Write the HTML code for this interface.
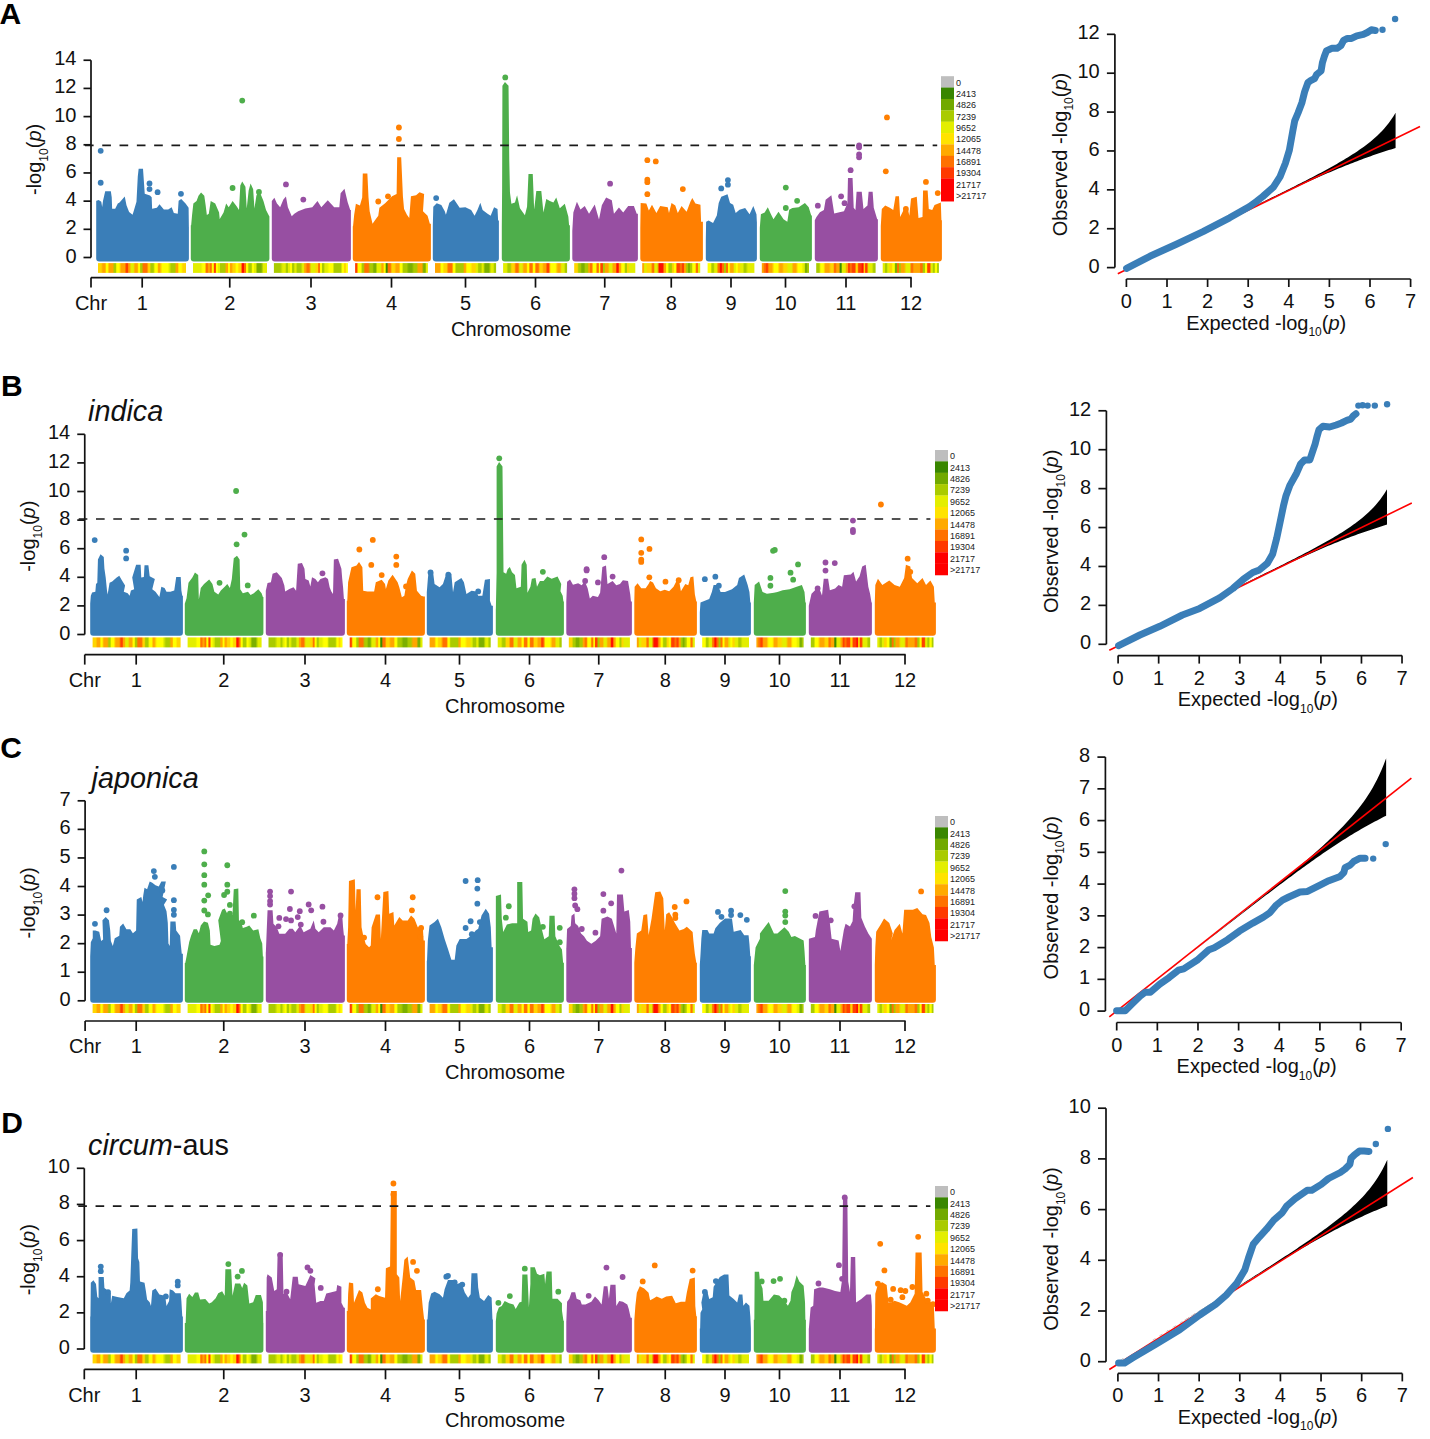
<!DOCTYPE html><html><head><meta charset="utf-8"><style>html,body{margin:0;padding:0;background:#fff;overflow:hidden}svg{display:block}</style></head><body>
<svg width="1430" height="1439" viewBox="0 0 1430 1439">
<rect width="1430" height="1439" fill="#fff"/>
<text x="-0.5" y="24.3" font-size="30" font-weight="bold" font-family="'Liberation Sans', sans-serif" fill="#000">A</text>
<text x="1.0" y="396.2" font-size="30" font-weight="bold" font-family="'Liberation Sans', sans-serif" fill="#000">B</text>
<text x="0.3" y="757.5" font-size="30" font-weight="bold" font-family="'Liberation Sans', sans-serif" fill="#000">C</text>
<text x="1.3" y="1133" font-size="30" font-weight="bold" font-family="'Liberation Sans', sans-serif" fill="#000">D</text>
<text x="88" y="420.8" font-size="28.8" font-style="italic" font-family="'Liberation Sans', sans-serif" fill="#111">indica</text>
<text x="91.5" y="788.3" font-size="28.8" font-style="italic" font-family="'Liberation Sans', sans-serif" fill="#111">japonica</text>
<text x="88" y="1155.4" font-size="28.8" font-family="'Liberation Sans', sans-serif" fill="#111"><tspan font-style="italic">circum</tspan>-aus</text>
<path d="M91,257.5 V60.24" stroke="#111" stroke-width="1.7" fill="none"/>
<path d="M83.5,257.5 H91" stroke="#111" stroke-width="1.7"/>
<text x="76.5" y="262.5" text-anchor="end" font-size="20" font-family="'Liberation Sans', sans-serif" fill="#111">0</text>
<path d="M83.5,229.32 H91" stroke="#111" stroke-width="1.7"/>
<text x="76.5" y="234.32" text-anchor="end" font-size="20" font-family="'Liberation Sans', sans-serif" fill="#111">2</text>
<path d="M83.5,201.14 H91" stroke="#111" stroke-width="1.7"/>
<text x="76.5" y="206.14" text-anchor="end" font-size="20" font-family="'Liberation Sans', sans-serif" fill="#111">4</text>
<path d="M83.5,172.96 H91" stroke="#111" stroke-width="1.7"/>
<text x="76.5" y="177.96" text-anchor="end" font-size="20" font-family="'Liberation Sans', sans-serif" fill="#111">6</text>
<path d="M83.5,144.78 H91" stroke="#111" stroke-width="1.7"/>
<text x="76.5" y="149.78" text-anchor="end" font-size="20" font-family="'Liberation Sans', sans-serif" fill="#111">8</text>
<path d="M83.5,116.6 H91" stroke="#111" stroke-width="1.7"/>
<text x="76.5" y="121.6" text-anchor="end" font-size="20" font-family="'Liberation Sans', sans-serif" fill="#111">10</text>
<path d="M83.5,88.42 H91" stroke="#111" stroke-width="1.7"/>
<text x="76.5" y="93.42" text-anchor="end" font-size="20" font-family="'Liberation Sans', sans-serif" fill="#111">12</text>
<path d="M83.5,60.24 H91" stroke="#111" stroke-width="1.7"/>
<text x="76.5" y="65.24" text-anchor="end" font-size="20" font-family="'Liberation Sans', sans-serif" fill="#111">14</text>
<text transform="translate(41.3,159.4) rotate(-90)" text-anchor="middle" font-size="20" font-family="'Liberation Sans', sans-serif" fill="#111">-log<tspan font-size="12" dy="6.5">10</tspan><tspan dy="-6.5">(</tspan><tspan font-style="italic">p</tspan>)</text>
<path d="M96.2,258.6 L96.2,200.82 L96.52,200.82 L98.69,199.95 L101.29,201.69 L102.16,206.9 L103.03,200.82 L105.2,191.26 L110.85,191.26 L111.72,197.34 L112.15,208.64 L115.2,208.64 L117.8,203.42 L119.54,202.55 L124.75,196.47 L126.49,205.16 L129.1,212.11 L132.57,214.72 L133.44,212.11 L136.48,201.69 L137.78,176.49 L138.65,168.67 L143,168.67 L144.74,193.87 L149.95,195.6 L151.69,197.34 L152.12,208.64 L156.9,207.77 L159.5,204.29 L163.85,209.5 L168.19,209.5 L171.67,207.33 L173.84,212.98 L177.75,213.85 L178.62,200.82 L181.23,199.08 L185.57,203.42 L188.61,207.77 L188.87,226.88 L188.9,226.88 L188.9,258.6 Q188.9,261.6 185.9,261.6 L99.2,261.6 Q96.2,261.6 96.2,258.6 Z" fill="#3A7EB8"/>
<circle cx="100.69" cy="150.86" r="2.9" fill="#3A7EB8"/>
<circle cx="100.69" cy="182.75" r="2.9" fill="#3A7EB8"/>
<circle cx="149.51" cy="183.44" r="2.9" fill="#3A7EB8"/>
<circle cx="149.51" cy="189.09" r="2.9" fill="#3A7EB8"/>
<circle cx="157.59" cy="192.13" r="2.9" fill="#3A7EB8"/>
<circle cx="180.96" cy="193.87" r="2.9" fill="#3A7EB8"/>
<linearGradient id="g0_0" x1="0" x2="1" y1="0" y2="0"><stop offset="0.0100" stop-color="#ffd500"/><stop offset="0.0353" stop-color="#ffd500"/><stop offset="0.0552" stop-color="#ffa500"/><stop offset="0.0806" stop-color="#ffa500"/><stop offset="0.0955" stop-color="#ffff00"/><stop offset="0.1082" stop-color="#ffff00"/><stop offset="0.1282" stop-color="#ffa500"/><stop offset="0.1662" stop-color="#ffa500"/><stop offset="0.1861" stop-color="#aacb00"/><stop offset="0.1988" stop-color="#aacb00"/><stop offset="0.2137" stop-color="#ffff00"/><stop offset="0.2391" stop-color="#ffff00"/><stop offset="0.2640" stop-color="#ffa500"/><stop offset="0.3020" stop-color="#ffa500"/><stop offset="0.3228" stop-color="#ff4000"/><stop offset="0.3376" stop-color="#ff4000"/><stop offset="0.3484" stop-color="#ffa500"/><stop offset="0.3611" stop-color="#ffa500"/><stop offset="0.3760" stop-color="#e3ee00"/><stop offset="0.4014" stop-color="#e3ee00"/><stop offset="0.4213" stop-color="#ffa500"/><stop offset="0.4466" stop-color="#ffa500"/><stop offset="0.4616" stop-color="#ffff00"/><stop offset="0.4743" stop-color="#ffff00"/><stop offset="0.4842" stop-color="#aacb00"/><stop offset="0.4969" stop-color="#aacb00"/><stop offset="0.5168" stop-color="#ff7100"/><stop offset="0.5549" stop-color="#ff7100"/><stop offset="0.5748" stop-color="#ffd500"/><stop offset="0.5875" stop-color="#ffd500"/><stop offset="0.6024" stop-color="#aacb00"/><stop offset="0.6278" stop-color="#aacb00"/><stop offset="0.6477" stop-color="#ffff00"/><stop offset="0.6731" stop-color="#ffff00"/><stop offset="0.6880" stop-color="#ffa500"/><stop offset="0.7007" stop-color="#ffa500"/><stop offset="0.7306" stop-color="#ffff00"/><stop offset="0.7940" stop-color="#ffff00"/><stop offset="0.8338" stop-color="#aacb00"/><stop offset="0.8718" stop-color="#aacb00"/><stop offset="0.8918" stop-color="#ffa500"/><stop offset="0.9045" stop-color="#ffa500"/><stop offset="0.9194" stop-color="#ffff00"/><stop offset="0.9448" stop-color="#ffff00"/><stop offset="0.9647" stop-color="#ffd500"/><stop offset="0.9900" stop-color="#ffd500"/></linearGradient>
<rect x="98" y="263.1" width="88" height="9.8" fill="url(#g0_0)"/>
<path d="M190.8,258.6 L190.8,225.32 L191.17,225.32 L192.07,215.03 L193.36,203.46 L196.57,200.88 L198.5,195.74 L201.08,192.53 L204.29,195.74 L205.58,204.74 L206.86,215.03 L208.79,213.74 L210.72,200.88 L215.22,203.46 L219.08,212.46 L219.72,218.89 L223.58,212.46 L226.15,203.46 L228.72,207.31 L232.58,200.88 L236.44,206.03 L239.01,209.89 L240.3,185.45 L242.23,181.59 L245.44,186.74 L246.73,208.6 L248.66,190.6 L250.59,183.52 L253.16,189.31 L254.44,208.6 L256.37,195.74 L258.95,189.95 L263.45,200.88 L266.02,209.89 L269.23,216.32 L269.4,216.32 L269.4,258.6 Q269.4,261.6 266.4,261.6 L193.8,261.6 Q190.8,261.6 190.8,258.6 Z" fill="#4EAE4B"/>
<circle cx="242.23" cy="100.58" r="2.9" fill="#4EAE4B"/>
<circle cx="232.58" cy="188.02" r="2.9" fill="#4EAE4B"/>
<circle cx="258.95" cy="191.88" r="2.9" fill="#4EAE4B"/>
<linearGradient id="g0_1" x1="0" x2="1" y1="0" y2="0"><stop offset="0.0106" stop-color="#e3ee00"/><stop offset="0.0376" stop-color="#e3ee00"/><stop offset="0.0641" stop-color="#e3ee00"/><stop offset="0.1046" stop-color="#e3ee00"/><stop offset="0.1320" stop-color="#ffff00"/><stop offset="0.1612" stop-color="#ffff00"/><stop offset="0.1789" stop-color="#ff7100"/><stop offset="0.1946" stop-color="#ff7100"/><stop offset="0.2070" stop-color="#ffa500"/><stop offset="0.2227" stop-color="#ffa500"/><stop offset="0.2342" stop-color="#ff7100"/><stop offset="0.2477" stop-color="#ff7100"/><stop offset="0.2592" stop-color="#ffff00"/><stop offset="0.2749" stop-color="#ffff00"/><stop offset="0.2873" stop-color="#ff4000"/><stop offset="0.3031" stop-color="#ff4000"/><stop offset="0.3154" stop-color="#ffff00"/><stop offset="0.3312" stop-color="#ffff00"/><stop offset="0.3435" stop-color="#e3ee00"/><stop offset="0.3593" stop-color="#e3ee00"/><stop offset="0.3716" stop-color="#aacb00"/><stop offset="0.3874" stop-color="#aacb00"/><stop offset="0.4042" stop-color="#aacb00"/><stop offset="0.4312" stop-color="#aacb00"/><stop offset="0.4488" stop-color="#ffa500"/><stop offset="0.4668" stop-color="#ffa500"/><stop offset="0.4792" stop-color="#ffff00"/><stop offset="0.4927" stop-color="#ffff00"/><stop offset="0.5051" stop-color="#ffa500"/><stop offset="0.5231" stop-color="#ffa500"/><stop offset="0.5407" stop-color="#ffd500"/><stop offset="0.5677" stop-color="#ffd500"/><stop offset="0.5854" stop-color="#ffff00"/><stop offset="0.6034" stop-color="#ffff00"/><stop offset="0.6210" stop-color="#ffd500"/><stop offset="0.6480" stop-color="#ffd500"/><stop offset="0.6657" stop-color="#ff1000"/><stop offset="0.6837" stop-color="#ff1000"/><stop offset="0.6961" stop-color="#ff7100"/><stop offset="0.7096" stop-color="#ff7100"/><stop offset="0.7210" stop-color="#ffff00"/><stop offset="0.7368" stop-color="#ffff00"/><stop offset="0.7553" stop-color="#aacb00"/><stop offset="0.7868" stop-color="#aacb00"/><stop offset="0.8045" stop-color="#ffff00"/><stop offset="0.8180" stop-color="#ffff00"/><stop offset="0.8295" stop-color="#e3ee00"/><stop offset="0.8452" stop-color="#e3ee00"/><stop offset="0.8708" stop-color="#7cb000"/><stop offset="0.9203" stop-color="#7cb000"/><stop offset="0.9530" stop-color="#e3ee00"/><stop offset="0.9867" stop-color="#e3ee00"/></linearGradient>
<rect x="193" y="263.1" width="74" height="9.8" fill="url(#g0_1)"/>
<path d="M271.8,258.6 L271.8,215.03 L271.8,215.03 L271.81,200.88 L274.38,197.67 L276.95,203.46 L280.16,207.31 L283.38,199.6 L285.95,196.38 L287.88,207.31 L291.74,216.32 L294.31,213.74 L298.17,211.17 L305.24,208.6 L312.31,207.31 L317.46,200.88 L321.32,207.31 L327.75,200.24 L334.18,207.31 L339.32,207.31 L340.61,193.17 L344.47,188.67 L347.68,202.17 L350.25,209.89 L350.9,209.89 L350.9,258.6 Q350.9,261.6 347.9,261.6 L274.8,261.6 Q271.8,261.6 271.8,258.6 Z" fill="#974FA2"/>
<circle cx="285.95" cy="184.42" r="2.9" fill="#974FA2"/>
<circle cx="303.31" cy="199.6" r="2.9" fill="#974FA2"/>
<linearGradient id="g0_2" x1="0" x2="1" y1="0" y2="0"><stop offset="0.0239" stop-color="#aacb00"/><stop offset="0.0846" stop-color="#aacb00"/><stop offset="0.1208" stop-color="#e3ee00"/><stop offset="0.1523" stop-color="#e3ee00"/><stop offset="0.1700" stop-color="#aacb00"/><stop offset="0.1835" stop-color="#aacb00"/><stop offset="0.1949" stop-color="#e3ee00"/><stop offset="0.2107" stop-color="#e3ee00"/><stop offset="0.2231" stop-color="#ffff00"/><stop offset="0.2388" stop-color="#ffff00"/><stop offset="0.2520" stop-color="#aacb00"/><stop offset="0.2700" stop-color="#aacb00"/><stop offset="0.2824" stop-color="#e3ee00"/><stop offset="0.2959" stop-color="#e3ee00"/><stop offset="0.3189" stop-color="#aacb00"/><stop offset="0.3639" stop-color="#aacb00"/><stop offset="0.3877" stop-color="#e3ee00"/><stop offset="0.4035" stop-color="#e3ee00"/><stop offset="0.4158" stop-color="#ffa500"/><stop offset="0.4316" stop-color="#ffa500"/><stop offset="0.4484" stop-color="#ff7100"/><stop offset="0.4753" stop-color="#ff7100"/><stop offset="0.5036" stop-color="#e3ee00"/><stop offset="0.5486" stop-color="#e3ee00"/><stop offset="0.5733" stop-color="#ffd500"/><stop offset="0.5913" stop-color="#ffd500"/><stop offset="0.6037" stop-color="#ff7100"/><stop offset="0.6172" stop-color="#ff7100"/><stop offset="0.6287" stop-color="#ffff00"/><stop offset="0.6444" stop-color="#ffff00"/><stop offset="0.6568" stop-color="#aacb00"/><stop offset="0.6725" stop-color="#aacb00"/><stop offset="0.6902" stop-color="#e3ee00"/><stop offset="0.7194" stop-color="#e3ee00"/><stop offset="0.7486" stop-color="#ffff00"/><stop offset="0.7936" stop-color="#ffff00"/><stop offset="0.8174" stop-color="#aacb00"/><stop offset="0.8332" stop-color="#aacb00"/><stop offset="0.8570" stop-color="#aacb00"/><stop offset="0.9020" stop-color="#aacb00"/><stop offset="0.9259" stop-color="#ffff00"/><stop offset="0.9416" stop-color="#ffff00"/><stop offset="0.9531" stop-color="#ffd500"/><stop offset="0.9666" stop-color="#ffd500"/><stop offset="0.9781" stop-color="#ffff00"/><stop offset="0.9938" stop-color="#ffff00"/></linearGradient>
<rect x="273.9" y="263.1" width="74" height="9.8" fill="url(#g0_2)"/>
<path d="M352.8,258.6 L352.8,226.15 L353.03,226.15 L354.17,214.68 L355.89,203.78 L359.91,205.5 L362.2,197.48 L362.78,173.39 L367.36,173.39 L368.51,197.48 L369.66,211.24 L372.52,223.85 L374.82,220.41 L378.26,215.83 L379.4,207.8 L385.14,203.21 L392.02,196.33 L396.61,194.04 L397.18,157.34 L401.19,157.34 L402.91,196.33 L404.06,208.94 L406.93,214.68 L409.22,218.12 L410.94,196.33 L416.1,195.18 L419.54,192.32 L424.13,194.04 L422.98,211.24 L427.57,215.83 L429.86,223.85 L430.9,223.85 L430.9,258.6 Q430.9,261.6 427.9,261.6 L355.8,261.6 Q352.8,261.6 352.8,258.6 Z" fill="#FF7F01"/>
<circle cx="398.9" cy="127.52" r="2.9" fill="#FF7F01"/>
<circle cx="398.9" cy="138.99" r="2.9" fill="#FF7F01"/>
<circle cx="378.26" cy="201.49" r="2.9" fill="#FF7F01"/>
<circle cx="388" cy="196.33" r="2.9" fill="#FF7F01"/>
<linearGradient id="g0_3" x1="0" x2="1" y1="0" y2="0"><stop offset="0.0063" stop-color="#ff4000"/><stop offset="0.0223" stop-color="#ff4000"/><stop offset="0.0429" stop-color="#ffff00"/><stop offset="0.0795" stop-color="#ffff00"/><stop offset="0.0993" stop-color="#aacb00"/><stop offset="0.1130" stop-color="#aacb00"/><stop offset="0.1354" stop-color="#ff7100"/><stop offset="0.1789" stop-color="#ff7100"/><stop offset="0.2076" stop-color="#aacb00"/><stop offset="0.2373" stop-color="#aacb00"/><stop offset="0.2580" stop-color="#7cb000"/><stop offset="0.2808" stop-color="#7cb000"/><stop offset="0.3060" stop-color="#e3ee00"/><stop offset="0.3471" stop-color="#e3ee00"/><stop offset="0.3696" stop-color="#ffa500"/><stop offset="0.3856" stop-color="#ffa500"/><stop offset="0.3981" stop-color="#ffff00"/><stop offset="0.4141" stop-color="#ffff00"/><stop offset="0.4258" stop-color="#3a8a00"/><stop offset="0.4395" stop-color="#3a8a00"/><stop offset="0.4557" stop-color="#ff7100"/><stop offset="0.4831" stop-color="#ff7100"/><stop offset="0.5064" stop-color="#ffd500"/><stop offset="0.5384" stop-color="#ffd500"/><stop offset="0.5654" stop-color="#ffa500"/><stop offset="0.6020" stop-color="#ffa500"/><stop offset="0.6235" stop-color="#ffff00"/><stop offset="0.6418" stop-color="#ffff00"/><stop offset="0.6651" stop-color="#aacb00"/><stop offset="0.7063" stop-color="#aacb00"/><stop offset="0.7386" stop-color="#7cb000"/><stop offset="0.7798" stop-color="#7cb000"/><stop offset="0.8085" stop-color="#aacb00"/><stop offset="0.8405" stop-color="#aacb00"/><stop offset="0.8710" stop-color="#ffa500"/><stop offset="0.9167" stop-color="#ffa500"/><stop offset="0.9428" stop-color="#7cb000"/><stop offset="0.9633" stop-color="#7cb000"/><stop offset="0.9777" stop-color="#e3ee00"/><stop offset="0.9937" stop-color="#e3ee00"/></linearGradient>
<rect x="355.1" y="263.1" width="72.8" height="9.8" fill="url(#g0_3)"/>
<path d="M432.8,258.6 L432.8,226.15 L432.8,226.15 L433.3,206.65 L436.74,203.21 L441.33,204.93 L444.77,211.24 L445.92,214.68 L449.36,202.64 L453.94,199.2 L459.68,207.8 L465.41,207.22 L471.15,210.09 L474.59,215.83 L477.45,210.09 L480.32,202.64 L482.61,210.09 L487.2,213.53 L490.64,215.83 L494.08,207.22 L497.52,208.94 L498.1,220.41 L498.9,220.41 L498.9,258.6 Q498.9,261.6 495.9,261.6 L435.8,261.6 Q432.8,261.6 432.8,258.6 Z" fill="#3A7EB8"/>
<circle cx="436.17" cy="198.05" r="2.9" fill="#3A7EB8"/>
<linearGradient id="g0_4" x1="0" x2="1" y1="0" y2="0"><stop offset="0.0217" stop-color="#ffa500"/><stop offset="0.0770" stop-color="#ffa500"/><stop offset="0.1063" stop-color="#ffff00"/><stop offset="0.1255" stop-color="#ffff00"/><stop offset="0.1482" stop-color="#ffd500"/><stop offset="0.1866" stop-color="#ffd500"/><stop offset="0.2225" stop-color="#ff7100"/><stop offset="0.2754" stop-color="#ff7100"/><stop offset="0.3037" stop-color="#ffff00"/><stop offset="0.3229" stop-color="#ffff00"/><stop offset="0.3456" stop-color="#aacb00"/><stop offset="0.3840" stop-color="#aacb00"/><stop offset="0.4161" stop-color="#aacb00"/><stop offset="0.4594" stop-color="#aacb00"/><stop offset="0.4821" stop-color="#ffa500"/><stop offset="0.4965" stop-color="#ffa500"/><stop offset="0.5229" stop-color="#ffff00"/><stop offset="0.5758" stop-color="#ffff00"/><stop offset="0.6136" stop-color="#ffd500"/><stop offset="0.6568" stop-color="#ffd500"/><stop offset="0.6795" stop-color="#e3ee00"/><stop offset="0.6939" stop-color="#e3ee00"/><stop offset="0.7147" stop-color="#aacb00"/><stop offset="0.7531" stop-color="#aacb00"/><stop offset="0.7739" stop-color="#e3ee00"/><stop offset="0.7883" stop-color="#e3ee00"/><stop offset="0.8185" stop-color="#7cb000"/><stop offset="0.8810" stop-color="#7cb000"/><stop offset="0.9188" stop-color="#e3ee00"/><stop offset="0.9524" stop-color="#e3ee00"/><stop offset="0.9732" stop-color="#aacb00"/><stop offset="0.9924" stop-color="#aacb00"/></linearGradient>
<rect x="435" y="263.1" width="61.1" height="9.8" fill="url(#g0_4)"/>
<path d="M501.8,258.6 L501.8,228.09 L501.8,228.09 L502.12,188.21 L502.41,85.64 L504.97,82.08 L508.53,85.64 L509.25,159.72 L509.96,192.48 L511.38,203.87 L514.94,202.45 L517.08,195.33 L519.93,208.15 L524.91,215.27 L527.05,206.72 L528.48,173.96 L532.75,173.96 L534.17,209.57 L536.31,191.05 L541.3,191.05 L543.43,212.42 L546.28,198.89 L549.84,201.03 L553.4,202.45 L556.25,197.46 L559.81,208.15 L564.8,203.87 L568.36,216.7 L569.07,225.24 L569.9,225.24 L569.9,258.6 Q569.9,261.6 566.9,261.6 L504.8,261.6 Q501.8,261.6 501.8,258.6 Z" fill="#4EAE4B"/>
<circle cx="505.26" cy="77.38" r="2.9" fill="#4EAE4B"/>
<linearGradient id="g0_5" x1="0" x2="1" y1="0" y2="0"><stop offset="0.0144" stop-color="#e3ee00"/><stop offset="0.0511" stop-color="#e3ee00"/><stop offset="0.0782" stop-color="#aacb00"/><stop offset="0.1103" stop-color="#aacb00"/><stop offset="0.1374" stop-color="#ffd500"/><stop offset="0.1741" stop-color="#ffd500"/><stop offset="0.2011" stop-color="#ff7100"/><stop offset="0.2333" stop-color="#ff7100"/><stop offset="0.2603" stop-color="#e3ee00"/><stop offset="0.2970" stop-color="#e3ee00"/><stop offset="0.3259" stop-color="#ffa500"/><stop offset="0.3626" stop-color="#ffa500"/><stop offset="0.3834" stop-color="#ffff00"/><stop offset="0.3994" stop-color="#ffff00"/><stop offset="0.4193" stop-color="#ff7100"/><stop offset="0.4537" stop-color="#ff7100"/><stop offset="0.4744" stop-color="#ffff00"/><stop offset="0.4928" stop-color="#ffff00"/><stop offset="0.5135" stop-color="#ff7100"/><stop offset="0.5480" stop-color="#ff7100"/><stop offset="0.5750" stop-color="#ffd500"/><stop offset="0.6094" stop-color="#ffd500"/><stop offset="0.6356" stop-color="#ffa500"/><stop offset="0.6677" stop-color="#ffa500"/><stop offset="0.6884" stop-color="#ff4000"/><stop offset="0.7091" stop-color="#ff4000"/><stop offset="0.7452" stop-color="#ffff00"/><stop offset="0.8163" stop-color="#ffff00"/><stop offset="0.8569" stop-color="#ffa500"/><stop offset="0.8890" stop-color="#ffa500"/><stop offset="0.9161" stop-color="#e3ee00"/><stop offset="0.9528" stop-color="#e3ee00"/><stop offset="0.9744" stop-color="#aacb00"/><stop offset="0.9928" stop-color="#aacb00"/></linearGradient>
<rect x="503.1" y="263.1" width="64" height="9.8" fill="url(#g0_5)"/>
<path d="M572.3,258.6 L572.3,230.94 L572.3,230.94 L573.35,212.42 L576.91,201.74 L580.47,209.57 L584.74,206.01 L589.02,213.85 L594.72,204.59 L598.99,219.54 L601.84,205.3 L606.11,197.46 L611.81,200.31 L613.95,213.85 L618.93,207.44 L623.21,212.42 L628.19,206.01 L633.89,206.01 L636.74,213.85 L637.9,213.85 L637.9,258.6 Q637.9,261.6 634.9,261.6 L575.3,261.6 Q572.3,261.6 572.3,258.6 Z" fill="#974FA2"/>
<circle cx="610.1" cy="183.65" r="2.9" fill="#974FA2"/>
<linearGradient id="g0_6" x1="0" x2="1" y1="0" y2="0"><stop offset="0.0142" stop-color="#ffd500"/><stop offset="0.0502" stop-color="#ffd500"/><stop offset="0.0748" stop-color="#aacb00"/><stop offset="0.1012" stop-color="#aacb00"/><stop offset="0.1248" stop-color="#7cb000"/><stop offset="0.1585" stop-color="#7cb000"/><stop offset="0.1849" stop-color="#aacb00"/><stop offset="0.2185" stop-color="#aacb00"/><stop offset="0.2374" stop-color="#ffa500"/><stop offset="0.2518" stop-color="#ffa500"/><stop offset="0.2660" stop-color="#ff7100"/><stop offset="0.2876" stop-color="#ff7100"/><stop offset="0.3122" stop-color="#ffff00"/><stop offset="0.3530" stop-color="#ffff00"/><stop offset="0.3767" stop-color="#ff7100"/><stop offset="0.3959" stop-color="#ff7100"/><stop offset="0.4082" stop-color="#ffff00"/><stop offset="0.4202" stop-color="#ffff00"/><stop offset="0.4353" stop-color="#ff4000"/><stop offset="0.4617" stop-color="#ff4000"/><stop offset="0.4778" stop-color="#aacb00"/><stop offset="0.4922" stop-color="#aacb00"/><stop offset="0.5130" stop-color="#ffa500"/><stop offset="0.5514" stop-color="#ffa500"/><stop offset="0.5797" stop-color="#e3ee00"/><stop offset="0.6134" stop-color="#e3ee00"/><stop offset="0.6408" stop-color="#ffa500"/><stop offset="0.6768" stop-color="#ffa500"/><stop offset="0.6995" stop-color="#ff1000"/><stop offset="0.7211" stop-color="#ff1000"/><stop offset="0.7372" stop-color="#ffa500"/><stop offset="0.7564" stop-color="#ffa500"/><stop offset="0.7791" stop-color="#ffff00"/><stop offset="0.8175" stop-color="#ffff00"/><stop offset="0.8392" stop-color="#aacb00"/><stop offset="0.8561" stop-color="#aacb00"/><stop offset="0.8674" stop-color="#ffd500"/><stop offset="0.8794" stop-color="#ffd500"/><stop offset="0.9096" stop-color="#e3ee00"/><stop offset="0.9745" stop-color="#e3ee00"/></linearGradient>
<rect x="574.2" y="263.1" width="61.1" height="9.8" fill="url(#g0_6)"/>
<path d="M640.3,258.6 L640.3,228.12 L640.3,228.12 L640.66,202.94 L646.33,203.57 L648.85,210.49 L651.99,204.83 L656.4,213.01 L660.18,206.09 L667.73,207.35 L668.99,213.01 L671.51,202.94 L675.28,205.46 L677.8,213.01 L681.58,206.09 L686.61,211.75 L690.39,201.68 L692.28,197.91 L695.42,203.57 L700.46,204.83 L701.09,221.82 L702.9,221.82 L702.9,258.6 Q702.9,261.6 699.9,261.6 L643.3,261.6 Q640.3,261.6 640.3,258.6 Z" fill="#FF7F01"/>
<circle cx="647.34" cy="160.14" r="2.9" fill="#FF7F01"/>
<circle cx="655.77" cy="161.4" r="2.9" fill="#FF7F01"/>
<circle cx="647.34" cy="179.65" r="2.9" fill="#FF7F01"/>
<circle cx="647.34" cy="182.17" r="2.9" fill="#FF7F01"/>
<circle cx="647.34" cy="194.13" r="2.9" fill="#FF7F01"/>
<circle cx="682.83" cy="189.09" r="2.9" fill="#FF7F01"/>
<linearGradient id="g0_7" x1="0" x2="1" y1="0" y2="0"><stop offset="0.0074" stop-color="#ffa500"/><stop offset="0.0263" stop-color="#ffa500"/><stop offset="0.0412" stop-color="#e3ee00"/><stop offset="0.0601" stop-color="#e3ee00"/><stop offset="0.0907" stop-color="#ffd500"/><stop offset="0.1498" stop-color="#ffd500"/><stop offset="0.1795" stop-color="#ff7100"/><stop offset="0.1960" stop-color="#ff7100"/><stop offset="0.2183" stop-color="#e3ee00"/><stop offset="0.2585" stop-color="#e3ee00"/><stop offset="0.2965" stop-color="#ff1000"/><stop offset="0.3532" stop-color="#ff1000"/><stop offset="0.3830" stop-color="#ffa500"/><stop offset="0.4019" stop-color="#ffa500"/><stop offset="0.4176" stop-color="#ffff00"/><stop offset="0.4389" stop-color="#ffff00"/><stop offset="0.4630" stop-color="#aacb00"/><stop offset="0.5032" stop-color="#aacb00"/><stop offset="0.5255" stop-color="#ffd500"/><stop offset="0.5420" stop-color="#ffd500"/><stop offset="0.5569" stop-color="#ffff00"/><stop offset="0.5781" stop-color="#ffff00"/><stop offset="0.6014" stop-color="#ff4000"/><stop offset="0.6392" stop-color="#ff4000"/><stop offset="0.6605" stop-color="#ff7100"/><stop offset="0.6770" stop-color="#ff7100"/><stop offset="0.6919" stop-color="#ff4000"/><stop offset="0.7132" stop-color="#ff4000"/><stop offset="0.7299" stop-color="#ffa500"/><stop offset="0.7511" stop-color="#ffa500"/><stop offset="0.7660" stop-color="#aacb00"/><stop offset="0.7825" stop-color="#aacb00"/><stop offset="0.7965" stop-color="#7cb000"/><stop offset="0.8154" stop-color="#7cb000"/><stop offset="0.8302" stop-color="#aacb00"/><stop offset="0.8491" stop-color="#aacb00"/><stop offset="0.8723" stop-color="#ffff00"/><stop offset="0.9125" stop-color="#ffff00"/><stop offset="0.9357" stop-color="#ff7100"/><stop offset="0.9546" stop-color="#ff7100"/><stop offset="0.9704" stop-color="#e3ee00"/><stop offset="0.9916" stop-color="#e3ee00"/></linearGradient>
<rect x="642.2" y="263.1" width="58" height="9.8" fill="url(#g0_7)"/>
<path d="M705.8,258.6 L705.8,240.7 L705.8,240.7 L706.12,221.82 L708.64,220.56 L713.05,223.08 L716.82,215.53 L718.71,202.94 L721.23,196.65 L727.52,194.13 L730.04,202.94 L733.19,204.83 L735.7,213.01 L739.48,209.86 L745.15,207.98 L749.55,214.27 L753.33,206.09 L756.48,214.27 L756.85,221.82 L756.9,221.82 L756.9,258.6 Q756.9,261.6 753.9,261.6 L708.8,261.6 Q705.8,261.6 705.8,258.6 Z" fill="#3A7EB8"/>
<circle cx="727.9" cy="180.03" r="2.9" fill="#3A7EB8"/>
<circle cx="727.9" cy="184.69" r="2.9" fill="#3A7EB8"/>
<circle cx="721.23" cy="188.46" r="2.9" fill="#3A7EB8"/>
<linearGradient id="g0_8" x1="0" x2="1" y1="0" y2="0"><stop offset="0.0178" stop-color="#ffff00"/><stop offset="0.0630" stop-color="#ffff00"/><stop offset="0.0926" stop-color="#aacb00"/><stop offset="0.1227" stop-color="#aacb00"/><stop offset="0.1523" stop-color="#e3ee00"/><stop offset="0.1975" stop-color="#e3ee00"/><stop offset="0.2251" stop-color="#ff7100"/><stop offset="0.2502" stop-color="#ff7100"/><stop offset="0.2700" stop-color="#ff1000"/><stop offset="0.2951" stop-color="#ff1000"/><stop offset="0.3148" stop-color="#ff7100"/><stop offset="0.3399" stop-color="#ff7100"/><stop offset="0.3587" stop-color="#aacb00"/><stop offset="0.3813" stop-color="#aacb00"/><stop offset="0.4000" stop-color="#ff7100"/><stop offset="0.4251" stop-color="#ff7100"/><stop offset="0.4429" stop-color="#ffff00"/><stop offset="0.4630" stop-color="#ffff00"/><stop offset="0.4916" stop-color="#ffa500"/><stop offset="0.5443" stop-color="#ffa500"/><stop offset="0.5729" stop-color="#e3ee00"/><stop offset="0.5930" stop-color="#e3ee00"/><stop offset="0.6108" stop-color="#ffff00"/><stop offset="0.6359" stop-color="#ffff00"/><stop offset="0.6556" stop-color="#ffd500"/><stop offset="0.6807" stop-color="#ffd500"/><stop offset="0.7083" stop-color="#e3ee00"/><stop offset="0.7535" stop-color="#e3ee00"/><stop offset="0.7831" stop-color="#aacb00"/><stop offset="0.8133" stop-color="#aacb00"/><stop offset="0.8636" stop-color="#e3ee00"/><stop offset="0.9615" stop-color="#e3ee00"/></linearGradient>
<rect x="707.6" y="263.1" width="46.8" height="9.8" fill="url(#g0_8)"/>
<path d="M759.8,258.6 L759.8,228.12 L759.8,228.12 L760.88,214.27 L764.66,212.38 L767.8,207.35 L770.95,214.27 L773.47,219.31 L778.5,211.75 L783.54,219.31 L787.32,221.82 L789.2,209.86 L792.35,207.98 L798.65,207.35 L804.94,202.94 L808.72,207.35 L811.23,215.53 L811.9,215.53 L811.9,258.6 Q811.9,261.6 808.9,261.6 L762.8,261.6 Q759.8,261.6 759.8,258.6 Z" fill="#4EAE4B"/>
<circle cx="785.81" cy="187.58" r="2.9" fill="#4EAE4B"/>
<circle cx="797.13" cy="200.8" r="2.9" fill="#4EAE4B"/>
<circle cx="785.81" cy="207.98" r="2.9" fill="#4EAE4B"/>
<linearGradient id="g0_9" x1="0" x2="1" y1="0" y2="0"><stop offset="0.0088" stop-color="#ffa500"/><stop offset="0.0312" stop-color="#ffa500"/><stop offset="0.0498" stop-color="#ff7100"/><stop offset="0.0747" stop-color="#ff7100"/><stop offset="0.0942" stop-color="#ff4000"/><stop offset="0.1191" stop-color="#ff4000"/><stop offset="0.1524" stop-color="#ffa500"/><stop offset="0.2121" stop-color="#ffa500"/><stop offset="0.2639" stop-color="#ffff00"/><stop offset="0.3361" stop-color="#ffff00"/><stop offset="0.3830" stop-color="#ffa500"/><stop offset="0.4303" stop-color="#ffa500"/><stop offset="0.4684" stop-color="#ffd500"/><stop offset="0.5182" stop-color="#ffd500"/><stop offset="0.5632" stop-color="#e3ee00"/><stop offset="0.6279" stop-color="#e3ee00"/><stop offset="0.6729" stop-color="#ffa500"/><stop offset="0.7227" stop-color="#ffa500"/><stop offset="0.7696" stop-color="#ffff00"/><stop offset="0.8393" stop-color="#ffff00"/><stop offset="0.8764" stop-color="#e3ee00"/><stop offset="0.9013" stop-color="#e3ee00"/><stop offset="0.9228" stop-color="#7cb000"/><stop offset="0.9527" stop-color="#7cb000"/><stop offset="0.9723" stop-color="#aacb00"/><stop offset="0.9922" stop-color="#aacb00"/></linearGradient>
<rect x="761.8" y="263.1" width="47.2" height="9.8" fill="url(#g0_9)"/>
<path d="M814.8,258.6 L814.8,237.55 L814.8,237.55 L814.8,220.36 L816.46,216.92 L819.9,212.33 L823.91,210.04 L825.63,199.72 L831.36,195.14 L834.23,213.48 L839.39,212.33 L843.97,211.19 L847.41,203.16 L847.98,177.95 L852.57,177.95 L853.72,207.75 L855.44,210.04 L856.58,191.7 L861.74,191.7 L863.46,208.9 L867.47,205.46 L868.62,191.7 L872.63,191.7 L873.78,207.75 L877.21,219.21 L877.9,219.21 L877.9,258.6 Q877.9,261.6 874.9,261.6 L817.8,261.6 Q814.8,261.6 814.8,258.6 Z" fill="#974FA2"/>
<circle cx="817.84" cy="205.69" r="2.9" fill="#974FA2"/>
<circle cx="841.11" cy="196.29" r="2.9" fill="#974FA2"/>
<circle cx="844.55" cy="203.16" r="2.9" fill="#974FA2"/>
<circle cx="850.62" cy="170.15" r="2.9" fill="#974FA2"/>
<circle cx="859.1" cy="145.28" r="2.9" fill="#974FA2"/>
<circle cx="859.1" cy="147.23" r="2.9" fill="#974FA2"/>
<circle cx="859.1" cy="154.45" r="2.9" fill="#974FA2"/>
<circle cx="859.1" cy="157.31" r="2.9" fill="#974FA2"/>
<linearGradient id="g0_10" x1="0" x2="1" y1="0" y2="0"><stop offset="0.0136" stop-color="#aacb00"/><stop offset="0.0481" stop-color="#aacb00"/><stop offset="0.0780" stop-color="#ffff00"/><stop offset="0.1195" stop-color="#ffff00"/><stop offset="0.1575" stop-color="#ffa500"/><stop offset="0.2128" stop-color="#ffa500"/><stop offset="0.2491" stop-color="#ffd500"/><stop offset="0.2859" stop-color="#ffd500"/><stop offset="0.3077" stop-color="#ff7100"/><stop offset="0.3261" stop-color="#ff7100"/><stop offset="0.3478" stop-color="#ffa500"/><stop offset="0.3847" stop-color="#ffa500"/><stop offset="0.4046" stop-color="#3a8a00"/><stop offset="0.4184" stop-color="#3a8a00"/><stop offset="0.4420" stop-color="#e3ee00"/><stop offset="0.4881" stop-color="#e3ee00"/><stop offset="0.5125" stop-color="#ffa500"/><stop offset="0.5286" stop-color="#ffa500"/><stop offset="0.5422" stop-color="#ff4000"/><stop offset="0.5607" stop-color="#ff4000"/><stop offset="0.5742" stop-color="#ff7100"/><stop offset="0.5904" stop-color="#ff7100"/><stop offset="0.6121" stop-color="#ff4000"/><stop offset="0.6513" stop-color="#ff4000"/><stop offset="0.6739" stop-color="#ffd500"/><stop offset="0.6923" stop-color="#ffd500"/><stop offset="0.7150" stop-color="#ff4000"/><stop offset="0.7542" stop-color="#ff4000"/><stop offset="0.7759" stop-color="#ff1000"/><stop offset="0.7920" stop-color="#ff1000"/><stop offset="0.8038" stop-color="#ffd500"/><stop offset="0.8176" stop-color="#ffd500"/><stop offset="0.8312" stop-color="#ff4000"/><stop offset="0.8519" stop-color="#ff4000"/><stop offset="0.8818" stop-color="#e3ee00"/><stop offset="0.9371" stop-color="#e3ee00"/><stop offset="0.9679" stop-color="#aacb00"/><stop offset="0.9909" stop-color="#aacb00"/></linearGradient>
<rect x="816.2" y="263.1" width="59.4" height="9.8" fill="url(#g0_10)"/>
<path d="M880.8,258.6 L880.8,226.09 L880.8,226.09 L881.8,208.9 L885.24,205.46 L889.82,207.75 L893.26,210.04 L895.55,196.29 L898.99,196.29 L900.14,216.92 L903.58,210.04 L907.59,207.18 L909.31,215.77 L911.03,198.58 L916.76,196.86 L918.48,218.07 L922.49,216.92 L923.07,190.55 L927.65,190.55 L928.8,208.9 L932.24,210.04 L934.53,204.88 L940.83,202.59 L941.41,220.36 L941.9,220.36 L941.9,258.6 Q941.9,261.6 938.9,261.6 L883.8,261.6 Q880.8,261.6 880.8,258.6 Z" fill="#FF7F01"/>
<circle cx="886.96" cy="117.42" r="2.9" fill="#FF7F01"/>
<circle cx="885.81" cy="171.3" r="2.9" fill="#FF7F01"/>
<circle cx="925.93" cy="181.96" r="2.9" fill="#FF7F01"/>
<circle cx="937.74" cy="193.08" r="2.9" fill="#FF7F01"/>
<circle cx="905.87" cy="208.9" r="2.9" fill="#FF7F01"/>
<linearGradient id="g0_11" x1="0" x2="1" y1="0" y2="0"><stop offset="0.0086" stop-color="#e3ee00"/><stop offset="0.0305" stop-color="#e3ee00"/><stop offset="0.0487" stop-color="#aacb00"/><stop offset="0.0730" stop-color="#aacb00"/><stop offset="0.0903" stop-color="#e3ee00"/><stop offset="0.1097" stop-color="#e3ee00"/><stop offset="0.1289" stop-color="#ffd500"/><stop offset="0.1581" stop-color="#ffd500"/><stop offset="0.1801" stop-color="#ffff00"/><stop offset="0.2069" stop-color="#ffff00"/><stop offset="0.2260" stop-color="#7cb000"/><stop offset="0.2479" stop-color="#7cb000"/><stop offset="0.2642" stop-color="#ff7100"/><stop offset="0.2837" stop-color="#ff7100"/><stop offset="0.2970" stop-color="#aacb00"/><stop offset="0.3117" stop-color="#aacb00"/><stop offset="0.3346" stop-color="#ffa500"/><stop offset="0.3784" stop-color="#ffa500"/><stop offset="0.4196" stop-color="#e3ee00"/><stop offset="0.4804" stop-color="#e3ee00"/><stop offset="0.5120" stop-color="#ff7100"/><stop offset="0.5315" stop-color="#ff7100"/><stop offset="0.5554" stop-color="#ffa500"/><stop offset="0.5968" stop-color="#ffa500"/><stop offset="0.6245" stop-color="#ffa500"/><stop offset="0.6537" stop-color="#ffa500"/><stop offset="0.6757" stop-color="#ff7100"/><stop offset="0.7025" stop-color="#ff7100"/><stop offset="0.7217" stop-color="#aacb00"/><stop offset="0.7436" stop-color="#aacb00"/><stop offset="0.7598" stop-color="#ffff00"/><stop offset="0.7793" stop-color="#ffff00"/><stop offset="0.8013" stop-color="#ff4000"/><stop offset="0.8378" stop-color="#ff4000"/><stop offset="0.8608" stop-color="#e3ee00"/><stop offset="0.8827" stop-color="#e3ee00"/><stop offset="0.8990" stop-color="#aacb00"/><stop offset="0.9184" stop-color="#aacb00"/><stop offset="0.9357" stop-color="#ffff00"/><stop offset="0.9600" stop-color="#ffff00"/><stop offset="0.9763" stop-color="#aacb00"/><stop offset="0.9933" stop-color="#aacb00"/></linearGradient>
<rect x="882.7" y="263.1" width="56.2" height="9.8" fill="url(#g0_11)"/>
<path d="M91,277.6 H911.6" stroke="#111" stroke-width="1.7" fill="none"/>
<path d="M91,277.6 V287.6" stroke="#111" stroke-width="1.7"/>
<text x="91" y="310" text-anchor="middle" font-size="20" font-family="'Liberation Sans', sans-serif" fill="#111">Chr</text>
<path d="M142.2,277.6 V287.6" stroke="#111" stroke-width="1.7"/>
<text x="142.2" y="310" text-anchor="middle" font-size="20" font-family="'Liberation Sans', sans-serif" fill="#111">1</text>
<path d="M229.75,277.6 V287.6" stroke="#111" stroke-width="1.7"/>
<text x="229.75" y="310" text-anchor="middle" font-size="20" font-family="'Liberation Sans', sans-serif" fill="#111">2</text>
<path d="M311,277.6 V287.6" stroke="#111" stroke-width="1.7"/>
<text x="311" y="310" text-anchor="middle" font-size="20" font-family="'Liberation Sans', sans-serif" fill="#111">3</text>
<path d="M391.5,277.6 V287.6" stroke="#111" stroke-width="1.7"/>
<text x="391.5" y="310" text-anchor="middle" font-size="20" font-family="'Liberation Sans', sans-serif" fill="#111">4</text>
<path d="M465.5,277.6 V287.6" stroke="#111" stroke-width="1.7"/>
<text x="465.5" y="310" text-anchor="middle" font-size="20" font-family="'Liberation Sans', sans-serif" fill="#111">5</text>
<path d="M535.5,277.6 V287.6" stroke="#111" stroke-width="1.7"/>
<text x="535.5" y="310" text-anchor="middle" font-size="20" font-family="'Liberation Sans', sans-serif" fill="#111">6</text>
<path d="M604.75,277.6 V287.6" stroke="#111" stroke-width="1.7"/>
<text x="604.75" y="310" text-anchor="middle" font-size="20" font-family="'Liberation Sans', sans-serif" fill="#111">7</text>
<path d="M671.25,277.6 V287.6" stroke="#111" stroke-width="1.7"/>
<text x="671.25" y="310" text-anchor="middle" font-size="20" font-family="'Liberation Sans', sans-serif" fill="#111">8</text>
<path d="M731,277.6 V287.6" stroke="#111" stroke-width="1.7"/>
<text x="731" y="310" text-anchor="middle" font-size="20" font-family="'Liberation Sans', sans-serif" fill="#111">9</text>
<path d="M785.5,277.6 V287.6" stroke="#111" stroke-width="1.7"/>
<text x="785.5" y="310" text-anchor="middle" font-size="20" font-family="'Liberation Sans', sans-serif" fill="#111">10</text>
<path d="M846,277.6 V287.6" stroke="#111" stroke-width="1.7"/>
<text x="846" y="310" text-anchor="middle" font-size="20" font-family="'Liberation Sans', sans-serif" fill="#111">11</text>
<path d="M911,277.6 V287.6" stroke="#111" stroke-width="1.7"/>
<text x="911" y="310" text-anchor="middle" font-size="20" font-family="'Liberation Sans', sans-serif" fill="#111">12</text>
<text x="511" y="336" text-anchor="middle" font-size="20" font-family="'Liberation Sans', sans-serif" fill="#111">Chromosome</text>
<path d="M84.95,145.3 H937.2" stroke="#1a1a1a" stroke-width="1.7" stroke-dasharray="8.65,8.65" fill="none"/>
<rect x="941" y="76.2" width="13" height="11.57" fill="#bebebe"/>
<text x="956" y="85.5" font-size="9" font-family="'Liberation Sans', sans-serif" fill="#222">0</text>
<rect x="941" y="87.57" width="13" height="11.57" fill="#398600"/>
<text x="956" y="96.87" font-size="9" font-family="'Liberation Sans', sans-serif" fill="#222">2413</text>
<rect x="941" y="98.94" width="13" height="11.57" fill="#71a900"/>
<text x="956" y="108.24" font-size="9" font-family="'Liberation Sans', sans-serif" fill="#222">4826</text>
<rect x="941" y="110.31" width="13" height="11.57" fill="#aacb00"/>
<text x="956" y="119.61" font-size="9" font-family="'Liberation Sans', sans-serif" fill="#222">7239</text>
<rect x="941" y="121.68" width="13" height="11.57" fill="#e3ee00"/>
<text x="956" y="130.98" font-size="9" font-family="'Liberation Sans', sans-serif" fill="#222">9652</text>
<rect x="941" y="133.05" width="13" height="11.57" fill="#ffe300"/>
<text x="956" y="142.35" font-size="9" font-family="'Liberation Sans', sans-serif" fill="#222">12065</text>
<rect x="941" y="144.42" width="13" height="11.57" fill="#ffaa00"/>
<text x="956" y="153.72" font-size="9" font-family="'Liberation Sans', sans-serif" fill="#222">14478</text>
<rect x="941" y="155.79" width="13" height="11.57" fill="#ff7100"/>
<text x="956" y="165.09" font-size="9" font-family="'Liberation Sans', sans-serif" fill="#222">16891</text>
<rect x="941" y="167.16" width="13" height="11.57" fill="#ff3900"/>
<text x="956" y="176.46" font-size="9" font-family="'Liberation Sans', sans-serif" fill="#222">19304</text>
<rect x="941" y="178.53" width="13" height="11.57" fill="#ff0000"/>
<text x="956" y="187.83" font-size="9" font-family="'Liberation Sans', sans-serif" fill="#222">21717</text>
<rect x="941" y="189.9" width="13" height="11.57" fill="#ff0000"/>
<text x="956" y="199.2" font-size="9" font-family="'Liberation Sans', sans-serif" fill="#222">&gt;21717</text>
<path d="M84.75,634.5 V434.3" stroke="#111" stroke-width="1.7" fill="none"/>
<path d="M77.25,634.5 H84.75" stroke="#111" stroke-width="1.7"/>
<text x="70.25" y="639.5" text-anchor="end" font-size="20" font-family="'Liberation Sans', sans-serif" fill="#111">0</text>
<path d="M77.25,605.9 H84.75" stroke="#111" stroke-width="1.7"/>
<text x="70.25" y="610.9" text-anchor="end" font-size="20" font-family="'Liberation Sans', sans-serif" fill="#111">2</text>
<path d="M77.25,577.3 H84.75" stroke="#111" stroke-width="1.7"/>
<text x="70.25" y="582.3" text-anchor="end" font-size="20" font-family="'Liberation Sans', sans-serif" fill="#111">4</text>
<path d="M77.25,548.7 H84.75" stroke="#111" stroke-width="1.7"/>
<text x="70.25" y="553.7" text-anchor="end" font-size="20" font-family="'Liberation Sans', sans-serif" fill="#111">6</text>
<path d="M77.25,520.1 H84.75" stroke="#111" stroke-width="1.7"/>
<text x="70.25" y="525.1" text-anchor="end" font-size="20" font-family="'Liberation Sans', sans-serif" fill="#111">8</text>
<path d="M77.25,491.5 H84.75" stroke="#111" stroke-width="1.7"/>
<text x="70.25" y="496.5" text-anchor="end" font-size="20" font-family="'Liberation Sans', sans-serif" fill="#111">10</text>
<path d="M77.25,462.9 H84.75" stroke="#111" stroke-width="1.7"/>
<text x="70.25" y="467.9" text-anchor="end" font-size="20" font-family="'Liberation Sans', sans-serif" fill="#111">12</text>
<path d="M77.25,434.3 H84.75" stroke="#111" stroke-width="1.7"/>
<text x="70.25" y="439.3" text-anchor="end" font-size="20" font-family="'Liberation Sans', sans-serif" fill="#111">14</text>
<text transform="translate(35,536.2) rotate(-90)" text-anchor="middle" font-size="20" font-family="'Liberation Sans', sans-serif" fill="#111">-log<tspan font-size="12" dy="6.5">10</tspan><tspan dy="-6.5">(</tspan><tspan font-style="italic">p</tspan>)</text>
<path d="M90.2,632.7 L90.2,603.49 L90.2,603.49 L90.82,595.73 L92.12,592.5 L95.35,591.85 L96,584.09 L97.29,582.79 L97.94,559.51 L100.52,554.33 L103.76,556.92 L104.4,568.56 L105.7,577.62 L106.99,590.56 L107.64,594.44 L109.58,582.79 L112.17,581.5 L116.69,577.62 L119.28,575.68 L121.87,580.21 L125.1,585.38 L123.81,591.85 L127.69,593.14 L129.63,595.73 L130.92,590.56 L134.16,589.26 L132.22,577.62 L136.1,564.68 L140.63,564.68 L141.27,577.62 L143.86,576.97 L144.51,565.33 L148.39,565.33 L149.68,576.33 L154.86,578.91 L153.56,584.09 L152.27,589.26 L155.5,591.85 L159.39,597.02 L161.33,586.68 L164.56,587.97 L166.5,591.85 L170.38,591.85 L174.26,590.56 L176.2,576.97 L180.73,576.97 L181.38,590.56 L182.28,595.73 L182.9,595.73 L182.9,632.7 Q182.9,635.7 179.9,635.7 L93.2,635.7 Q90.2,635.7 90.2,632.7 Z" fill="#3A7EB8"/>
<circle cx="94.7" cy="540.1" r="2.9" fill="#3A7EB8"/>
<circle cx="126.14" cy="550.71" r="2.9" fill="#3A7EB8"/>
<circle cx="126.14" cy="558.47" r="2.9" fill="#3A7EB8"/>
<linearGradient id="g1_0" x1="0" x2="1" y1="0" y2="0"><stop offset="0.0100" stop-color="#ffd500"/><stop offset="0.0353" stop-color="#ffd500"/><stop offset="0.0552" stop-color="#ffa500"/><stop offset="0.0806" stop-color="#ffa500"/><stop offset="0.0955" stop-color="#ffff00"/><stop offset="0.1082" stop-color="#ffff00"/><stop offset="0.1282" stop-color="#ffa500"/><stop offset="0.1662" stop-color="#ffa500"/><stop offset="0.1861" stop-color="#aacb00"/><stop offset="0.1988" stop-color="#aacb00"/><stop offset="0.2137" stop-color="#ffff00"/><stop offset="0.2391" stop-color="#ffff00"/><stop offset="0.2640" stop-color="#ffa500"/><stop offset="0.3020" stop-color="#ffa500"/><stop offset="0.3228" stop-color="#ff4000"/><stop offset="0.3376" stop-color="#ff4000"/><stop offset="0.3484" stop-color="#ffa500"/><stop offset="0.3611" stop-color="#ffa500"/><stop offset="0.3760" stop-color="#e3ee00"/><stop offset="0.4014" stop-color="#e3ee00"/><stop offset="0.4213" stop-color="#ffa500"/><stop offset="0.4466" stop-color="#ffa500"/><stop offset="0.4616" stop-color="#ffff00"/><stop offset="0.4743" stop-color="#ffff00"/><stop offset="0.4842" stop-color="#aacb00"/><stop offset="0.4969" stop-color="#aacb00"/><stop offset="0.5168" stop-color="#ff7100"/><stop offset="0.5549" stop-color="#ff7100"/><stop offset="0.5748" stop-color="#ffd500"/><stop offset="0.5875" stop-color="#ffd500"/><stop offset="0.6024" stop-color="#aacb00"/><stop offset="0.6278" stop-color="#aacb00"/><stop offset="0.6477" stop-color="#ffff00"/><stop offset="0.6731" stop-color="#ffff00"/><stop offset="0.6880" stop-color="#ffa500"/><stop offset="0.7007" stop-color="#ffa500"/><stop offset="0.7306" stop-color="#ffff00"/><stop offset="0.7940" stop-color="#ffff00"/><stop offset="0.8338" stop-color="#aacb00"/><stop offset="0.8718" stop-color="#aacb00"/><stop offset="0.8918" stop-color="#ffa500"/><stop offset="0.9045" stop-color="#ffa500"/><stop offset="0.9194" stop-color="#ffff00"/><stop offset="0.9448" stop-color="#ffff00"/><stop offset="0.9647" stop-color="#ffd500"/><stop offset="0.9900" stop-color="#ffd500"/></linearGradient>
<rect x="92.6" y="637.4" width="88" height="10" fill="url(#g1_0)"/>
<path d="M184.8,632.7 L184.8,603.49 L184.87,603.49 L186.55,598.32 L188.49,582.79 L192.37,577.62 L194.96,572.45 L198.2,575.03 L198.84,599.61 L200.78,587.97 L204.02,584.09 L209.19,579.56 L212.43,584.09 L214.37,591.85 L218.25,594.44 L220.83,590.56 L224.72,586.68 L227.3,584.09 L229.89,587.97 L231.83,578.91 L233.77,558.21 L237.01,555.63 L239.59,559.51 L240.24,589.26 L242.83,593.14 L248,591.85 L250.59,595.08 L253.82,593.14 L258.35,589.26 L261.58,593.14 L262.88,597.02 L263.4,597.02 L263.4,632.7 Q263.4,635.7 260.4,635.7 L187.8,635.7 Q184.8,635.7 184.8,632.7 Z" fill="#4EAE4B"/>
<circle cx="236.1" cy="491" r="2.9" fill="#4EAE4B"/>
<circle cx="244.51" cy="534.54" r="2.9" fill="#4EAE4B"/>
<circle cx="236.62" cy="544.37" r="2.9" fill="#4EAE4B"/>
<circle cx="219.54" cy="582.79" r="2.9" fill="#4EAE4B"/>
<circle cx="247.74" cy="585.38" r="2.9" fill="#4EAE4B"/>
<linearGradient id="g1_1" x1="0" x2="1" y1="0" y2="0"><stop offset="0.0106" stop-color="#e3ee00"/><stop offset="0.0376" stop-color="#e3ee00"/><stop offset="0.0641" stop-color="#e3ee00"/><stop offset="0.1046" stop-color="#e3ee00"/><stop offset="0.1320" stop-color="#ffff00"/><stop offset="0.1612" stop-color="#ffff00"/><stop offset="0.1789" stop-color="#ff7100"/><stop offset="0.1946" stop-color="#ff7100"/><stop offset="0.2070" stop-color="#ffa500"/><stop offset="0.2227" stop-color="#ffa500"/><stop offset="0.2342" stop-color="#ff7100"/><stop offset="0.2477" stop-color="#ff7100"/><stop offset="0.2592" stop-color="#ffff00"/><stop offset="0.2749" stop-color="#ffff00"/><stop offset="0.2873" stop-color="#ff4000"/><stop offset="0.3031" stop-color="#ff4000"/><stop offset="0.3154" stop-color="#ffff00"/><stop offset="0.3312" stop-color="#ffff00"/><stop offset="0.3435" stop-color="#e3ee00"/><stop offset="0.3593" stop-color="#e3ee00"/><stop offset="0.3716" stop-color="#aacb00"/><stop offset="0.3874" stop-color="#aacb00"/><stop offset="0.4042" stop-color="#aacb00"/><stop offset="0.4312" stop-color="#aacb00"/><stop offset="0.4488" stop-color="#ffa500"/><stop offset="0.4668" stop-color="#ffa500"/><stop offset="0.4792" stop-color="#ffff00"/><stop offset="0.4927" stop-color="#ffff00"/><stop offset="0.5051" stop-color="#ffa500"/><stop offset="0.5231" stop-color="#ffa500"/><stop offset="0.5407" stop-color="#ffd500"/><stop offset="0.5677" stop-color="#ffd500"/><stop offset="0.5854" stop-color="#ffff00"/><stop offset="0.6034" stop-color="#ffff00"/><stop offset="0.6210" stop-color="#ffd500"/><stop offset="0.6480" stop-color="#ffd500"/><stop offset="0.6657" stop-color="#ff1000"/><stop offset="0.6837" stop-color="#ff1000"/><stop offset="0.6961" stop-color="#ff7100"/><stop offset="0.7096" stop-color="#ff7100"/><stop offset="0.7210" stop-color="#ffff00"/><stop offset="0.7368" stop-color="#ffff00"/><stop offset="0.7553" stop-color="#aacb00"/><stop offset="0.7868" stop-color="#aacb00"/><stop offset="0.8045" stop-color="#ffff00"/><stop offset="0.8180" stop-color="#ffff00"/><stop offset="0.8295" stop-color="#e3ee00"/><stop offset="0.8452" stop-color="#e3ee00"/><stop offset="0.8708" stop-color="#7cb000"/><stop offset="0.9203" stop-color="#7cb000"/><stop offset="0.9530" stop-color="#e3ee00"/><stop offset="0.9867" stop-color="#e3ee00"/></linearGradient>
<rect x="187.6" y="637.4" width="74" height="10" fill="url(#g1_1)"/>
<path d="M265.8,632.7 L265.8,590.63 L265.8,590.63 L267.55,583.08 L270.91,582.24 L272.59,573.85 L276.78,572.17 L281.82,578.05 L284.34,585.6 L285.18,591.47 L289.37,588.96 L293.57,587.28 L296.09,590.63 L297.76,563.78 L301.96,562.94 L304.48,568.82 L305.32,578.89 L308.67,580.56 L310.35,586.44 L312.03,577.21 L315.39,578.89 L317.91,582.24 L320.42,578.89 L325.46,577.21 L327.98,578.89 L329.65,587.28 L331.33,591.47 L333.01,593.99 L333.85,559.58 L338.05,558.74 L341.4,568.82 L342.24,578.89 L343.08,587.28 L343.92,599.03 L344.9,599.03 L344.9,632.7 Q344.9,635.7 341.9,635.7 L268.8,635.7 Q265.8,635.7 265.8,632.7 Z" fill="#974FA2"/>
<circle cx="322.44" cy="573.35" r="2.9" fill="#974FA2"/>
<linearGradient id="g1_2" x1="0" x2="1" y1="0" y2="0"><stop offset="0.0239" stop-color="#aacb00"/><stop offset="0.0846" stop-color="#aacb00"/><stop offset="0.1208" stop-color="#e3ee00"/><stop offset="0.1523" stop-color="#e3ee00"/><stop offset="0.1700" stop-color="#aacb00"/><stop offset="0.1835" stop-color="#aacb00"/><stop offset="0.1949" stop-color="#e3ee00"/><stop offset="0.2107" stop-color="#e3ee00"/><stop offset="0.2231" stop-color="#ffff00"/><stop offset="0.2388" stop-color="#ffff00"/><stop offset="0.2520" stop-color="#aacb00"/><stop offset="0.2700" stop-color="#aacb00"/><stop offset="0.2824" stop-color="#e3ee00"/><stop offset="0.2959" stop-color="#e3ee00"/><stop offset="0.3189" stop-color="#aacb00"/><stop offset="0.3639" stop-color="#aacb00"/><stop offset="0.3877" stop-color="#e3ee00"/><stop offset="0.4035" stop-color="#e3ee00"/><stop offset="0.4158" stop-color="#ffa500"/><stop offset="0.4316" stop-color="#ffa500"/><stop offset="0.4484" stop-color="#ff7100"/><stop offset="0.4753" stop-color="#ff7100"/><stop offset="0.5036" stop-color="#e3ee00"/><stop offset="0.5486" stop-color="#e3ee00"/><stop offset="0.5733" stop-color="#ffd500"/><stop offset="0.5913" stop-color="#ffd500"/><stop offset="0.6037" stop-color="#ff7100"/><stop offset="0.6172" stop-color="#ff7100"/><stop offset="0.6287" stop-color="#ffff00"/><stop offset="0.6444" stop-color="#ffff00"/><stop offset="0.6568" stop-color="#aacb00"/><stop offset="0.6725" stop-color="#aacb00"/><stop offset="0.6902" stop-color="#e3ee00"/><stop offset="0.7194" stop-color="#e3ee00"/><stop offset="0.7486" stop-color="#ffff00"/><stop offset="0.7936" stop-color="#ffff00"/><stop offset="0.8174" stop-color="#aacb00"/><stop offset="0.8332" stop-color="#aacb00"/><stop offset="0.8570" stop-color="#aacb00"/><stop offset="0.9020" stop-color="#aacb00"/><stop offset="0.9259" stop-color="#ffff00"/><stop offset="0.9416" stop-color="#ffff00"/><stop offset="0.9531" stop-color="#ffd500"/><stop offset="0.9666" stop-color="#ffd500"/><stop offset="0.9781" stop-color="#ffff00"/><stop offset="0.9938" stop-color="#ffff00"/></linearGradient>
<rect x="268.5" y="637.4" width="74" height="10" fill="url(#g1_2)"/>
<path d="M346.8,632.7 L346.8,600.7 L347.28,600.7 L348.12,582.24 L351.47,567.14 L356.51,565.46 L359.03,562.1 L362.38,567.14 L363.22,590.63 L367.42,591.47 L374.13,591.47 L375.81,582.24 L381.69,579.72 L385.04,583.92 L385.88,588.96 L388.4,580.56 L392.59,574.69 L397.63,582.24 L399.31,587.28 L401.83,597.35 L404.34,595.67 L406.02,585.6 L407.7,578.89 L411.9,570.49 L415.25,573.85 L416.93,590.63 L421.13,595.67 L423.65,596.51 L424.9,596.51 L424.9,632.7 Q424.9,635.7 421.9,635.7 L349.8,635.7 Q346.8,635.7 346.8,632.7 Z" fill="#FF7F01"/>
<circle cx="372.79" cy="539.95" r="2.9" fill="#FF7F01"/>
<circle cx="359.36" cy="549.51" r="2.9" fill="#FF7F01"/>
<circle cx="396.29" cy="556.56" r="2.9" fill="#FF7F01"/>
<circle cx="396.29" cy="564.95" r="2.9" fill="#FF7F01"/>
<circle cx="371.28" cy="564.95" r="2.9" fill="#FF7F01"/>
<circle cx="381.69" cy="575.03" r="2.9" fill="#FF7F01"/>
<circle cx="406.02" cy="586.44" r="2.9" fill="#FF7F01"/>
<linearGradient id="g1_3" x1="0" x2="1" y1="0" y2="0"><stop offset="0.0063" stop-color="#ff4000"/><stop offset="0.0223" stop-color="#ff4000"/><stop offset="0.0429" stop-color="#ffff00"/><stop offset="0.0795" stop-color="#ffff00"/><stop offset="0.0993" stop-color="#aacb00"/><stop offset="0.1130" stop-color="#aacb00"/><stop offset="0.1354" stop-color="#ff7100"/><stop offset="0.1789" stop-color="#ff7100"/><stop offset="0.2076" stop-color="#aacb00"/><stop offset="0.2373" stop-color="#aacb00"/><stop offset="0.2580" stop-color="#7cb000"/><stop offset="0.2808" stop-color="#7cb000"/><stop offset="0.3060" stop-color="#e3ee00"/><stop offset="0.3471" stop-color="#e3ee00"/><stop offset="0.3696" stop-color="#ffa500"/><stop offset="0.3856" stop-color="#ffa500"/><stop offset="0.3981" stop-color="#ffff00"/><stop offset="0.4141" stop-color="#ffff00"/><stop offset="0.4258" stop-color="#3a8a00"/><stop offset="0.4395" stop-color="#3a8a00"/><stop offset="0.4557" stop-color="#ff7100"/><stop offset="0.4831" stop-color="#ff7100"/><stop offset="0.5064" stop-color="#ffd500"/><stop offset="0.5384" stop-color="#ffd500"/><stop offset="0.5654" stop-color="#ffa500"/><stop offset="0.6020" stop-color="#ffa500"/><stop offset="0.6235" stop-color="#ffff00"/><stop offset="0.6418" stop-color="#ffff00"/><stop offset="0.6651" stop-color="#aacb00"/><stop offset="0.7063" stop-color="#aacb00"/><stop offset="0.7386" stop-color="#7cb000"/><stop offset="0.7798" stop-color="#7cb000"/><stop offset="0.8085" stop-color="#aacb00"/><stop offset="0.8405" stop-color="#aacb00"/><stop offset="0.8710" stop-color="#ffa500"/><stop offset="0.9167" stop-color="#ffa500"/><stop offset="0.9428" stop-color="#7cb000"/><stop offset="0.9633" stop-color="#7cb000"/><stop offset="0.9777" stop-color="#e3ee00"/><stop offset="0.9937" stop-color="#e3ee00"/></linearGradient>
<rect x="349.7" y="637.4" width="72.8" height="10" fill="url(#g1_3)"/>
<path d="M426.8,632.7 L426.8,592.31 L426.8,592.31 L427.84,578.89 L428.68,570.49 L432.88,570.49 L434.56,583.92 L439.59,587.28 L442.95,583.92 L446.3,573.85 L451.34,573.85 L453.02,592.31 L454.7,582.24 L461.41,578.05 L463.93,582.24 L466.45,593.99 L471.48,590.63 L476.52,591.47 L478.19,595.67 L482.39,595.67 L484.91,579.72 L489.94,578.89 L489.94,600.7 L491.62,605.74 L492.9,605.74 L492.9,632.7 Q492.9,635.7 489.9,635.7 L429.8,635.7 Q426.8,635.7 426.8,632.7 Z" fill="#3A7EB8"/>
<circle cx="430.53" cy="572.51" r="2.9" fill="#3A7EB8"/>
<circle cx="448.32" cy="574.69" r="2.9" fill="#3A7EB8"/>
<circle cx="478.19" cy="591.47" r="2.9" fill="#3A7EB8"/>
<linearGradient id="g1_4" x1="0" x2="1" y1="0" y2="0"><stop offset="0.0217" stop-color="#ffa500"/><stop offset="0.0770" stop-color="#ffa500"/><stop offset="0.1063" stop-color="#ffff00"/><stop offset="0.1255" stop-color="#ffff00"/><stop offset="0.1482" stop-color="#ffd500"/><stop offset="0.1866" stop-color="#ffd500"/><stop offset="0.2225" stop-color="#ff7100"/><stop offset="0.2754" stop-color="#ff7100"/><stop offset="0.3037" stop-color="#ffff00"/><stop offset="0.3229" stop-color="#ffff00"/><stop offset="0.3456" stop-color="#aacb00"/><stop offset="0.3840" stop-color="#aacb00"/><stop offset="0.4161" stop-color="#aacb00"/><stop offset="0.4594" stop-color="#aacb00"/><stop offset="0.4821" stop-color="#ffa500"/><stop offset="0.4965" stop-color="#ffa500"/><stop offset="0.5229" stop-color="#ffff00"/><stop offset="0.5758" stop-color="#ffff00"/><stop offset="0.6136" stop-color="#ffd500"/><stop offset="0.6568" stop-color="#ffd500"/><stop offset="0.6795" stop-color="#e3ee00"/><stop offset="0.6939" stop-color="#e3ee00"/><stop offset="0.7147" stop-color="#aacb00"/><stop offset="0.7531" stop-color="#aacb00"/><stop offset="0.7739" stop-color="#e3ee00"/><stop offset="0.7883" stop-color="#e3ee00"/><stop offset="0.8185" stop-color="#7cb000"/><stop offset="0.8810" stop-color="#7cb000"/><stop offset="0.9188" stop-color="#e3ee00"/><stop offset="0.9524" stop-color="#e3ee00"/><stop offset="0.9732" stop-color="#aacb00"/><stop offset="0.9924" stop-color="#aacb00"/></linearGradient>
<rect x="429.6" y="637.4" width="61.1" height="10" fill="url(#g1_4)"/>
<path d="M495.8,632.7 L495.8,608.87 L495.87,608.87 L496.61,572.16 L496.61,466.43 L499.1,462.03 L502.48,466.43 L503.22,542.79 L503.51,572.16 L506.15,573.63 L507.62,569.22 L509.82,567.02 L512.03,572.16 L514.96,575.1 L516.43,588.31 L520.84,586.84 L521.57,564.82 L524.51,559.68 L526.71,564.82 L527.44,592.72 L530.38,586.84 L531.85,578.77 L535.52,578.03 L536.99,586.84 L539.93,580.97 L543.6,580.97 L547.27,576.56 L551.67,578.77 L557.55,576.56 L561.22,583.91 L560.48,591.25 L562.69,595.65 L563.42,601.53 L563.9,601.53 L563.9,632.7 Q563.9,635.7 560.9,635.7 L498.8,635.7 Q495.8,635.7 495.8,632.7 Z" fill="#4EAE4B"/>
<circle cx="499.25" cy="458.36" r="2.9" fill="#4EAE4B"/>
<circle cx="542.86" cy="571.86" r="2.9" fill="#4EAE4B"/>
<linearGradient id="g1_5" x1="0" x2="1" y1="0" y2="0"><stop offset="0.0144" stop-color="#e3ee00"/><stop offset="0.0511" stop-color="#e3ee00"/><stop offset="0.0782" stop-color="#aacb00"/><stop offset="0.1103" stop-color="#aacb00"/><stop offset="0.1374" stop-color="#ffd500"/><stop offset="0.1741" stop-color="#ffd500"/><stop offset="0.2011" stop-color="#ff7100"/><stop offset="0.2333" stop-color="#ff7100"/><stop offset="0.2603" stop-color="#e3ee00"/><stop offset="0.2970" stop-color="#e3ee00"/><stop offset="0.3259" stop-color="#ffa500"/><stop offset="0.3626" stop-color="#ffa500"/><stop offset="0.3834" stop-color="#ffff00"/><stop offset="0.3994" stop-color="#ffff00"/><stop offset="0.4193" stop-color="#ff7100"/><stop offset="0.4537" stop-color="#ff7100"/><stop offset="0.4744" stop-color="#ffff00"/><stop offset="0.4928" stop-color="#ffff00"/><stop offset="0.5135" stop-color="#ff7100"/><stop offset="0.5480" stop-color="#ff7100"/><stop offset="0.5750" stop-color="#ffd500"/><stop offset="0.6094" stop-color="#ffd500"/><stop offset="0.6356" stop-color="#ffa500"/><stop offset="0.6677" stop-color="#ffa500"/><stop offset="0.6884" stop-color="#ff4000"/><stop offset="0.7091" stop-color="#ff4000"/><stop offset="0.7452" stop-color="#ffff00"/><stop offset="0.8163" stop-color="#ffff00"/><stop offset="0.8569" stop-color="#ffa500"/><stop offset="0.8890" stop-color="#ffa500"/><stop offset="0.9161" stop-color="#e3ee00"/><stop offset="0.9528" stop-color="#e3ee00"/><stop offset="0.9744" stop-color="#aacb00"/><stop offset="0.9928" stop-color="#aacb00"/></linearGradient>
<rect x="497.7" y="637.4" width="64" height="10" fill="url(#g1_5)"/>
<path d="M566.3,632.7 L566.3,601.53 L566.3,601.53 L567.09,581.7 L570.03,579.5 L572.97,584.64 L578.11,583.17 L581.78,585.37 L584.71,580.97 L587.65,588.31 L589.85,598.59 L592.79,595.65 L597.93,597.12 L600.13,592.72 L602.33,567.02 L606.01,565.55 L607.47,583.91 L612.61,580.97 L616.28,585.37 L619.96,583.91 L622.89,580.23 L628.03,580.97 L630.23,594.19 L630.97,601.53 L631.9,601.53 L631.9,632.7 Q631.9,635.7 628.9,635.7 L569.3,635.7 Q566.3,635.7 566.3,632.7 Z" fill="#974FA2"/>
<circle cx="604.24" cy="557.18" r="2.9" fill="#974FA2"/>
<circle cx="586.62" cy="569.22" r="2.9" fill="#974FA2"/>
<circle cx="586.62" cy="570.4" r="2.9" fill="#974FA2"/>
<circle cx="585.15" cy="580.97" r="2.9" fill="#974FA2"/>
<circle cx="597.93" cy="582.44" r="2.9" fill="#974FA2"/>
<circle cx="612.61" cy="576.56" r="2.9" fill="#974FA2"/>
<linearGradient id="g1_6" x1="0" x2="1" y1="0" y2="0"><stop offset="0.0142" stop-color="#ffd500"/><stop offset="0.0502" stop-color="#ffd500"/><stop offset="0.0748" stop-color="#aacb00"/><stop offset="0.1012" stop-color="#aacb00"/><stop offset="0.1248" stop-color="#7cb000"/><stop offset="0.1585" stop-color="#7cb000"/><stop offset="0.1849" stop-color="#aacb00"/><stop offset="0.2185" stop-color="#aacb00"/><stop offset="0.2374" stop-color="#ffa500"/><stop offset="0.2518" stop-color="#ffa500"/><stop offset="0.2660" stop-color="#ff7100"/><stop offset="0.2876" stop-color="#ff7100"/><stop offset="0.3122" stop-color="#ffff00"/><stop offset="0.3530" stop-color="#ffff00"/><stop offset="0.3767" stop-color="#ff7100"/><stop offset="0.3959" stop-color="#ff7100"/><stop offset="0.4082" stop-color="#ffff00"/><stop offset="0.4202" stop-color="#ffff00"/><stop offset="0.4353" stop-color="#ff4000"/><stop offset="0.4617" stop-color="#ff4000"/><stop offset="0.4778" stop-color="#aacb00"/><stop offset="0.4922" stop-color="#aacb00"/><stop offset="0.5130" stop-color="#ffa500"/><stop offset="0.5514" stop-color="#ffa500"/><stop offset="0.5797" stop-color="#e3ee00"/><stop offset="0.6134" stop-color="#e3ee00"/><stop offset="0.6408" stop-color="#ffa500"/><stop offset="0.6768" stop-color="#ffa500"/><stop offset="0.6995" stop-color="#ff1000"/><stop offset="0.7211" stop-color="#ff1000"/><stop offset="0.7372" stop-color="#ffa500"/><stop offset="0.7564" stop-color="#ffa500"/><stop offset="0.7791" stop-color="#ffff00"/><stop offset="0.8175" stop-color="#ffff00"/><stop offset="0.8392" stop-color="#aacb00"/><stop offset="0.8561" stop-color="#aacb00"/><stop offset="0.8674" stop-color="#ffd500"/><stop offset="0.8794" stop-color="#ffd500"/><stop offset="0.9096" stop-color="#e3ee00"/><stop offset="0.9745" stop-color="#e3ee00"/></linearGradient>
<rect x="568.8" y="637.4" width="61.1" height="10" fill="url(#g1_6)"/>
<path d="M634.3,632.7 L634.3,601.53 L634.3,601.53 L634.64,586.84 L637.58,583.17 L641.25,588.31 L645.65,588.31 L648.59,583.91 L650.06,580.97 L653,582.44 L655.93,588.31 L660.34,591.25 L664.74,589.78 L669.15,591.25 L673.55,586.84 L676.49,580.97 L679.43,582.44 L680.9,591.25 L685.3,583.91 L688.24,585.37 L690.44,577.3 L693.38,576.56 L694.85,594.19 L696.31,601.53 L696.9,601.53 L696.9,632.7 Q696.9,635.7 693.9,635.7 L637.3,635.7 Q634.3,635.7 634.3,632.7 Z" fill="#FF7F01"/>
<circle cx="641.25" cy="539.41" r="2.9" fill="#FF7F01"/>
<circle cx="649.47" cy="548.96" r="2.9" fill="#FF7F01"/>
<circle cx="641.25" cy="552.78" r="2.9" fill="#FF7F01"/>
<circle cx="641.25" cy="559.68" r="2.9" fill="#FF7F01"/>
<circle cx="641.25" cy="561.88" r="2.9" fill="#FF7F01"/>
<circle cx="649.32" cy="577.3" r="2.9" fill="#FF7F01"/>
<circle cx="665.48" cy="581.7" r="2.9" fill="#FF7F01"/>
<circle cx="678.69" cy="580.23" r="2.9" fill="#FF7F01"/>
<linearGradient id="g1_7" x1="0" x2="1" y1="0" y2="0"><stop offset="0.0074" stop-color="#ffa500"/><stop offset="0.0263" stop-color="#ffa500"/><stop offset="0.0412" stop-color="#e3ee00"/><stop offset="0.0601" stop-color="#e3ee00"/><stop offset="0.0907" stop-color="#ffd500"/><stop offset="0.1498" stop-color="#ffd500"/><stop offset="0.1795" stop-color="#ff7100"/><stop offset="0.1960" stop-color="#ff7100"/><stop offset="0.2183" stop-color="#e3ee00"/><stop offset="0.2585" stop-color="#e3ee00"/><stop offset="0.2965" stop-color="#ff1000"/><stop offset="0.3532" stop-color="#ff1000"/><stop offset="0.3830" stop-color="#ffa500"/><stop offset="0.4019" stop-color="#ffa500"/><stop offset="0.4176" stop-color="#ffff00"/><stop offset="0.4389" stop-color="#ffff00"/><stop offset="0.4630" stop-color="#aacb00"/><stop offset="0.5032" stop-color="#aacb00"/><stop offset="0.5255" stop-color="#ffd500"/><stop offset="0.5420" stop-color="#ffd500"/><stop offset="0.5569" stop-color="#ffff00"/><stop offset="0.5781" stop-color="#ffff00"/><stop offset="0.6014" stop-color="#ff4000"/><stop offset="0.6392" stop-color="#ff4000"/><stop offset="0.6605" stop-color="#ff7100"/><stop offset="0.6770" stop-color="#ff7100"/><stop offset="0.6919" stop-color="#ff4000"/><stop offset="0.7132" stop-color="#ff4000"/><stop offset="0.7299" stop-color="#ffa500"/><stop offset="0.7511" stop-color="#ffa500"/><stop offset="0.7660" stop-color="#aacb00"/><stop offset="0.7825" stop-color="#aacb00"/><stop offset="0.7965" stop-color="#7cb000"/><stop offset="0.8154" stop-color="#7cb000"/><stop offset="0.8302" stop-color="#aacb00"/><stop offset="0.8491" stop-color="#aacb00"/><stop offset="0.8723" stop-color="#ffff00"/><stop offset="0.9125" stop-color="#ffff00"/><stop offset="0.9357" stop-color="#ff7100"/><stop offset="0.9546" stop-color="#ff7100"/><stop offset="0.9704" stop-color="#e3ee00"/><stop offset="0.9916" stop-color="#e3ee00"/></linearGradient>
<rect x="636.8" y="637.4" width="58" height="10" fill="url(#g1_7)"/>
<path d="M699.8,632.7 L699.8,612.87 L699.8,612.87 L700.49,602.38 L704.86,600.63 L709.23,598.88 L711.85,591.89 L713.6,584.9 L717.97,584.9 L720.59,591.89 L724.97,591.89 L731.96,589.27 L737.2,584.9 L738.95,577.9 L744.2,574.41 L747.69,584.9 L749.44,591.89 L750.31,602.38 L750.9,602.38 L750.9,632.7 Q750.9,635.7 747.9,635.7 L702.8,635.7 Q699.8,635.7 699.8,632.7 Z" fill="#3A7EB8"/>
<circle cx="704.86" cy="579.13" r="2.9" fill="#3A7EB8"/>
<circle cx="715.35" cy="576.68" r="2.9" fill="#3A7EB8"/>
<circle cx="718.85" cy="585.77" r="2.9" fill="#3A7EB8"/>
<linearGradient id="g1_8" x1="0" x2="1" y1="0" y2="0"><stop offset="0.0178" stop-color="#ffff00"/><stop offset="0.0630" stop-color="#ffff00"/><stop offset="0.0926" stop-color="#aacb00"/><stop offset="0.1227" stop-color="#aacb00"/><stop offset="0.1523" stop-color="#e3ee00"/><stop offset="0.1975" stop-color="#e3ee00"/><stop offset="0.2251" stop-color="#ff7100"/><stop offset="0.2502" stop-color="#ff7100"/><stop offset="0.2700" stop-color="#ff1000"/><stop offset="0.2951" stop-color="#ff1000"/><stop offset="0.3148" stop-color="#ff7100"/><stop offset="0.3399" stop-color="#ff7100"/><stop offset="0.3587" stop-color="#aacb00"/><stop offset="0.3813" stop-color="#aacb00"/><stop offset="0.4000" stop-color="#ff7100"/><stop offset="0.4251" stop-color="#ff7100"/><stop offset="0.4429" stop-color="#ffff00"/><stop offset="0.4630" stop-color="#ffff00"/><stop offset="0.4916" stop-color="#ffa500"/><stop offset="0.5443" stop-color="#ffa500"/><stop offset="0.5729" stop-color="#e3ee00"/><stop offset="0.5930" stop-color="#e3ee00"/><stop offset="0.6108" stop-color="#ffff00"/><stop offset="0.6359" stop-color="#ffff00"/><stop offset="0.6556" stop-color="#ffd500"/><stop offset="0.6807" stop-color="#ffd500"/><stop offset="0.7083" stop-color="#e3ee00"/><stop offset="0.7535" stop-color="#e3ee00"/><stop offset="0.7831" stop-color="#aacb00"/><stop offset="0.8133" stop-color="#aacb00"/><stop offset="0.8636" stop-color="#e3ee00"/><stop offset="0.9615" stop-color="#e3ee00"/></linearGradient>
<rect x="702.2" y="637.4" width="46.8" height="10" fill="url(#g1_8)"/>
<path d="M753.8,632.7 L753.8,602.38 L753.8,602.38 L754.69,584.9 L759.06,581.4 L762.55,591.89 L766.92,593.64 L773.92,592.76 L777.41,591.89 L782.66,590.14 L789.65,589.27 L796.64,586.64 L801.89,584.9 L804.51,591.89 L805.38,602.38 L805.9,602.38 L805.9,632.7 Q805.9,635.7 802.9,635.7 L756.8,635.7 Q753.8,635.7 753.8,632.7 Z" fill="#4EAE4B"/>
<circle cx="773.04" cy="550.8" r="2.9" fill="#4EAE4B"/>
<circle cx="774.79" cy="549.93" r="2.9" fill="#4EAE4B"/>
<circle cx="798.04" cy="564.44" r="2.9" fill="#4EAE4B"/>
<circle cx="790.52" cy="572.66" r="2.9" fill="#4EAE4B"/>
<circle cx="793.15" cy="579.65" r="2.9" fill="#4EAE4B"/>
<circle cx="770.42" cy="577.9" r="2.9" fill="#4EAE4B"/>
<circle cx="770.42" cy="585.77" r="2.9" fill="#4EAE4B"/>
<linearGradient id="g1_9" x1="0" x2="1" y1="0" y2="0"><stop offset="0.0088" stop-color="#ffa500"/><stop offset="0.0312" stop-color="#ffa500"/><stop offset="0.0498" stop-color="#ff7100"/><stop offset="0.0747" stop-color="#ff7100"/><stop offset="0.0942" stop-color="#ff4000"/><stop offset="0.1191" stop-color="#ff4000"/><stop offset="0.1524" stop-color="#ffa500"/><stop offset="0.2121" stop-color="#ffa500"/><stop offset="0.2639" stop-color="#ffff00"/><stop offset="0.3361" stop-color="#ffff00"/><stop offset="0.3830" stop-color="#ffa500"/><stop offset="0.4303" stop-color="#ffa500"/><stop offset="0.4684" stop-color="#ffd500"/><stop offset="0.5182" stop-color="#ffd500"/><stop offset="0.5632" stop-color="#e3ee00"/><stop offset="0.6279" stop-color="#e3ee00"/><stop offset="0.6729" stop-color="#ffa500"/><stop offset="0.7227" stop-color="#ffa500"/><stop offset="0.7696" stop-color="#ffff00"/><stop offset="0.8393" stop-color="#ffff00"/><stop offset="0.8764" stop-color="#e3ee00"/><stop offset="0.9013" stop-color="#e3ee00"/><stop offset="0.9228" stop-color="#7cb000"/><stop offset="0.9527" stop-color="#7cb000"/><stop offset="0.9723" stop-color="#aacb00"/><stop offset="0.9922" stop-color="#aacb00"/></linearGradient>
<rect x="756.4" y="637.4" width="47.2" height="10" fill="url(#g1_9)"/>
<path d="M808.8,632.7 L808.8,605.87 L808.8,605.87 L811.5,593.64 L815,590.14 L819.37,588.39 L821.99,595.38 L823.74,578.78 L828.11,578.78 L829.86,590.14 L835.1,588.39 L838.6,584.9 L842.1,586.64 L843.85,575.28 L850.84,574.41 L853.46,571.78 L856.08,581.4 L859.58,576.15 L862.2,566.54 L865.7,564.79 L868.32,586.64 L870.07,593.64 L871.47,602.38 L871.9,602.38 L871.9,632.7 Q871.9,635.7 868.9,635.7 L811.8,635.7 Q808.8,635.7 808.8,632.7 Z" fill="#974FA2"/>
<circle cx="852.94" cy="520.56" r="2.9" fill="#974FA2"/>
<circle cx="852.94" cy="529.83" r="2.9" fill="#974FA2"/>
<circle cx="852.94" cy="532.1" r="2.9" fill="#974FA2"/>
<circle cx="825.49" cy="562.52" r="2.9" fill="#974FA2"/>
<circle cx="834.76" cy="563.04" r="2.9" fill="#974FA2"/>
<circle cx="825.49" cy="570.56" r="2.9" fill="#974FA2"/>
<circle cx="817.62" cy="588.39" r="2.9" fill="#974FA2"/>
<linearGradient id="g1_10" x1="0" x2="1" y1="0" y2="0"><stop offset="0.0136" stop-color="#aacb00"/><stop offset="0.0481" stop-color="#aacb00"/><stop offset="0.0780" stop-color="#ffff00"/><stop offset="0.1195" stop-color="#ffff00"/><stop offset="0.1575" stop-color="#ffa500"/><stop offset="0.2128" stop-color="#ffa500"/><stop offset="0.2491" stop-color="#ffd500"/><stop offset="0.2859" stop-color="#ffd500"/><stop offset="0.3077" stop-color="#ff7100"/><stop offset="0.3261" stop-color="#ff7100"/><stop offset="0.3478" stop-color="#ffa500"/><stop offset="0.3847" stop-color="#ffa500"/><stop offset="0.4046" stop-color="#3a8a00"/><stop offset="0.4184" stop-color="#3a8a00"/><stop offset="0.4420" stop-color="#e3ee00"/><stop offset="0.4881" stop-color="#e3ee00"/><stop offset="0.5125" stop-color="#ffa500"/><stop offset="0.5286" stop-color="#ffa500"/><stop offset="0.5422" stop-color="#ff4000"/><stop offset="0.5607" stop-color="#ff4000"/><stop offset="0.5742" stop-color="#ff7100"/><stop offset="0.5904" stop-color="#ff7100"/><stop offset="0.6121" stop-color="#ff4000"/><stop offset="0.6513" stop-color="#ff4000"/><stop offset="0.6739" stop-color="#ffd500"/><stop offset="0.6923" stop-color="#ffd500"/><stop offset="0.7150" stop-color="#ff4000"/><stop offset="0.7542" stop-color="#ff4000"/><stop offset="0.7759" stop-color="#ff1000"/><stop offset="0.7920" stop-color="#ff1000"/><stop offset="0.8038" stop-color="#ffd500"/><stop offset="0.8176" stop-color="#ffd500"/><stop offset="0.8312" stop-color="#ff4000"/><stop offset="0.8519" stop-color="#ff4000"/><stop offset="0.8818" stop-color="#e3ee00"/><stop offset="0.9371" stop-color="#e3ee00"/><stop offset="0.9679" stop-color="#aacb00"/><stop offset="0.9909" stop-color="#aacb00"/></linearGradient>
<rect x="810.8" y="637.4" width="59.4" height="10" fill="url(#g1_10)"/>
<path d="M874.8,632.7 L874.8,602.38 L874.8,602.38 L875.31,584.9 L877.94,578.78 L882.31,584.9 L889.3,580.52 L894.55,584.9 L899.79,586.64 L904.16,577.9 L905.91,564.79 L910.28,566.54 L912.03,577.9 L917.27,583.15 L922.52,577.9 L926.01,584.9 L930.38,580.52 L933.88,586.64 L934.76,602.38 L935.9,602.38 L935.9,632.7 Q935.9,635.7 932.9,635.7 L877.8,635.7 Q874.8,635.7 874.8,632.7 Z" fill="#FF7F01"/>
<circle cx="880.91" cy="504.48" r="2.9" fill="#FF7F01"/>
<circle cx="907.66" cy="558.67" r="2.9" fill="#FF7F01"/>
<circle cx="910.28" cy="571.78" r="2.9" fill="#FF7F01"/>
<linearGradient id="g1_11" x1="0" x2="1" y1="0" y2="0"><stop offset="0.0086" stop-color="#e3ee00"/><stop offset="0.0305" stop-color="#e3ee00"/><stop offset="0.0487" stop-color="#aacb00"/><stop offset="0.0730" stop-color="#aacb00"/><stop offset="0.0903" stop-color="#e3ee00"/><stop offset="0.1097" stop-color="#e3ee00"/><stop offset="0.1289" stop-color="#ffd500"/><stop offset="0.1581" stop-color="#ffd500"/><stop offset="0.1801" stop-color="#ffff00"/><stop offset="0.2069" stop-color="#ffff00"/><stop offset="0.2260" stop-color="#7cb000"/><stop offset="0.2479" stop-color="#7cb000"/><stop offset="0.2642" stop-color="#ff7100"/><stop offset="0.2837" stop-color="#ff7100"/><stop offset="0.2970" stop-color="#aacb00"/><stop offset="0.3117" stop-color="#aacb00"/><stop offset="0.3346" stop-color="#ffa500"/><stop offset="0.3784" stop-color="#ffa500"/><stop offset="0.4196" stop-color="#e3ee00"/><stop offset="0.4804" stop-color="#e3ee00"/><stop offset="0.5120" stop-color="#ff7100"/><stop offset="0.5315" stop-color="#ff7100"/><stop offset="0.5554" stop-color="#ffa500"/><stop offset="0.5968" stop-color="#ffa500"/><stop offset="0.6245" stop-color="#ffa500"/><stop offset="0.6537" stop-color="#ffa500"/><stop offset="0.6757" stop-color="#ff7100"/><stop offset="0.7025" stop-color="#ff7100"/><stop offset="0.7217" stop-color="#aacb00"/><stop offset="0.7436" stop-color="#aacb00"/><stop offset="0.7598" stop-color="#ffff00"/><stop offset="0.7793" stop-color="#ffff00"/><stop offset="0.8013" stop-color="#ff4000"/><stop offset="0.8378" stop-color="#ff4000"/><stop offset="0.8608" stop-color="#e3ee00"/><stop offset="0.8827" stop-color="#e3ee00"/><stop offset="0.8990" stop-color="#aacb00"/><stop offset="0.9184" stop-color="#aacb00"/><stop offset="0.9357" stop-color="#ffff00"/><stop offset="0.9600" stop-color="#ffff00"/><stop offset="0.9763" stop-color="#aacb00"/><stop offset="0.9933" stop-color="#aacb00"/></linearGradient>
<rect x="877.3" y="637.4" width="56.2" height="10" fill="url(#g1_11)"/>
<path d="M84.75,654.6 H905.6" stroke="#111" stroke-width="1.7" fill="none"/>
<path d="M84.75,654.6 V664.6" stroke="#111" stroke-width="1.7"/>
<text x="84.75" y="686.5" text-anchor="middle" font-size="20" font-family="'Liberation Sans', sans-serif" fill="#111">Chr</text>
<path d="M136.2,654.6 V664.6" stroke="#111" stroke-width="1.7"/>
<text x="136.2" y="686.5" text-anchor="middle" font-size="20" font-family="'Liberation Sans', sans-serif" fill="#111">1</text>
<path d="M223.75,654.6 V664.6" stroke="#111" stroke-width="1.7"/>
<text x="223.75" y="686.5" text-anchor="middle" font-size="20" font-family="'Liberation Sans', sans-serif" fill="#111">2</text>
<path d="M305,654.6 V664.6" stroke="#111" stroke-width="1.7"/>
<text x="305" y="686.5" text-anchor="middle" font-size="20" font-family="'Liberation Sans', sans-serif" fill="#111">3</text>
<path d="M385.5,654.6 V664.6" stroke="#111" stroke-width="1.7"/>
<text x="385.5" y="686.5" text-anchor="middle" font-size="20" font-family="'Liberation Sans', sans-serif" fill="#111">4</text>
<path d="M459.5,654.6 V664.6" stroke="#111" stroke-width="1.7"/>
<text x="459.5" y="686.5" text-anchor="middle" font-size="20" font-family="'Liberation Sans', sans-serif" fill="#111">5</text>
<path d="M529.5,654.6 V664.6" stroke="#111" stroke-width="1.7"/>
<text x="529.5" y="686.5" text-anchor="middle" font-size="20" font-family="'Liberation Sans', sans-serif" fill="#111">6</text>
<path d="M598.75,654.6 V664.6" stroke="#111" stroke-width="1.7"/>
<text x="598.75" y="686.5" text-anchor="middle" font-size="20" font-family="'Liberation Sans', sans-serif" fill="#111">7</text>
<path d="M665.25,654.6 V664.6" stroke="#111" stroke-width="1.7"/>
<text x="665.25" y="686.5" text-anchor="middle" font-size="20" font-family="'Liberation Sans', sans-serif" fill="#111">8</text>
<path d="M725,654.6 V664.6" stroke="#111" stroke-width="1.7"/>
<text x="725" y="686.5" text-anchor="middle" font-size="20" font-family="'Liberation Sans', sans-serif" fill="#111">9</text>
<path d="M779.5,654.6 V664.6" stroke="#111" stroke-width="1.7"/>
<text x="779.5" y="686.5" text-anchor="middle" font-size="20" font-family="'Liberation Sans', sans-serif" fill="#111">10</text>
<path d="M840,654.6 V664.6" stroke="#111" stroke-width="1.7"/>
<text x="840" y="686.5" text-anchor="middle" font-size="20" font-family="'Liberation Sans', sans-serif" fill="#111">11</text>
<path d="M905,654.6 V664.6" stroke="#111" stroke-width="1.7"/>
<text x="905" y="686.5" text-anchor="middle" font-size="20" font-family="'Liberation Sans', sans-serif" fill="#111">12</text>
<text x="505" y="712.5" text-anchor="middle" font-size="20" font-family="'Liberation Sans', sans-serif" fill="#111">Chromosome</text>
<path d="M78.7,519 H930.4" stroke="#1a1a1a" stroke-width="1.7" stroke-dasharray="8.65,8.65" fill="none"/>
<rect x="935" y="450" width="13" height="11.57" fill="#bebebe"/>
<text x="950" y="459.3" font-size="9" font-family="'Liberation Sans', sans-serif" fill="#222">0</text>
<rect x="935" y="461.37" width="13" height="11.57" fill="#398600"/>
<text x="950" y="470.67" font-size="9" font-family="'Liberation Sans', sans-serif" fill="#222">2413</text>
<rect x="935" y="472.74" width="13" height="11.57" fill="#71a900"/>
<text x="950" y="482.04" font-size="9" font-family="'Liberation Sans', sans-serif" fill="#222">4826</text>
<rect x="935" y="484.11" width="13" height="11.57" fill="#aacb00"/>
<text x="950" y="493.41" font-size="9" font-family="'Liberation Sans', sans-serif" fill="#222">7239</text>
<rect x="935" y="495.48" width="13" height="11.57" fill="#e3ee00"/>
<text x="950" y="504.78" font-size="9" font-family="'Liberation Sans', sans-serif" fill="#222">9652</text>
<rect x="935" y="506.85" width="13" height="11.57" fill="#ffe300"/>
<text x="950" y="516.15" font-size="9" font-family="'Liberation Sans', sans-serif" fill="#222">12065</text>
<rect x="935" y="518.22" width="13" height="11.57" fill="#ffaa00"/>
<text x="950" y="527.52" font-size="9" font-family="'Liberation Sans', sans-serif" fill="#222">14478</text>
<rect x="935" y="529.59" width="13" height="11.57" fill="#ff7100"/>
<text x="950" y="538.89" font-size="9" font-family="'Liberation Sans', sans-serif" fill="#222">16891</text>
<rect x="935" y="540.96" width="13" height="11.57" fill="#ff3900"/>
<text x="950" y="550.26" font-size="9" font-family="'Liberation Sans', sans-serif" fill="#222">19304</text>
<rect x="935" y="552.33" width="13" height="11.57" fill="#ff0000"/>
<text x="950" y="561.63" font-size="9" font-family="'Liberation Sans', sans-serif" fill="#222">21717</text>
<rect x="935" y="563.7" width="13" height="11.57" fill="#ff0000"/>
<text x="950" y="573" font-size="9" font-family="'Liberation Sans', sans-serif" fill="#222">&gt;21717</text>
<path d="M85.1,1000.8 V800.81" stroke="#111" stroke-width="1.7" fill="none"/>
<path d="M77.6,1000.8 H85.1" stroke="#111" stroke-width="1.7"/>
<text x="70.6" y="1005.8" text-anchor="end" font-size="20" font-family="'Liberation Sans', sans-serif" fill="#111">0</text>
<path d="M77.6,972.23 H85.1" stroke="#111" stroke-width="1.7"/>
<text x="70.6" y="977.23" text-anchor="end" font-size="20" font-family="'Liberation Sans', sans-serif" fill="#111">1</text>
<path d="M77.6,943.66 H85.1" stroke="#111" stroke-width="1.7"/>
<text x="70.6" y="948.66" text-anchor="end" font-size="20" font-family="'Liberation Sans', sans-serif" fill="#111">2</text>
<path d="M77.6,915.09 H85.1" stroke="#111" stroke-width="1.7"/>
<text x="70.6" y="920.09" text-anchor="end" font-size="20" font-family="'Liberation Sans', sans-serif" fill="#111">3</text>
<path d="M77.6,886.52 H85.1" stroke="#111" stroke-width="1.7"/>
<text x="70.6" y="891.52" text-anchor="end" font-size="20" font-family="'Liberation Sans', sans-serif" fill="#111">4</text>
<path d="M77.6,857.95 H85.1" stroke="#111" stroke-width="1.7"/>
<text x="70.6" y="862.95" text-anchor="end" font-size="20" font-family="'Liberation Sans', sans-serif" fill="#111">5</text>
<path d="M77.6,829.38 H85.1" stroke="#111" stroke-width="1.7"/>
<text x="70.6" y="834.38" text-anchor="end" font-size="20" font-family="'Liberation Sans', sans-serif" fill="#111">6</text>
<path d="M77.6,800.81 H85.1" stroke="#111" stroke-width="1.7"/>
<text x="70.6" y="805.81" text-anchor="end" font-size="20" font-family="'Liberation Sans', sans-serif" fill="#111">7</text>
<text transform="translate(35,902.9) rotate(-90)" text-anchor="middle" font-size="20" font-family="'Liberation Sans', sans-serif" fill="#111">-log<tspan font-size="12" dy="6.5">10</tspan><tspan dy="-6.5">(</tspan><tspan font-style="italic">p</tspan>)</text>
<path d="M90.2,999.7 L90.2,956.43 L90.2,956.43 L90.82,942.2 L92.76,938.32 L92.76,930.56 L95.35,930.56 L99.23,931.85 L101.17,940.91 L103.11,939.61 L102.46,920.21 L105.7,916.97 L108.93,920.21 L110.23,930.56 L110.87,940.91 L112.81,946.08 L114.75,938.32 L119.28,935.73 L119.93,926.68 L123.16,923.44 L126.4,929.26 L130.28,929.26 L132.87,933.14 L136.1,930.56 L136.75,899.51 L141.27,896.92 L142.57,902.1 L143.21,895.63 L144.51,887.87 L147.1,889.16 L149.68,881.4 L152.27,882.69 L155.5,885.28 L158.74,886.57 L161.33,881.4 L165.85,881.4 L162.62,896.92 L167.15,899.51 L163.91,904.68 L166.5,911.15 L167.79,922.79 L168.44,943.49 L169.73,946.08 L170.38,921.5 L175.56,921.5 L176.2,930.56 L180.08,935.73 L180.73,943.49 L181.77,953.84 L182.9,953.84 L182.9,999.7 Q182.9,1002.7 179.9,1002.7 L93.2,1002.7 Q90.2,1002.7 90.2,999.7 Z" fill="#3A7EB8"/>
<circle cx="173.87" cy="866.91" r="2.9" fill="#3A7EB8"/>
<circle cx="153.82" cy="871.05" r="2.9" fill="#3A7EB8"/>
<circle cx="154.86" cy="876.87" r="2.9" fill="#3A7EB8"/>
<circle cx="162.36" cy="890.45" r="2.9" fill="#3A7EB8"/>
<circle cx="173.87" cy="900.16" r="2.9" fill="#3A7EB8"/>
<circle cx="173.87" cy="909.86" r="2.9" fill="#3A7EB8"/>
<circle cx="173.87" cy="914.77" r="2.9" fill="#3A7EB8"/>
<circle cx="106.6" cy="910.25" r="2.9" fill="#3A7EB8"/>
<circle cx="94.96" cy="923.83" r="2.9" fill="#3A7EB8"/>
<linearGradient id="g2_0" x1="0" x2="1" y1="0" y2="0"><stop offset="0.0100" stop-color="#ffd500"/><stop offset="0.0353" stop-color="#ffd500"/><stop offset="0.0552" stop-color="#ffa500"/><stop offset="0.0806" stop-color="#ffa500"/><stop offset="0.0955" stop-color="#ffff00"/><stop offset="0.1082" stop-color="#ffff00"/><stop offset="0.1282" stop-color="#ffa500"/><stop offset="0.1662" stop-color="#ffa500"/><stop offset="0.1861" stop-color="#aacb00"/><stop offset="0.1988" stop-color="#aacb00"/><stop offset="0.2137" stop-color="#ffff00"/><stop offset="0.2391" stop-color="#ffff00"/><stop offset="0.2640" stop-color="#ffa500"/><stop offset="0.3020" stop-color="#ffa500"/><stop offset="0.3228" stop-color="#ff4000"/><stop offset="0.3376" stop-color="#ff4000"/><stop offset="0.3484" stop-color="#ffa500"/><stop offset="0.3611" stop-color="#ffa500"/><stop offset="0.3760" stop-color="#e3ee00"/><stop offset="0.4014" stop-color="#e3ee00"/><stop offset="0.4213" stop-color="#ffa500"/><stop offset="0.4466" stop-color="#ffa500"/><stop offset="0.4616" stop-color="#ffff00"/><stop offset="0.4743" stop-color="#ffff00"/><stop offset="0.4842" stop-color="#aacb00"/><stop offset="0.4969" stop-color="#aacb00"/><stop offset="0.5168" stop-color="#ff7100"/><stop offset="0.5549" stop-color="#ff7100"/><stop offset="0.5748" stop-color="#ffd500"/><stop offset="0.5875" stop-color="#ffd500"/><stop offset="0.6024" stop-color="#aacb00"/><stop offset="0.6278" stop-color="#aacb00"/><stop offset="0.6477" stop-color="#ffff00"/><stop offset="0.6731" stop-color="#ffff00"/><stop offset="0.6880" stop-color="#ffa500"/><stop offset="0.7007" stop-color="#ffa500"/><stop offset="0.7306" stop-color="#ffff00"/><stop offset="0.7940" stop-color="#ffff00"/><stop offset="0.8338" stop-color="#aacb00"/><stop offset="0.8718" stop-color="#aacb00"/><stop offset="0.8918" stop-color="#ffa500"/><stop offset="0.9045" stop-color="#ffa500"/><stop offset="0.9194" stop-color="#ffff00"/><stop offset="0.9448" stop-color="#ffff00"/><stop offset="0.9647" stop-color="#ffd500"/><stop offset="0.9900" stop-color="#ffd500"/></linearGradient>
<rect x="92.6" y="1004" width="88" height="9" fill="url(#g2_0)"/>
<path d="M184.8,999.7 L184.8,962.9 L185.26,962.9 L186.55,956.43 L189.14,942.2 L191.08,935.73 L193.67,929.26 L196.9,929.26 L198.84,933.14 L200.78,925.38 L204.02,921.5 L207.9,922.79 L209.84,930.56 L210.49,944.79 L214.37,946.08 L219.54,944.79 L220.83,940.91 L219.54,930.56 L218.25,920.21 L222.13,909.86 L224.72,908.56 L226.66,912.45 L228.6,915.03 L232.48,915.03 L233.77,889.16 L238.3,888.51 L238.95,920.21 L241.53,922.79 L242.83,927.97 L246.71,926.68 L249.29,925.38 L253.18,930.56 L258.35,929.26 L260.29,938.32 L262.23,943.49 L262.88,956.43 L263.4,956.43 L263.4,999.7 Q263.4,1002.7 260.4,1002.7 L187.8,1002.7 Q184.8,1002.7 184.8,999.7 Z" fill="#4EAE4B"/>
<circle cx="204.28" cy="851.38" r="2.9" fill="#4EAE4B"/>
<circle cx="204.28" cy="864.32" r="2.9" fill="#4EAE4B"/>
<circle cx="204.28" cy="875.19" r="2.9" fill="#4EAE4B"/>
<circle cx="204.28" cy="884.63" r="2.9" fill="#4EAE4B"/>
<circle cx="208.16" cy="895.37" r="2.9" fill="#4EAE4B"/>
<circle cx="204.28" cy="900.54" r="2.9" fill="#4EAE4B"/>
<circle cx="204.28" cy="910.5" r="2.9" fill="#4EAE4B"/>
<circle cx="207.9" cy="914.39" r="2.9" fill="#4EAE4B"/>
<circle cx="227.3" cy="865.23" r="2.9" fill="#4EAE4B"/>
<circle cx="227.3" cy="884.63" r="2.9" fill="#4EAE4B"/>
<circle cx="227.3" cy="891.75" r="2.9" fill="#4EAE4B"/>
<circle cx="224.07" cy="894.98" r="2.9" fill="#4EAE4B"/>
<circle cx="229.89" cy="904.94" r="2.9" fill="#4EAE4B"/>
<circle cx="229.89" cy="913.74" r="2.9" fill="#4EAE4B"/>
<circle cx="253.82" cy="915.68" r="2.9" fill="#4EAE4B"/>
<circle cx="242.18" cy="922.15" r="2.9" fill="#4EAE4B"/>
<linearGradient id="g2_1" x1="0" x2="1" y1="0" y2="0"><stop offset="0.0106" stop-color="#e3ee00"/><stop offset="0.0376" stop-color="#e3ee00"/><stop offset="0.0641" stop-color="#e3ee00"/><stop offset="0.1046" stop-color="#e3ee00"/><stop offset="0.1320" stop-color="#ffff00"/><stop offset="0.1612" stop-color="#ffff00"/><stop offset="0.1789" stop-color="#ff7100"/><stop offset="0.1946" stop-color="#ff7100"/><stop offset="0.2070" stop-color="#ffa500"/><stop offset="0.2227" stop-color="#ffa500"/><stop offset="0.2342" stop-color="#ff7100"/><stop offset="0.2477" stop-color="#ff7100"/><stop offset="0.2592" stop-color="#ffff00"/><stop offset="0.2749" stop-color="#ffff00"/><stop offset="0.2873" stop-color="#ff4000"/><stop offset="0.3031" stop-color="#ff4000"/><stop offset="0.3154" stop-color="#ffff00"/><stop offset="0.3312" stop-color="#ffff00"/><stop offset="0.3435" stop-color="#e3ee00"/><stop offset="0.3593" stop-color="#e3ee00"/><stop offset="0.3716" stop-color="#aacb00"/><stop offset="0.3874" stop-color="#aacb00"/><stop offset="0.4042" stop-color="#aacb00"/><stop offset="0.4312" stop-color="#aacb00"/><stop offset="0.4488" stop-color="#ffa500"/><stop offset="0.4668" stop-color="#ffa500"/><stop offset="0.4792" stop-color="#ffff00"/><stop offset="0.4927" stop-color="#ffff00"/><stop offset="0.5051" stop-color="#ffa500"/><stop offset="0.5231" stop-color="#ffa500"/><stop offset="0.5407" stop-color="#ffd500"/><stop offset="0.5677" stop-color="#ffd500"/><stop offset="0.5854" stop-color="#ffff00"/><stop offset="0.6034" stop-color="#ffff00"/><stop offset="0.6210" stop-color="#ffd500"/><stop offset="0.6480" stop-color="#ffd500"/><stop offset="0.6657" stop-color="#ff1000"/><stop offset="0.6837" stop-color="#ff1000"/><stop offset="0.6961" stop-color="#ff7100"/><stop offset="0.7096" stop-color="#ff7100"/><stop offset="0.7210" stop-color="#ffff00"/><stop offset="0.7368" stop-color="#ffff00"/><stop offset="0.7553" stop-color="#aacb00"/><stop offset="0.7868" stop-color="#aacb00"/><stop offset="0.8045" stop-color="#ffff00"/><stop offset="0.8180" stop-color="#ffff00"/><stop offset="0.8295" stop-color="#e3ee00"/><stop offset="0.8452" stop-color="#e3ee00"/><stop offset="0.8708" stop-color="#7cb000"/><stop offset="0.9203" stop-color="#7cb000"/><stop offset="0.9530" stop-color="#e3ee00"/><stop offset="0.9867" stop-color="#e3ee00"/></linearGradient>
<rect x="187.6" y="1004" width="74" height="9" fill="url(#g2_1)"/>
<path d="M265.8,999.7 L265.8,952.31 L265.87,952.31 L266.71,930.49 L267.55,910.35 L272.59,910.35 L273.43,923.78 L276.78,927.14 L279.3,933.85 L285.18,933.85 L289.37,928.82 L292.73,928.82 L295.25,932.17 L300.28,925.46 L303.64,932.17 L310.35,928.82 L313.71,920.42 L315.39,928.82 L318.74,932.17 L323.78,927.14 L330.49,927.14 L333.85,930.49 L337.21,923.78 L338.89,915.39 L342.24,915.39 L343.08,927.14 L343.92,935.53 L344.9,935.53 L344.9,999.7 Q344.9,1002.7 341.9,1002.7 L268.8,1002.7 Q265.8,1002.7 265.8,999.7 Z" fill="#974FA2"/>
<circle cx="270.07" cy="891.55" r="2.9" fill="#974FA2"/>
<circle cx="270.07" cy="896.09" r="2.9" fill="#974FA2"/>
<circle cx="270.07" cy="901.12" r="2.9" fill="#974FA2"/>
<circle cx="270.07" cy="904.48" r="2.9" fill="#974FA2"/>
<circle cx="291.05" cy="891.55" r="2.9" fill="#974FA2"/>
<circle cx="289.88" cy="909.01" r="2.9" fill="#974FA2"/>
<circle cx="308.67" cy="904.48" r="2.9" fill="#974FA2"/>
<circle cx="311.19" cy="910.35" r="2.9" fill="#974FA2"/>
<circle cx="322.44" cy="906.66" r="2.9" fill="#974FA2"/>
<circle cx="299.78" cy="911.19" r="2.9" fill="#974FA2"/>
<circle cx="297.76" cy="917.07" r="2.9" fill="#974FA2"/>
<circle cx="279.3" cy="917.91" r="2.9" fill="#974FA2"/>
<circle cx="286.02" cy="919.08" r="2.9" fill="#974FA2"/>
<circle cx="291.05" cy="920.42" r="2.9" fill="#974FA2"/>
<circle cx="278.46" cy="926.3" r="2.9" fill="#974FA2"/>
<circle cx="323.44" cy="921.77" r="2.9" fill="#974FA2"/>
<circle cx="300.79" cy="924.62" r="2.9" fill="#974FA2"/>
<circle cx="340.56" cy="915.39" r="2.9" fill="#974FA2"/>
<linearGradient id="g2_2" x1="0" x2="1" y1="0" y2="0"><stop offset="0.0239" stop-color="#aacb00"/><stop offset="0.0846" stop-color="#aacb00"/><stop offset="0.1208" stop-color="#e3ee00"/><stop offset="0.1523" stop-color="#e3ee00"/><stop offset="0.1700" stop-color="#aacb00"/><stop offset="0.1835" stop-color="#aacb00"/><stop offset="0.1949" stop-color="#e3ee00"/><stop offset="0.2107" stop-color="#e3ee00"/><stop offset="0.2231" stop-color="#ffff00"/><stop offset="0.2388" stop-color="#ffff00"/><stop offset="0.2520" stop-color="#aacb00"/><stop offset="0.2700" stop-color="#aacb00"/><stop offset="0.2824" stop-color="#e3ee00"/><stop offset="0.2959" stop-color="#e3ee00"/><stop offset="0.3189" stop-color="#aacb00"/><stop offset="0.3639" stop-color="#aacb00"/><stop offset="0.3877" stop-color="#e3ee00"/><stop offset="0.4035" stop-color="#e3ee00"/><stop offset="0.4158" stop-color="#ffa500"/><stop offset="0.4316" stop-color="#ffa500"/><stop offset="0.4484" stop-color="#ff7100"/><stop offset="0.4753" stop-color="#ff7100"/><stop offset="0.5036" stop-color="#e3ee00"/><stop offset="0.5486" stop-color="#e3ee00"/><stop offset="0.5733" stop-color="#ffd500"/><stop offset="0.5913" stop-color="#ffd500"/><stop offset="0.6037" stop-color="#ff7100"/><stop offset="0.6172" stop-color="#ff7100"/><stop offset="0.6287" stop-color="#ffff00"/><stop offset="0.6444" stop-color="#ffff00"/><stop offset="0.6568" stop-color="#aacb00"/><stop offset="0.6725" stop-color="#aacb00"/><stop offset="0.6902" stop-color="#e3ee00"/><stop offset="0.7194" stop-color="#e3ee00"/><stop offset="0.7486" stop-color="#ffff00"/><stop offset="0.7936" stop-color="#ffff00"/><stop offset="0.8174" stop-color="#aacb00"/><stop offset="0.8332" stop-color="#aacb00"/><stop offset="0.8570" stop-color="#aacb00"/><stop offset="0.9020" stop-color="#aacb00"/><stop offset="0.9259" stop-color="#ffff00"/><stop offset="0.9416" stop-color="#ffff00"/><stop offset="0.9531" stop-color="#ffd500"/><stop offset="0.9666" stop-color="#ffd500"/><stop offset="0.9781" stop-color="#ffff00"/><stop offset="0.9938" stop-color="#ffff00"/></linearGradient>
<rect x="268.5" y="1004" width="74" height="9" fill="url(#g2_2)"/>
<path d="M346.8,999.7 L346.8,943.92 L347.28,943.92 L348.12,927.14 L348.96,880.98 L354.83,879.3 L355.67,910.35 L356.51,889.37 L360.7,889.37 L361.54,927.14 L363.22,935.53 L365.74,943.92 L369.1,947.28 L370.78,945.6 L371.61,927.14 L375.81,914.55 L380.01,914.55 L380.85,938.89 L383.36,891.89 L388.4,891.05 L389.24,913.71 L393.43,912.03 L394.27,925.46 L399.31,917.07 L402.67,920.42 L407.7,920.42 L411.06,915.39 L414.41,918.74 L417.77,927.14 L422.81,927.14 L423.65,940.56 L424.9,940.56 L424.9,999.7 Q424.9,1002.7 421.9,1002.7 L349.8,1002.7 Q346.8,1002.7 346.8,999.7 Z" fill="#FF7F01"/>
<circle cx="377.49" cy="897.26" r="2.9" fill="#FF7F01"/>
<circle cx="412.74" cy="897.26" r="2.9" fill="#FF7F01"/>
<circle cx="411.9" cy="910.35" r="2.9" fill="#FF7F01"/>
<circle cx="421.13" cy="927.98" r="2.9" fill="#FF7F01"/>
<circle cx="420.29" cy="936.87" r="2.9" fill="#FF7F01"/>
<circle cx="364.06" cy="937.54" r="2.9" fill="#FF7F01"/>
<linearGradient id="g2_3" x1="0" x2="1" y1="0" y2="0"><stop offset="0.0063" stop-color="#ff4000"/><stop offset="0.0223" stop-color="#ff4000"/><stop offset="0.0429" stop-color="#ffff00"/><stop offset="0.0795" stop-color="#ffff00"/><stop offset="0.0993" stop-color="#aacb00"/><stop offset="0.1130" stop-color="#aacb00"/><stop offset="0.1354" stop-color="#ff7100"/><stop offset="0.1789" stop-color="#ff7100"/><stop offset="0.2076" stop-color="#aacb00"/><stop offset="0.2373" stop-color="#aacb00"/><stop offset="0.2580" stop-color="#7cb000"/><stop offset="0.2808" stop-color="#7cb000"/><stop offset="0.3060" stop-color="#e3ee00"/><stop offset="0.3471" stop-color="#e3ee00"/><stop offset="0.3696" stop-color="#ffa500"/><stop offset="0.3856" stop-color="#ffa500"/><stop offset="0.3981" stop-color="#ffff00"/><stop offset="0.4141" stop-color="#ffff00"/><stop offset="0.4258" stop-color="#3a8a00"/><stop offset="0.4395" stop-color="#3a8a00"/><stop offset="0.4557" stop-color="#ff7100"/><stop offset="0.4831" stop-color="#ff7100"/><stop offset="0.5064" stop-color="#ffd500"/><stop offset="0.5384" stop-color="#ffd500"/><stop offset="0.5654" stop-color="#ffa500"/><stop offset="0.6020" stop-color="#ffa500"/><stop offset="0.6235" stop-color="#ffff00"/><stop offset="0.6418" stop-color="#ffff00"/><stop offset="0.6651" stop-color="#aacb00"/><stop offset="0.7063" stop-color="#aacb00"/><stop offset="0.7386" stop-color="#7cb000"/><stop offset="0.7798" stop-color="#7cb000"/><stop offset="0.8085" stop-color="#aacb00"/><stop offset="0.8405" stop-color="#aacb00"/><stop offset="0.8710" stop-color="#ffa500"/><stop offset="0.9167" stop-color="#ffa500"/><stop offset="0.9428" stop-color="#7cb000"/><stop offset="0.9633" stop-color="#7cb000"/><stop offset="0.9777" stop-color="#e3ee00"/><stop offset="0.9937" stop-color="#e3ee00"/></linearGradient>
<rect x="349.7" y="1004" width="72.8" height="9" fill="url(#g2_3)"/>
<path d="M426.8,999.7 L426.8,960.7 L427,960.7 L427.84,940.56 L429.52,925.46 L434.56,922.1 L437.91,918.74 L441.27,927.14 L444.63,938.89 L447.98,948.96 L451.34,959.87 L454.7,959.87 L456.37,945.6 L459.73,938.89 L466.45,938.89 L471.48,935.53 L475.68,930.49 L478.19,928.82 L481.55,915.39 L485.75,908.67 L489.1,913.71 L490.78,927.14 L491.62,947.28 L492.9,947.28 L492.9,999.7 Q492.9,1002.7 489.9,1002.7 L429.8,1002.7 Q426.8,1002.7 426.8,999.7 Z" fill="#3A7EB8"/>
<circle cx="465.61" cy="880.98" r="2.9" fill="#3A7EB8"/>
<circle cx="477.69" cy="880.14" r="2.9" fill="#3A7EB8"/>
<circle cx="477.35" cy="888.53" r="2.9" fill="#3A7EB8"/>
<circle cx="477.35" cy="903.64" r="2.9" fill="#3A7EB8"/>
<circle cx="470.64" cy="921.26" r="2.9" fill="#3A7EB8"/>
<circle cx="479.87" cy="922.1" r="2.9" fill="#3A7EB8"/>
<circle cx="465.61" cy="927.98" r="2.9" fill="#3A7EB8"/>
<circle cx="471.82" cy="934.19" r="2.9" fill="#3A7EB8"/>
<linearGradient id="g2_4" x1="0" x2="1" y1="0" y2="0"><stop offset="0.0217" stop-color="#ffa500"/><stop offset="0.0770" stop-color="#ffa500"/><stop offset="0.1063" stop-color="#ffff00"/><stop offset="0.1255" stop-color="#ffff00"/><stop offset="0.1482" stop-color="#ffd500"/><stop offset="0.1866" stop-color="#ffd500"/><stop offset="0.2225" stop-color="#ff7100"/><stop offset="0.2754" stop-color="#ff7100"/><stop offset="0.3037" stop-color="#ffff00"/><stop offset="0.3229" stop-color="#ffff00"/><stop offset="0.3456" stop-color="#aacb00"/><stop offset="0.3840" stop-color="#aacb00"/><stop offset="0.4161" stop-color="#aacb00"/><stop offset="0.4594" stop-color="#aacb00"/><stop offset="0.4821" stop-color="#ffa500"/><stop offset="0.4965" stop-color="#ffa500"/><stop offset="0.5229" stop-color="#ffff00"/><stop offset="0.5758" stop-color="#ffff00"/><stop offset="0.6136" stop-color="#ffd500"/><stop offset="0.6568" stop-color="#ffd500"/><stop offset="0.6795" stop-color="#e3ee00"/><stop offset="0.6939" stop-color="#e3ee00"/><stop offset="0.7147" stop-color="#aacb00"/><stop offset="0.7531" stop-color="#aacb00"/><stop offset="0.7739" stop-color="#e3ee00"/><stop offset="0.7883" stop-color="#e3ee00"/><stop offset="0.8185" stop-color="#7cb000"/><stop offset="0.8810" stop-color="#7cb000"/><stop offset="0.9188" stop-color="#e3ee00"/><stop offset="0.9524" stop-color="#e3ee00"/><stop offset="0.9732" stop-color="#aacb00"/><stop offset="0.9924" stop-color="#aacb00"/></linearGradient>
<rect x="429.6" y="1004" width="61.1" height="9" fill="url(#g2_4)"/>
<path d="M495.8,999.7 L495.8,948.11 L495.8,948.11 L495.87,895.98 L501.01,894.51 L501.75,918.74 L503.22,931.95 L506.89,924.61 L512.03,923.14 L517.17,923.14 L517.17,882.03 L522.31,882.03 L523.04,918.74 L527.44,921.67 L528.18,931.95 L531.12,930.48 L532.58,918.74 L535.52,913.6 L539.19,917.27 L541.4,927.55 L544.33,939.3 L548.74,936.36 L549.47,915.8 L554.61,915.8 L555.35,936.36 L559.02,945.17 L561.95,949.57 L563.13,962.79 L563.9,962.79 L563.9,999.7 Q563.9,1002.7 560.9,1002.7 L498.8,1002.7 Q495.8,1002.7 495.8,999.7 Z" fill="#4EAE4B"/>
<circle cx="508.8" cy="906.26" r="2.9" fill="#4EAE4B"/>
<circle cx="505.86" cy="917.71" r="2.9" fill="#4EAE4B"/>
<circle cx="542.86" cy="926.81" r="2.9" fill="#4EAE4B"/>
<circle cx="559.75" cy="927.84" r="2.9" fill="#4EAE4B"/>
<circle cx="559.75" cy="942.23" r="2.9" fill="#4EAE4B"/>
<linearGradient id="g2_5" x1="0" x2="1" y1="0" y2="0"><stop offset="0.0144" stop-color="#e3ee00"/><stop offset="0.0511" stop-color="#e3ee00"/><stop offset="0.0782" stop-color="#aacb00"/><stop offset="0.1103" stop-color="#aacb00"/><stop offset="0.1374" stop-color="#ffd500"/><stop offset="0.1741" stop-color="#ffd500"/><stop offset="0.2011" stop-color="#ff7100"/><stop offset="0.2333" stop-color="#ff7100"/><stop offset="0.2603" stop-color="#e3ee00"/><stop offset="0.2970" stop-color="#e3ee00"/><stop offset="0.3259" stop-color="#ffa500"/><stop offset="0.3626" stop-color="#ffa500"/><stop offset="0.3834" stop-color="#ffff00"/><stop offset="0.3994" stop-color="#ffff00"/><stop offset="0.4193" stop-color="#ff7100"/><stop offset="0.4537" stop-color="#ff7100"/><stop offset="0.4744" stop-color="#ffff00"/><stop offset="0.4928" stop-color="#ffff00"/><stop offset="0.5135" stop-color="#ff7100"/><stop offset="0.5480" stop-color="#ff7100"/><stop offset="0.5750" stop-color="#ffd500"/><stop offset="0.6094" stop-color="#ffd500"/><stop offset="0.6356" stop-color="#ffa500"/><stop offset="0.6677" stop-color="#ffa500"/><stop offset="0.6884" stop-color="#ff4000"/><stop offset="0.7091" stop-color="#ff4000"/><stop offset="0.7452" stop-color="#ffff00"/><stop offset="0.8163" stop-color="#ffff00"/><stop offset="0.8569" stop-color="#ffa500"/><stop offset="0.8890" stop-color="#ffa500"/><stop offset="0.9161" stop-color="#e3ee00"/><stop offset="0.9528" stop-color="#e3ee00"/><stop offset="0.9744" stop-color="#aacb00"/><stop offset="0.9928" stop-color="#aacb00"/></linearGradient>
<rect x="497.7" y="1004" width="64" height="9" fill="url(#g2_5)"/>
<path d="M566.3,999.7 L566.3,948.11 L566.36,948.11 L567.09,929.02 L570.76,926.08 L571.5,915.8 L574.43,913.6 L575.17,923.14 L578.11,926.08 L581.04,933.42 L583.98,936.36 L586.92,940.76 L591.32,943.7 L595.73,940.76 L600.13,936.36 L601.6,918.74 L607.47,916.53 L611.88,918.74 L616.28,933.42 L617.02,894.51 L622.89,894.51 L624.36,911.4 L628.77,909.93 L630.23,921.67 L630.97,948.11 L631.9,948.11 L631.9,999.7 Q631.9,1002.7 628.9,1002.7 L569.3,1002.7 Q566.3,1002.7 566.3,999.7 Z" fill="#974FA2"/>
<circle cx="621.42" cy="870.57" r="2.9" fill="#974FA2"/>
<circle cx="574.43" cy="889.37" r="2.9" fill="#974FA2"/>
<circle cx="574.43" cy="893.77" r="2.9" fill="#974FA2"/>
<circle cx="574.43" cy="898.18" r="2.9" fill="#974FA2"/>
<circle cx="575.17" cy="905.52" r="2.9" fill="#974FA2"/>
<circle cx="577.37" cy="909.19" r="2.9" fill="#974FA2"/>
<circle cx="603.36" cy="894.07" r="2.9" fill="#974FA2"/>
<circle cx="611.15" cy="903.32" r="2.9" fill="#974FA2"/>
<circle cx="603.36" cy="910.66" r="2.9" fill="#974FA2"/>
<circle cx="595.43" cy="932.69" r="2.9" fill="#974FA2"/>
<circle cx="581.78" cy="929.02" r="2.9" fill="#974FA2"/>
<linearGradient id="g2_6" x1="0" x2="1" y1="0" y2="0"><stop offset="0.0142" stop-color="#ffd500"/><stop offset="0.0502" stop-color="#ffd500"/><stop offset="0.0748" stop-color="#aacb00"/><stop offset="0.1012" stop-color="#aacb00"/><stop offset="0.1248" stop-color="#7cb000"/><stop offset="0.1585" stop-color="#7cb000"/><stop offset="0.1849" stop-color="#aacb00"/><stop offset="0.2185" stop-color="#aacb00"/><stop offset="0.2374" stop-color="#ffa500"/><stop offset="0.2518" stop-color="#ffa500"/><stop offset="0.2660" stop-color="#ff7100"/><stop offset="0.2876" stop-color="#ff7100"/><stop offset="0.3122" stop-color="#ffff00"/><stop offset="0.3530" stop-color="#ffff00"/><stop offset="0.3767" stop-color="#ff7100"/><stop offset="0.3959" stop-color="#ff7100"/><stop offset="0.4082" stop-color="#ffff00"/><stop offset="0.4202" stop-color="#ffff00"/><stop offset="0.4353" stop-color="#ff4000"/><stop offset="0.4617" stop-color="#ff4000"/><stop offset="0.4778" stop-color="#aacb00"/><stop offset="0.4922" stop-color="#aacb00"/><stop offset="0.5130" stop-color="#ffa500"/><stop offset="0.5514" stop-color="#ffa500"/><stop offset="0.5797" stop-color="#e3ee00"/><stop offset="0.6134" stop-color="#e3ee00"/><stop offset="0.6408" stop-color="#ffa500"/><stop offset="0.6768" stop-color="#ffa500"/><stop offset="0.6995" stop-color="#ff1000"/><stop offset="0.7211" stop-color="#ff1000"/><stop offset="0.7372" stop-color="#ffa500"/><stop offset="0.7564" stop-color="#ffa500"/><stop offset="0.7791" stop-color="#ffff00"/><stop offset="0.8175" stop-color="#ffff00"/><stop offset="0.8392" stop-color="#aacb00"/><stop offset="0.8561" stop-color="#aacb00"/><stop offset="0.8674" stop-color="#ffd500"/><stop offset="0.8794" stop-color="#ffd500"/><stop offset="0.9096" stop-color="#e3ee00"/><stop offset="0.9745" stop-color="#e3ee00"/></linearGradient>
<rect x="568.8" y="1004" width="61.1" height="9" fill="url(#g2_6)"/>
<path d="M634.3,999.7 L634.3,962.79 L634.3,962.79 L635.37,948.11 L636.84,933.42 L641.25,930.48 L643.45,915.07 L647.12,914.33 L648.59,934.89 L651.53,918.74 L655.2,892.31 L660.34,891.57 L663.27,898.18 L664.74,930.48 L666.21,914.33 L669.15,912.13 L672.09,917.27 L675.02,923.14 L679.43,930.48 L683.83,929.02 L686.77,926.81 L692.64,931.95 L693.38,940.76 L694.85,953.98 L696.31,962.79 L696.9,962.79 L696.9,999.7 Q696.9,1002.7 693.9,1002.7 L637.3,1002.7 Q634.3,1002.7 634.3,999.7 Z" fill="#FF7F01"/>
<circle cx="686.48" cy="901.41" r="2.9" fill="#FF7F01"/>
<circle cx="674.73" cy="906.99" r="2.9" fill="#FF7F01"/>
<circle cx="675.32" cy="914.63" r="2.9" fill="#FF7F01"/>
<circle cx="675.32" cy="918" r="2.9" fill="#FF7F01"/>
<linearGradient id="g2_7" x1="0" x2="1" y1="0" y2="0"><stop offset="0.0074" stop-color="#ffa500"/><stop offset="0.0263" stop-color="#ffa500"/><stop offset="0.0412" stop-color="#e3ee00"/><stop offset="0.0601" stop-color="#e3ee00"/><stop offset="0.0907" stop-color="#ffd500"/><stop offset="0.1498" stop-color="#ffd500"/><stop offset="0.1795" stop-color="#ff7100"/><stop offset="0.1960" stop-color="#ff7100"/><stop offset="0.2183" stop-color="#e3ee00"/><stop offset="0.2585" stop-color="#e3ee00"/><stop offset="0.2965" stop-color="#ff1000"/><stop offset="0.3532" stop-color="#ff1000"/><stop offset="0.3830" stop-color="#ffa500"/><stop offset="0.4019" stop-color="#ffa500"/><stop offset="0.4176" stop-color="#ffff00"/><stop offset="0.4389" stop-color="#ffff00"/><stop offset="0.4630" stop-color="#aacb00"/><stop offset="0.5032" stop-color="#aacb00"/><stop offset="0.5255" stop-color="#ffd500"/><stop offset="0.5420" stop-color="#ffd500"/><stop offset="0.5569" stop-color="#ffff00"/><stop offset="0.5781" stop-color="#ffff00"/><stop offset="0.6014" stop-color="#ff4000"/><stop offset="0.6392" stop-color="#ff4000"/><stop offset="0.6605" stop-color="#ff7100"/><stop offset="0.6770" stop-color="#ff7100"/><stop offset="0.6919" stop-color="#ff4000"/><stop offset="0.7132" stop-color="#ff4000"/><stop offset="0.7299" stop-color="#ffa500"/><stop offset="0.7511" stop-color="#ffa500"/><stop offset="0.7660" stop-color="#aacb00"/><stop offset="0.7825" stop-color="#aacb00"/><stop offset="0.7965" stop-color="#7cb000"/><stop offset="0.8154" stop-color="#7cb000"/><stop offset="0.8302" stop-color="#aacb00"/><stop offset="0.8491" stop-color="#aacb00"/><stop offset="0.8723" stop-color="#ffff00"/><stop offset="0.9125" stop-color="#ffff00"/><stop offset="0.9357" stop-color="#ff7100"/><stop offset="0.9546" stop-color="#ff7100"/><stop offset="0.9704" stop-color="#e3ee00"/><stop offset="0.9916" stop-color="#e3ee00"/></linearGradient>
<rect x="636.8" y="1004" width="58" height="9" fill="url(#g2_7)"/>
<path d="M699.8,999.7 L699.8,964.9 L699.8,964.9 L700.49,954.41 L701.36,938.67 L702.24,929.93 L707.48,929.93 L709.23,933.43 L713.6,933.43 L715.35,928.18 L719.72,922.94 L724.97,918.57 L731.96,918.57 L733.71,931.68 L740.7,929.93 L744.2,935.17 L748.57,935.17 L749.44,943.92 L750.31,956.15 L750.9,956.15 L750.9,999.7 Q750.9,1002.7 747.9,1002.7 L702.8,1002.7 Q699.8,1002.7 699.8,999.7 Z" fill="#3A7EB8"/>
<circle cx="717.97" cy="911.92" r="2.9" fill="#3A7EB8"/>
<circle cx="731.08" cy="910.7" r="2.9" fill="#3A7EB8"/>
<circle cx="731.08" cy="915.07" r="2.9" fill="#3A7EB8"/>
<circle cx="740.35" cy="915.07" r="2.9" fill="#3A7EB8"/>
<circle cx="746.82" cy="919.79" r="2.9" fill="#3A7EB8"/>
<circle cx="721.47" cy="916.82" r="2.9" fill="#3A7EB8"/>
<linearGradient id="g2_8" x1="0" x2="1" y1="0" y2="0"><stop offset="0.0178" stop-color="#ffff00"/><stop offset="0.0630" stop-color="#ffff00"/><stop offset="0.0926" stop-color="#aacb00"/><stop offset="0.1227" stop-color="#aacb00"/><stop offset="0.1523" stop-color="#e3ee00"/><stop offset="0.1975" stop-color="#e3ee00"/><stop offset="0.2251" stop-color="#ff7100"/><stop offset="0.2502" stop-color="#ff7100"/><stop offset="0.2700" stop-color="#ff1000"/><stop offset="0.2951" stop-color="#ff1000"/><stop offset="0.3148" stop-color="#ff7100"/><stop offset="0.3399" stop-color="#ff7100"/><stop offset="0.3587" stop-color="#aacb00"/><stop offset="0.3813" stop-color="#aacb00"/><stop offset="0.4000" stop-color="#ff7100"/><stop offset="0.4251" stop-color="#ff7100"/><stop offset="0.4429" stop-color="#ffff00"/><stop offset="0.4630" stop-color="#ffff00"/><stop offset="0.4916" stop-color="#ffa500"/><stop offset="0.5443" stop-color="#ffa500"/><stop offset="0.5729" stop-color="#e3ee00"/><stop offset="0.5930" stop-color="#e3ee00"/><stop offset="0.6108" stop-color="#ffff00"/><stop offset="0.6359" stop-color="#ffff00"/><stop offset="0.6556" stop-color="#ffd500"/><stop offset="0.6807" stop-color="#ffd500"/><stop offset="0.7083" stop-color="#e3ee00"/><stop offset="0.7535" stop-color="#e3ee00"/><stop offset="0.7831" stop-color="#aacb00"/><stop offset="0.8133" stop-color="#aacb00"/><stop offset="0.8636" stop-color="#e3ee00"/><stop offset="0.9615" stop-color="#e3ee00"/></linearGradient>
<rect x="702.2" y="1004" width="46.8" height="9" fill="url(#g2_8)"/>
<path d="M753.8,999.7 L753.8,964.9 L753.81,964.9 L755.56,947.41 L759.93,938.67 L759.93,933.43 L765.17,926.43 L768.67,922.06 L773.92,933.43 L777.41,933.43 L784.41,927.31 L788.78,931.68 L791.4,936.92 L794.9,936.05 L800.14,938.67 L803.64,940.42 L804.51,950.91 L805.38,964.9 L805.9,964.9 L805.9,999.7 Q805.9,1002.7 802.9,1002.7 L756.8,1002.7 Q753.8,1002.7 753.8,999.7 Z" fill="#4EAE4B"/>
<circle cx="785.28" cy="891.12" r="2.9" fill="#4EAE4B"/>
<circle cx="785.28" cy="911.57" r="2.9" fill="#4EAE4B"/>
<circle cx="785.28" cy="915.59" r="2.9" fill="#4EAE4B"/>
<circle cx="785.28" cy="922.06" r="2.9" fill="#4EAE4B"/>
<linearGradient id="g2_9" x1="0" x2="1" y1="0" y2="0"><stop offset="0.0088" stop-color="#ffa500"/><stop offset="0.0312" stop-color="#ffa500"/><stop offset="0.0498" stop-color="#ff7100"/><stop offset="0.0747" stop-color="#ff7100"/><stop offset="0.0942" stop-color="#ff4000"/><stop offset="0.1191" stop-color="#ff4000"/><stop offset="0.1524" stop-color="#ffa500"/><stop offset="0.2121" stop-color="#ffa500"/><stop offset="0.2639" stop-color="#ffff00"/><stop offset="0.3361" stop-color="#ffff00"/><stop offset="0.3830" stop-color="#ffa500"/><stop offset="0.4303" stop-color="#ffa500"/><stop offset="0.4684" stop-color="#ffd500"/><stop offset="0.5182" stop-color="#ffd500"/><stop offset="0.5632" stop-color="#e3ee00"/><stop offset="0.6279" stop-color="#e3ee00"/><stop offset="0.6729" stop-color="#ffa500"/><stop offset="0.7227" stop-color="#ffa500"/><stop offset="0.7696" stop-color="#ffff00"/><stop offset="0.8393" stop-color="#ffff00"/><stop offset="0.8764" stop-color="#e3ee00"/><stop offset="0.9013" stop-color="#e3ee00"/><stop offset="0.9228" stop-color="#7cb000"/><stop offset="0.9527" stop-color="#7cb000"/><stop offset="0.9723" stop-color="#aacb00"/><stop offset="0.9922" stop-color="#aacb00"/></linearGradient>
<rect x="756.4" y="1004" width="47.2" height="9" fill="url(#g2_9)"/>
<path d="M808.8,999.7 L808.8,964.9 L808.8,964.9 L808.88,938.67 L815,936.92 L815.87,929.93 L819.37,911.57 L828.11,909.83 L829.86,922.94 L831.61,938.67 L838.6,940.42 L840.35,950.91 L843.85,929.93 L845.59,923.81 L849.97,926.43 L852.59,921.19 L853.46,907.2 L855.21,892.34 L860.45,892.34 L861.33,917.69 L864.83,926.43 L868.32,933.43 L871.82,938.67 L871.9,964.9 L871.9,964.9 L871.9,999.7 Q871.9,1002.7 868.9,1002.7 L811.8,1002.7 Q808.8,1002.7 808.8,999.7 Z" fill="#974FA2"/>
<circle cx="815.52" cy="915.94" r="2.9" fill="#974FA2"/>
<circle cx="830.73" cy="920.31" r="2.9" fill="#974FA2"/>
<circle cx="854.34" cy="906.33" r="2.9" fill="#974FA2"/>
<linearGradient id="g2_10" x1="0" x2="1" y1="0" y2="0"><stop offset="0.0136" stop-color="#aacb00"/><stop offset="0.0481" stop-color="#aacb00"/><stop offset="0.0780" stop-color="#ffff00"/><stop offset="0.1195" stop-color="#ffff00"/><stop offset="0.1575" stop-color="#ffa500"/><stop offset="0.2128" stop-color="#ffa500"/><stop offset="0.2491" stop-color="#ffd500"/><stop offset="0.2859" stop-color="#ffd500"/><stop offset="0.3077" stop-color="#ff7100"/><stop offset="0.3261" stop-color="#ff7100"/><stop offset="0.3478" stop-color="#ffa500"/><stop offset="0.3847" stop-color="#ffa500"/><stop offset="0.4046" stop-color="#3a8a00"/><stop offset="0.4184" stop-color="#3a8a00"/><stop offset="0.4420" stop-color="#e3ee00"/><stop offset="0.4881" stop-color="#e3ee00"/><stop offset="0.5125" stop-color="#ffa500"/><stop offset="0.5286" stop-color="#ffa500"/><stop offset="0.5422" stop-color="#ff4000"/><stop offset="0.5607" stop-color="#ff4000"/><stop offset="0.5742" stop-color="#ff7100"/><stop offset="0.5904" stop-color="#ff7100"/><stop offset="0.6121" stop-color="#ff4000"/><stop offset="0.6513" stop-color="#ff4000"/><stop offset="0.6739" stop-color="#ffd500"/><stop offset="0.6923" stop-color="#ffd500"/><stop offset="0.7150" stop-color="#ff4000"/><stop offset="0.7542" stop-color="#ff4000"/><stop offset="0.7759" stop-color="#ff1000"/><stop offset="0.7920" stop-color="#ff1000"/><stop offset="0.8038" stop-color="#ffd500"/><stop offset="0.8176" stop-color="#ffd500"/><stop offset="0.8312" stop-color="#ff4000"/><stop offset="0.8519" stop-color="#ff4000"/><stop offset="0.8818" stop-color="#e3ee00"/><stop offset="0.9371" stop-color="#e3ee00"/><stop offset="0.9679" stop-color="#aacb00"/><stop offset="0.9909" stop-color="#aacb00"/></linearGradient>
<rect x="810.8" y="1004" width="59.4" height="9" fill="url(#g2_10)"/>
<path d="M874.8,999.7 L874.8,964.9 L874.8,964.9 L875.31,947.41 L876.19,931.68 L880.56,924.69 L884.06,918.57 L889.3,922.94 L892.8,933.43 L891.05,940.42 L894.55,929.93 L899.79,923.81 L902.41,933.43 L904.16,909.83 L910.28,909.83 L912.9,909.83 L917.27,908.08 L922.52,914.2 L926.01,915.07 L929.51,922.94 L931.26,936.92 L933.88,947.41 L934.76,964.9 L935.9,964.9 L935.9,999.7 Q935.9,1002.7 932.9,1002.7 L877.8,1002.7 Q874.8,1002.7 874.8,999.7 Z" fill="#FF7F01"/>
<circle cx="921.12" cy="891.47" r="2.9" fill="#FF7F01"/>
<linearGradient id="g2_11" x1="0" x2="1" y1="0" y2="0"><stop offset="0.0086" stop-color="#e3ee00"/><stop offset="0.0305" stop-color="#e3ee00"/><stop offset="0.0487" stop-color="#aacb00"/><stop offset="0.0730" stop-color="#aacb00"/><stop offset="0.0903" stop-color="#e3ee00"/><stop offset="0.1097" stop-color="#e3ee00"/><stop offset="0.1289" stop-color="#ffd500"/><stop offset="0.1581" stop-color="#ffd500"/><stop offset="0.1801" stop-color="#ffff00"/><stop offset="0.2069" stop-color="#ffff00"/><stop offset="0.2260" stop-color="#7cb000"/><stop offset="0.2479" stop-color="#7cb000"/><stop offset="0.2642" stop-color="#ff7100"/><stop offset="0.2837" stop-color="#ff7100"/><stop offset="0.2970" stop-color="#aacb00"/><stop offset="0.3117" stop-color="#aacb00"/><stop offset="0.3346" stop-color="#ffa500"/><stop offset="0.3784" stop-color="#ffa500"/><stop offset="0.4196" stop-color="#e3ee00"/><stop offset="0.4804" stop-color="#e3ee00"/><stop offset="0.5120" stop-color="#ff7100"/><stop offset="0.5315" stop-color="#ff7100"/><stop offset="0.5554" stop-color="#ffa500"/><stop offset="0.5968" stop-color="#ffa500"/><stop offset="0.6245" stop-color="#ffa500"/><stop offset="0.6537" stop-color="#ffa500"/><stop offset="0.6757" stop-color="#ff7100"/><stop offset="0.7025" stop-color="#ff7100"/><stop offset="0.7217" stop-color="#aacb00"/><stop offset="0.7436" stop-color="#aacb00"/><stop offset="0.7598" stop-color="#ffff00"/><stop offset="0.7793" stop-color="#ffff00"/><stop offset="0.8013" stop-color="#ff4000"/><stop offset="0.8378" stop-color="#ff4000"/><stop offset="0.8608" stop-color="#e3ee00"/><stop offset="0.8827" stop-color="#e3ee00"/><stop offset="0.8990" stop-color="#aacb00"/><stop offset="0.9184" stop-color="#aacb00"/><stop offset="0.9357" stop-color="#ffff00"/><stop offset="0.9600" stop-color="#ffff00"/><stop offset="0.9763" stop-color="#aacb00"/><stop offset="0.9933" stop-color="#aacb00"/></linearGradient>
<rect x="877.3" y="1004" width="56.2" height="9" fill="url(#g2_11)"/>
<path d="M85.1,1021 H905.6" stroke="#111" stroke-width="1.7" fill="none"/>
<path d="M85.1,1021 V1031" stroke="#111" stroke-width="1.7"/>
<text x="85.1" y="1053" text-anchor="middle" font-size="20" font-family="'Liberation Sans', sans-serif" fill="#111">Chr</text>
<path d="M136.2,1021 V1031" stroke="#111" stroke-width="1.7"/>
<text x="136.2" y="1053" text-anchor="middle" font-size="20" font-family="'Liberation Sans', sans-serif" fill="#111">1</text>
<path d="M223.75,1021 V1031" stroke="#111" stroke-width="1.7"/>
<text x="223.75" y="1053" text-anchor="middle" font-size="20" font-family="'Liberation Sans', sans-serif" fill="#111">2</text>
<path d="M305,1021 V1031" stroke="#111" stroke-width="1.7"/>
<text x="305" y="1053" text-anchor="middle" font-size="20" font-family="'Liberation Sans', sans-serif" fill="#111">3</text>
<path d="M385.5,1021 V1031" stroke="#111" stroke-width="1.7"/>
<text x="385.5" y="1053" text-anchor="middle" font-size="20" font-family="'Liberation Sans', sans-serif" fill="#111">4</text>
<path d="M459.5,1021 V1031" stroke="#111" stroke-width="1.7"/>
<text x="459.5" y="1053" text-anchor="middle" font-size="20" font-family="'Liberation Sans', sans-serif" fill="#111">5</text>
<path d="M529.5,1021 V1031" stroke="#111" stroke-width="1.7"/>
<text x="529.5" y="1053" text-anchor="middle" font-size="20" font-family="'Liberation Sans', sans-serif" fill="#111">6</text>
<path d="M598.75,1021 V1031" stroke="#111" stroke-width="1.7"/>
<text x="598.75" y="1053" text-anchor="middle" font-size="20" font-family="'Liberation Sans', sans-serif" fill="#111">7</text>
<path d="M665.25,1021 V1031" stroke="#111" stroke-width="1.7"/>
<text x="665.25" y="1053" text-anchor="middle" font-size="20" font-family="'Liberation Sans', sans-serif" fill="#111">8</text>
<path d="M725,1021 V1031" stroke="#111" stroke-width="1.7"/>
<text x="725" y="1053" text-anchor="middle" font-size="20" font-family="'Liberation Sans', sans-serif" fill="#111">9</text>
<path d="M779.5,1021 V1031" stroke="#111" stroke-width="1.7"/>
<text x="779.5" y="1053" text-anchor="middle" font-size="20" font-family="'Liberation Sans', sans-serif" fill="#111">10</text>
<path d="M840,1021 V1031" stroke="#111" stroke-width="1.7"/>
<text x="840" y="1053" text-anchor="middle" font-size="20" font-family="'Liberation Sans', sans-serif" fill="#111">11</text>
<path d="M905,1021 V1031" stroke="#111" stroke-width="1.7"/>
<text x="905" y="1053" text-anchor="middle" font-size="20" font-family="'Liberation Sans', sans-serif" fill="#111">12</text>
<text x="505" y="1079" text-anchor="middle" font-size="20" font-family="'Liberation Sans', sans-serif" fill="#111">Chromosome</text>
<rect x="935" y="816" width="13" height="11.57" fill="#bebebe"/>
<text x="950" y="825.3" font-size="9" font-family="'Liberation Sans', sans-serif" fill="#222">0</text>
<rect x="935" y="827.37" width="13" height="11.57" fill="#398600"/>
<text x="950" y="836.67" font-size="9" font-family="'Liberation Sans', sans-serif" fill="#222">2413</text>
<rect x="935" y="838.74" width="13" height="11.57" fill="#71a900"/>
<text x="950" y="848.04" font-size="9" font-family="'Liberation Sans', sans-serif" fill="#222">4826</text>
<rect x="935" y="850.11" width="13" height="11.57" fill="#aacb00"/>
<text x="950" y="859.41" font-size="9" font-family="'Liberation Sans', sans-serif" fill="#222">7239</text>
<rect x="935" y="861.48" width="13" height="11.57" fill="#e3ee00"/>
<text x="950" y="870.78" font-size="9" font-family="'Liberation Sans', sans-serif" fill="#222">9652</text>
<rect x="935" y="872.85" width="13" height="11.57" fill="#ffe300"/>
<text x="950" y="882.15" font-size="9" font-family="'Liberation Sans', sans-serif" fill="#222">12065</text>
<rect x="935" y="884.22" width="13" height="11.57" fill="#ffaa00"/>
<text x="950" y="893.52" font-size="9" font-family="'Liberation Sans', sans-serif" fill="#222">14478</text>
<rect x="935" y="895.59" width="13" height="11.57" fill="#ff7100"/>
<text x="950" y="904.89" font-size="9" font-family="'Liberation Sans', sans-serif" fill="#222">16891</text>
<rect x="935" y="906.96" width="13" height="11.57" fill="#ff3900"/>
<text x="950" y="916.26" font-size="9" font-family="'Liberation Sans', sans-serif" fill="#222">19304</text>
<rect x="935" y="918.33" width="13" height="11.57" fill="#ff0000"/>
<text x="950" y="927.63" font-size="9" font-family="'Liberation Sans', sans-serif" fill="#222">21717</text>
<rect x="935" y="929.7" width="13" height="11.57" fill="#ff0000"/>
<text x="950" y="939" font-size="9" font-family="'Liberation Sans', sans-serif" fill="#222">&gt;21717</text>
<path d="M84.3,1349 V1168.3" stroke="#111" stroke-width="1.7" fill="none"/>
<path d="M76.8,1349 H84.3" stroke="#111" stroke-width="1.7"/>
<text x="69.8" y="1354" text-anchor="end" font-size="20" font-family="'Liberation Sans', sans-serif" fill="#111">0</text>
<path d="M76.8,1312.86 H84.3" stroke="#111" stroke-width="1.7"/>
<text x="69.8" y="1317.86" text-anchor="end" font-size="20" font-family="'Liberation Sans', sans-serif" fill="#111">2</text>
<path d="M76.8,1276.72 H84.3" stroke="#111" stroke-width="1.7"/>
<text x="69.8" y="1281.72" text-anchor="end" font-size="20" font-family="'Liberation Sans', sans-serif" fill="#111">4</text>
<path d="M76.8,1240.58 H84.3" stroke="#111" stroke-width="1.7"/>
<text x="69.8" y="1245.58" text-anchor="end" font-size="20" font-family="'Liberation Sans', sans-serif" fill="#111">6</text>
<path d="M76.8,1204.44 H84.3" stroke="#111" stroke-width="1.7"/>
<text x="69.8" y="1209.44" text-anchor="end" font-size="20" font-family="'Liberation Sans', sans-serif" fill="#111">8</text>
<path d="M76.8,1168.3 H84.3" stroke="#111" stroke-width="1.7"/>
<text x="69.8" y="1173.3" text-anchor="end" font-size="20" font-family="'Liberation Sans', sans-serif" fill="#111">10</text>
<text transform="translate(35,1259.7) rotate(-90)" text-anchor="middle" font-size="20" font-family="'Liberation Sans', sans-serif" fill="#111">-log<tspan font-size="12" dy="6.5">10</tspan><tspan dy="-6.5">(</tspan><tspan font-style="italic">p</tspan>)</text>
<path d="M90.2,1349.8 L90.2,1316.43 L90.43,1316.43 L90.82,1282.79 L93.41,1280.21 L96,1284.09 L97.29,1297.02 L98.58,1298.32 L98.58,1276.97 L103.76,1276.97 L104.4,1287.97 L107.64,1290.56 L110.87,1293.14 L110.87,1303.49 L112.17,1295.73 L117.34,1297.02 L123.81,1298.32 L126.4,1293.14 L129.63,1290.56 L130.28,1282.79 L132.22,1229.11 L137.39,1228.46 L138.04,1258.21 L139.33,1262.1 L139.98,1281.5 L144.51,1282.79 L145.8,1290.56 L147.1,1299.61 L149.68,1302.2 L150.98,1306.08 L152.27,1290.56 L155.5,1288.62 L159.39,1294.44 L165.21,1295.73 L166.5,1306.08 L169.09,1300.91 L169.73,1289.26 L172.97,1290.56 L175.56,1293.14 L180.73,1293.14 L181.38,1300.91 L182.28,1316.43 L182.9,1316.43 L182.9,1349.8 Q182.9,1352.8 179.9,1352.8 L93.2,1352.8 Q90.2,1352.8 90.2,1349.8 Z" fill="#3A7EB8"/>
<circle cx="100.78" cy="1266.62" r="2.9" fill="#3A7EB8"/>
<circle cx="100.78" cy="1271.15" r="2.9" fill="#3A7EB8"/>
<circle cx="108.03" cy="1292.11" r="2.9" fill="#3A7EB8"/>
<circle cx="177.76" cy="1281.76" r="2.9" fill="#3A7EB8"/>
<circle cx="177.76" cy="1285.38" r="2.9" fill="#3A7EB8"/>
<circle cx="165.85" cy="1296.38" r="2.9" fill="#3A7EB8"/>
<linearGradient id="g3_0" x1="0" x2="1" y1="0" y2="0"><stop offset="0.0100" stop-color="#ffd500"/><stop offset="0.0353" stop-color="#ffd500"/><stop offset="0.0552" stop-color="#ffa500"/><stop offset="0.0806" stop-color="#ffa500"/><stop offset="0.0955" stop-color="#ffff00"/><stop offset="0.1082" stop-color="#ffff00"/><stop offset="0.1282" stop-color="#ffa500"/><stop offset="0.1662" stop-color="#ffa500"/><stop offset="0.1861" stop-color="#aacb00"/><stop offset="0.1988" stop-color="#aacb00"/><stop offset="0.2137" stop-color="#ffff00"/><stop offset="0.2391" stop-color="#ffff00"/><stop offset="0.2640" stop-color="#ffa500"/><stop offset="0.3020" stop-color="#ffa500"/><stop offset="0.3228" stop-color="#ff4000"/><stop offset="0.3376" stop-color="#ff4000"/><stop offset="0.3484" stop-color="#ffa500"/><stop offset="0.3611" stop-color="#ffa500"/><stop offset="0.3760" stop-color="#e3ee00"/><stop offset="0.4014" stop-color="#e3ee00"/><stop offset="0.4213" stop-color="#ffa500"/><stop offset="0.4466" stop-color="#ffa500"/><stop offset="0.4616" stop-color="#ffff00"/><stop offset="0.4743" stop-color="#ffff00"/><stop offset="0.4842" stop-color="#aacb00"/><stop offset="0.4969" stop-color="#aacb00"/><stop offset="0.5168" stop-color="#ff7100"/><stop offset="0.5549" stop-color="#ff7100"/><stop offset="0.5748" stop-color="#ffd500"/><stop offset="0.5875" stop-color="#ffd500"/><stop offset="0.6024" stop-color="#aacb00"/><stop offset="0.6278" stop-color="#aacb00"/><stop offset="0.6477" stop-color="#ffff00"/><stop offset="0.6731" stop-color="#ffff00"/><stop offset="0.6880" stop-color="#ffa500"/><stop offset="0.7007" stop-color="#ffa500"/><stop offset="0.7306" stop-color="#ffff00"/><stop offset="0.7940" stop-color="#ffff00"/><stop offset="0.8338" stop-color="#aacb00"/><stop offset="0.8718" stop-color="#aacb00"/><stop offset="0.8918" stop-color="#ffa500"/><stop offset="0.9045" stop-color="#ffa500"/><stop offset="0.9194" stop-color="#ffff00"/><stop offset="0.9448" stop-color="#ffff00"/><stop offset="0.9647" stop-color="#ffd500"/><stop offset="0.9900" stop-color="#ffd500"/></linearGradient>
<rect x="92.6" y="1354.4" width="88" height="9" fill="url(#g3_0)"/>
<path d="M184.8,1349.8 L184.8,1322.9 L185.65,1322.9 L186.55,1298.32 L189.14,1293.79 L192.37,1297.02 L194.96,1292.5 L198.2,1292.5 L200.14,1299.61 L205.31,1298.97 L209.19,1303.49 L211.78,1302.2 L215.66,1298.32 L218.25,1293.14 L222.13,1291.2 L224.72,1295.73 L225.36,1269.21 L231.18,1269.21 L232.48,1295.73 L235.06,1283.44 L240.24,1283.44 L242.18,1287.97 L244.12,1282.79 L247.35,1285.38 L249.29,1303.49 L253.18,1302.2 L255.76,1295.08 L260.94,1295.08 L262.88,1302.2 L263.27,1322.9 L263.4,1322.9 L263.4,1349.8 Q263.4,1352.8 260.4,1352.8 L187.8,1352.8 Q184.8,1352.8 184.8,1349.8 Z" fill="#4EAE4B"/>
<circle cx="228.34" cy="1264.04" r="2.9" fill="#4EAE4B"/>
<circle cx="241.92" cy="1270.89" r="2.9" fill="#4EAE4B"/>
<circle cx="237.65" cy="1276.58" r="2.9" fill="#4EAE4B"/>
<linearGradient id="g3_1" x1="0" x2="1" y1="0" y2="0"><stop offset="0.0106" stop-color="#e3ee00"/><stop offset="0.0376" stop-color="#e3ee00"/><stop offset="0.0641" stop-color="#e3ee00"/><stop offset="0.1046" stop-color="#e3ee00"/><stop offset="0.1320" stop-color="#ffff00"/><stop offset="0.1612" stop-color="#ffff00"/><stop offset="0.1789" stop-color="#ff7100"/><stop offset="0.1946" stop-color="#ff7100"/><stop offset="0.2070" stop-color="#ffa500"/><stop offset="0.2227" stop-color="#ffa500"/><stop offset="0.2342" stop-color="#ff7100"/><stop offset="0.2477" stop-color="#ff7100"/><stop offset="0.2592" stop-color="#ffff00"/><stop offset="0.2749" stop-color="#ffff00"/><stop offset="0.2873" stop-color="#ff4000"/><stop offset="0.3031" stop-color="#ff4000"/><stop offset="0.3154" stop-color="#ffff00"/><stop offset="0.3312" stop-color="#ffff00"/><stop offset="0.3435" stop-color="#e3ee00"/><stop offset="0.3593" stop-color="#e3ee00"/><stop offset="0.3716" stop-color="#aacb00"/><stop offset="0.3874" stop-color="#aacb00"/><stop offset="0.4042" stop-color="#aacb00"/><stop offset="0.4312" stop-color="#aacb00"/><stop offset="0.4488" stop-color="#ffa500"/><stop offset="0.4668" stop-color="#ffa500"/><stop offset="0.4792" stop-color="#ffff00"/><stop offset="0.4927" stop-color="#ffff00"/><stop offset="0.5051" stop-color="#ffa500"/><stop offset="0.5231" stop-color="#ffa500"/><stop offset="0.5407" stop-color="#ffd500"/><stop offset="0.5677" stop-color="#ffd500"/><stop offset="0.5854" stop-color="#ffff00"/><stop offset="0.6034" stop-color="#ffff00"/><stop offset="0.6210" stop-color="#ffd500"/><stop offset="0.6480" stop-color="#ffd500"/><stop offset="0.6657" stop-color="#ff1000"/><stop offset="0.6837" stop-color="#ff1000"/><stop offset="0.6961" stop-color="#ff7100"/><stop offset="0.7096" stop-color="#ff7100"/><stop offset="0.7210" stop-color="#ffff00"/><stop offset="0.7368" stop-color="#ffff00"/><stop offset="0.7553" stop-color="#aacb00"/><stop offset="0.7868" stop-color="#aacb00"/><stop offset="0.8045" stop-color="#ffff00"/><stop offset="0.8180" stop-color="#ffff00"/><stop offset="0.8295" stop-color="#e3ee00"/><stop offset="0.8452" stop-color="#e3ee00"/><stop offset="0.8708" stop-color="#7cb000"/><stop offset="0.9203" stop-color="#7cb000"/><stop offset="0.9530" stop-color="#e3ee00"/><stop offset="0.9867" stop-color="#e3ee00"/></linearGradient>
<rect x="187.6" y="1354.4" width="74" height="9" fill="url(#g3_1)"/>
<path d="M265.8,1349.8 L265.8,1311.06 L266.38,1311.06 L266.71,1277.49 L267.55,1274.13 L271.75,1277.49 L274.27,1290.92 L276.78,1289.24 L277.62,1253.99 L282.66,1253.15 L283.5,1294.27 L285.18,1290.92 L287.69,1294.27 L290.21,1299.31 L292.73,1276.65 L297.76,1276.65 L298.6,1284.2 L305.32,1285.88 L307.83,1280.85 L310.35,1274.97 L315.39,1278.33 L314.55,1284.2 L316.23,1302.67 L320.42,1300.99 L323.78,1300.99 L326.3,1293.43 L330.49,1292.59 L336.37,1290.92 L337.21,1285.04 L341.4,1286.72 L341.4,1302.67 L343.92,1307.7 L344.9,1307.7 L344.9,1349.8 Q344.9,1352.8 341.9,1352.8 L268.8,1352.8 Q265.8,1352.8 265.8,1349.8 Z" fill="#974FA2"/>
<circle cx="280.14" cy="1254.83" r="2.9" fill="#974FA2"/>
<circle cx="307.5" cy="1267.42" r="2.9" fill="#974FA2"/>
<circle cx="310.35" cy="1270.78" r="2.9" fill="#974FA2"/>
<circle cx="320.76" cy="1287.9" r="2.9" fill="#974FA2"/>
<circle cx="286.52" cy="1291.76" r="2.9" fill="#974FA2"/>
<linearGradient id="g3_2" x1="0" x2="1" y1="0" y2="0"><stop offset="0.0239" stop-color="#aacb00"/><stop offset="0.0846" stop-color="#aacb00"/><stop offset="0.1208" stop-color="#e3ee00"/><stop offset="0.1523" stop-color="#e3ee00"/><stop offset="0.1700" stop-color="#aacb00"/><stop offset="0.1835" stop-color="#aacb00"/><stop offset="0.1949" stop-color="#e3ee00"/><stop offset="0.2107" stop-color="#e3ee00"/><stop offset="0.2231" stop-color="#ffff00"/><stop offset="0.2388" stop-color="#ffff00"/><stop offset="0.2520" stop-color="#aacb00"/><stop offset="0.2700" stop-color="#aacb00"/><stop offset="0.2824" stop-color="#e3ee00"/><stop offset="0.2959" stop-color="#e3ee00"/><stop offset="0.3189" stop-color="#aacb00"/><stop offset="0.3639" stop-color="#aacb00"/><stop offset="0.3877" stop-color="#e3ee00"/><stop offset="0.4035" stop-color="#e3ee00"/><stop offset="0.4158" stop-color="#ffa500"/><stop offset="0.4316" stop-color="#ffa500"/><stop offset="0.4484" stop-color="#ff7100"/><stop offset="0.4753" stop-color="#ff7100"/><stop offset="0.5036" stop-color="#e3ee00"/><stop offset="0.5486" stop-color="#e3ee00"/><stop offset="0.5733" stop-color="#ffd500"/><stop offset="0.5913" stop-color="#ffd500"/><stop offset="0.6037" stop-color="#ff7100"/><stop offset="0.6172" stop-color="#ff7100"/><stop offset="0.6287" stop-color="#ffff00"/><stop offset="0.6444" stop-color="#ffff00"/><stop offset="0.6568" stop-color="#aacb00"/><stop offset="0.6725" stop-color="#aacb00"/><stop offset="0.6902" stop-color="#e3ee00"/><stop offset="0.7194" stop-color="#e3ee00"/><stop offset="0.7486" stop-color="#ffff00"/><stop offset="0.7936" stop-color="#ffff00"/><stop offset="0.8174" stop-color="#aacb00"/><stop offset="0.8332" stop-color="#aacb00"/><stop offset="0.8570" stop-color="#aacb00"/><stop offset="0.9020" stop-color="#aacb00"/><stop offset="0.9259" stop-color="#ffff00"/><stop offset="0.9416" stop-color="#ffff00"/><stop offset="0.9531" stop-color="#ffd500"/><stop offset="0.9666" stop-color="#ffd500"/><stop offset="0.9781" stop-color="#ffff00"/><stop offset="0.9938" stop-color="#ffff00"/></linearGradient>
<rect x="268.5" y="1354.4" width="74" height="9" fill="url(#g3_2)"/>
<path d="M346.8,1349.8 L346.8,1311.06 L347.61,1311.06 L348.12,1294.27 L348.96,1282.52 L353.15,1283.36 L353.99,1302.67 L359.03,1290.08 L362.38,1292.59 L364.9,1302.67 L367.42,1307.7 L370.78,1309.38 L370.78,1298.47 L375.81,1294.27 L379.17,1295.95 L385.04,1297.63 L385.88,1268.26 L390.08,1266.58 L390.92,1191.05 L396.79,1191.05 L396.79,1274.13 L399.31,1277.49 L400.15,1300.99 L402.67,1277.49 L404.34,1259.87 L407.7,1256.51 L410.22,1277.49 L414.41,1280.85 L416.09,1290.08 L421.13,1290.08 L422.81,1307.7 L424.15,1319.45 L424.9,1319.45 L424.9,1349.8 Q424.9,1352.8 421.9,1352.8 L349.8,1352.8 Q346.8,1352.8 346.8,1349.8 Z" fill="#FF7F01"/>
<circle cx="393.43" cy="1183.5" r="2.9" fill="#FF7F01"/>
<circle cx="393.43" cy="1194.41" r="2.9" fill="#FF7F01"/>
<circle cx="413.07" cy="1261.88" r="2.9" fill="#FF7F01"/>
<circle cx="416.93" cy="1270.78" r="2.9" fill="#FF7F01"/>
<circle cx="377.82" cy="1289.24" r="2.9" fill="#FF7F01"/>
<linearGradient id="g3_3" x1="0" x2="1" y1="0" y2="0"><stop offset="0.0063" stop-color="#ff4000"/><stop offset="0.0223" stop-color="#ff4000"/><stop offset="0.0429" stop-color="#ffff00"/><stop offset="0.0795" stop-color="#ffff00"/><stop offset="0.0993" stop-color="#aacb00"/><stop offset="0.1130" stop-color="#aacb00"/><stop offset="0.1354" stop-color="#ff7100"/><stop offset="0.1789" stop-color="#ff7100"/><stop offset="0.2076" stop-color="#aacb00"/><stop offset="0.2373" stop-color="#aacb00"/><stop offset="0.2580" stop-color="#7cb000"/><stop offset="0.2808" stop-color="#7cb000"/><stop offset="0.3060" stop-color="#e3ee00"/><stop offset="0.3471" stop-color="#e3ee00"/><stop offset="0.3696" stop-color="#ffa500"/><stop offset="0.3856" stop-color="#ffa500"/><stop offset="0.3981" stop-color="#ffff00"/><stop offset="0.4141" stop-color="#ffff00"/><stop offset="0.4258" stop-color="#3a8a00"/><stop offset="0.4395" stop-color="#3a8a00"/><stop offset="0.4557" stop-color="#ff7100"/><stop offset="0.4831" stop-color="#ff7100"/><stop offset="0.5064" stop-color="#ffd500"/><stop offset="0.5384" stop-color="#ffd500"/><stop offset="0.5654" stop-color="#ffa500"/><stop offset="0.6020" stop-color="#ffa500"/><stop offset="0.6235" stop-color="#ffff00"/><stop offset="0.6418" stop-color="#ffff00"/><stop offset="0.6651" stop-color="#aacb00"/><stop offset="0.7063" stop-color="#aacb00"/><stop offset="0.7386" stop-color="#7cb000"/><stop offset="0.7798" stop-color="#7cb000"/><stop offset="0.8085" stop-color="#aacb00"/><stop offset="0.8405" stop-color="#aacb00"/><stop offset="0.8710" stop-color="#ffa500"/><stop offset="0.9167" stop-color="#ffa500"/><stop offset="0.9428" stop-color="#7cb000"/><stop offset="0.9633" stop-color="#7cb000"/><stop offset="0.9777" stop-color="#e3ee00"/><stop offset="0.9937" stop-color="#e3ee00"/></linearGradient>
<rect x="349.7" y="1354.4" width="72.8" height="9" fill="url(#g3_3)"/>
<path d="M426.8,1349.8 L426.8,1319.45 L427.51,1319.45 L428.68,1302.67 L431.2,1293.43 L434.56,1291.76 L439.59,1294.27 L442.95,1297.63 L444.63,1289.24 L447.98,1280.01 L453.02,1280.01 L456.37,1284.2 L461.41,1282.52 L464.77,1292.59 L468.12,1297.63 L470.64,1294.27 L471.48,1273.29 L477.35,1273.29 L478.19,1287.56 L479.87,1297.63 L484.07,1300.99 L488.26,1295.11 L491.62,1297.63 L492.46,1319.45 L492.9,1319.45 L492.9,1349.8 Q492.9,1352.8 489.9,1352.8 L429.8,1352.8 Q426.8,1352.8 426.8,1349.8 Z" fill="#3A7EB8"/>
<circle cx="446.3" cy="1276.65" r="2.9" fill="#3A7EB8"/>
<circle cx="447.98" cy="1275.81" r="2.9" fill="#3A7EB8"/>
<circle cx="462.25" cy="1284.54" r="2.9" fill="#3A7EB8"/>
<circle cx="454.7" cy="1282.52" r="2.9" fill="#3A7EB8"/>
<linearGradient id="g3_4" x1="0" x2="1" y1="0" y2="0"><stop offset="0.0217" stop-color="#ffa500"/><stop offset="0.0770" stop-color="#ffa500"/><stop offset="0.1063" stop-color="#ffff00"/><stop offset="0.1255" stop-color="#ffff00"/><stop offset="0.1482" stop-color="#ffd500"/><stop offset="0.1866" stop-color="#ffd500"/><stop offset="0.2225" stop-color="#ff7100"/><stop offset="0.2754" stop-color="#ff7100"/><stop offset="0.3037" stop-color="#ffff00"/><stop offset="0.3229" stop-color="#ffff00"/><stop offset="0.3456" stop-color="#aacb00"/><stop offset="0.3840" stop-color="#aacb00"/><stop offset="0.4161" stop-color="#aacb00"/><stop offset="0.4594" stop-color="#aacb00"/><stop offset="0.4821" stop-color="#ffa500"/><stop offset="0.4965" stop-color="#ffa500"/><stop offset="0.5229" stop-color="#ffff00"/><stop offset="0.5758" stop-color="#ffff00"/><stop offset="0.6136" stop-color="#ffd500"/><stop offset="0.6568" stop-color="#ffd500"/><stop offset="0.6795" stop-color="#e3ee00"/><stop offset="0.6939" stop-color="#e3ee00"/><stop offset="0.7147" stop-color="#aacb00"/><stop offset="0.7531" stop-color="#aacb00"/><stop offset="0.7739" stop-color="#e3ee00"/><stop offset="0.7883" stop-color="#e3ee00"/><stop offset="0.8185" stop-color="#7cb000"/><stop offset="0.8810" stop-color="#7cb000"/><stop offset="0.9188" stop-color="#e3ee00"/><stop offset="0.9524" stop-color="#e3ee00"/><stop offset="0.9732" stop-color="#aacb00"/><stop offset="0.9924" stop-color="#aacb00"/></linearGradient>
<rect x="429.6" y="1354.4" width="61.1" height="9" fill="url(#g3_4)"/>
<path d="M495.8,1349.8 L495.8,1320.76 L495.87,1320.76 L496.61,1313.42 L498.81,1307.55 L501.75,1306.08 L504.68,1300.94 L509.09,1303.14 L513.49,1304.61 L515.7,1309.02 L519.37,1302.41 L521.57,1301.67 L522.31,1274.51 L527.44,1274.51 L528.91,1307.55 L530.38,1284.05 L530.38,1267.17 L534.79,1267.17 L536.99,1273.77 L539.93,1275.24 L544.33,1273.77 L545.07,1284.05 L546.53,1271.57 L551.67,1271.57 L552.41,1298.74 L557.55,1298.74 L561.95,1303.14 L561.95,1310.48 L563.42,1320.76 L563.9,1320.76 L563.9,1349.8 Q563.9,1352.8 560.9,1352.8 L498.8,1352.8 Q495.8,1352.8 495.8,1349.8 Z" fill="#4EAE4B"/>
<circle cx="524.8" cy="1268.63" r="2.9" fill="#4EAE4B"/>
<circle cx="509.82" cy="1296.09" r="2.9" fill="#4EAE4B"/>
<circle cx="558.28" cy="1291.69" r="2.9" fill="#4EAE4B"/>
<circle cx="498.37" cy="1302.85" r="2.9" fill="#4EAE4B"/>
<circle cx="541.4" cy="1279.65" r="2.9" fill="#4EAE4B"/>
<linearGradient id="g3_5" x1="0" x2="1" y1="0" y2="0"><stop offset="0.0144" stop-color="#e3ee00"/><stop offset="0.0511" stop-color="#e3ee00"/><stop offset="0.0782" stop-color="#aacb00"/><stop offset="0.1103" stop-color="#aacb00"/><stop offset="0.1374" stop-color="#ffd500"/><stop offset="0.1741" stop-color="#ffd500"/><stop offset="0.2011" stop-color="#ff7100"/><stop offset="0.2333" stop-color="#ff7100"/><stop offset="0.2603" stop-color="#e3ee00"/><stop offset="0.2970" stop-color="#e3ee00"/><stop offset="0.3259" stop-color="#ffa500"/><stop offset="0.3626" stop-color="#ffa500"/><stop offset="0.3834" stop-color="#ffff00"/><stop offset="0.3994" stop-color="#ffff00"/><stop offset="0.4193" stop-color="#ff7100"/><stop offset="0.4537" stop-color="#ff7100"/><stop offset="0.4744" stop-color="#ffff00"/><stop offset="0.4928" stop-color="#ffff00"/><stop offset="0.5135" stop-color="#ff7100"/><stop offset="0.5480" stop-color="#ff7100"/><stop offset="0.5750" stop-color="#ffd500"/><stop offset="0.6094" stop-color="#ffd500"/><stop offset="0.6356" stop-color="#ffa500"/><stop offset="0.6677" stop-color="#ffa500"/><stop offset="0.6884" stop-color="#ff4000"/><stop offset="0.7091" stop-color="#ff4000"/><stop offset="0.7452" stop-color="#ffff00"/><stop offset="0.8163" stop-color="#ffff00"/><stop offset="0.8569" stop-color="#ffa500"/><stop offset="0.8890" stop-color="#ffa500"/><stop offset="0.9161" stop-color="#e3ee00"/><stop offset="0.9528" stop-color="#e3ee00"/><stop offset="0.9744" stop-color="#aacb00"/><stop offset="0.9928" stop-color="#aacb00"/></linearGradient>
<rect x="497.7" y="1354.4" width="64" height="9" fill="url(#g3_5)"/>
<path d="M566.3,1349.8 L566.3,1320.76 L566.36,1320.76 L567.09,1301.67 L569.3,1298.74 L571.5,1292.13 L575.17,1292.13 L576.64,1298.74 L580.31,1300.21 L581.78,1304.61 L585.45,1304.61 L591.32,1301.67 L594.99,1296.53 L598.66,1300.21 L601.6,1304.61 L603.8,1286.26 L607.47,1286.26 L608.94,1298.74 L610.41,1284.79 L615.55,1284.79 L616.28,1306.08 L619.22,1300.94 L622.89,1301.67 L627.3,1304.61 L628.77,1309.02 L630.68,1317.83 L631.9,1317.83 L631.9,1349.8 Q631.9,1352.8 628.9,1352.8 L569.3,1352.8 Q566.3,1352.8 566.3,1349.8 Z" fill="#974FA2"/>
<circle cx="606.45" cy="1267.61" r="2.9" fill="#974FA2"/>
<circle cx="622.6" cy="1277" r="2.9" fill="#974FA2"/>
<circle cx="588.68" cy="1295.8" r="2.9" fill="#974FA2"/>
<linearGradient id="g3_6" x1="0" x2="1" y1="0" y2="0"><stop offset="0.0142" stop-color="#ffd500"/><stop offset="0.0502" stop-color="#ffd500"/><stop offset="0.0748" stop-color="#aacb00"/><stop offset="0.1012" stop-color="#aacb00"/><stop offset="0.1248" stop-color="#7cb000"/><stop offset="0.1585" stop-color="#7cb000"/><stop offset="0.1849" stop-color="#aacb00"/><stop offset="0.2185" stop-color="#aacb00"/><stop offset="0.2374" stop-color="#ffa500"/><stop offset="0.2518" stop-color="#ffa500"/><stop offset="0.2660" stop-color="#ff7100"/><stop offset="0.2876" stop-color="#ff7100"/><stop offset="0.3122" stop-color="#ffff00"/><stop offset="0.3530" stop-color="#ffff00"/><stop offset="0.3767" stop-color="#ff7100"/><stop offset="0.3959" stop-color="#ff7100"/><stop offset="0.4082" stop-color="#ffff00"/><stop offset="0.4202" stop-color="#ffff00"/><stop offset="0.4353" stop-color="#ff4000"/><stop offset="0.4617" stop-color="#ff4000"/><stop offset="0.4778" stop-color="#aacb00"/><stop offset="0.4922" stop-color="#aacb00"/><stop offset="0.5130" stop-color="#ffa500"/><stop offset="0.5514" stop-color="#ffa500"/><stop offset="0.5797" stop-color="#e3ee00"/><stop offset="0.6134" stop-color="#e3ee00"/><stop offset="0.6408" stop-color="#ffa500"/><stop offset="0.6768" stop-color="#ffa500"/><stop offset="0.6995" stop-color="#ff1000"/><stop offset="0.7211" stop-color="#ff1000"/><stop offset="0.7372" stop-color="#ffa500"/><stop offset="0.7564" stop-color="#ffa500"/><stop offset="0.7791" stop-color="#ffff00"/><stop offset="0.8175" stop-color="#ffff00"/><stop offset="0.8392" stop-color="#aacb00"/><stop offset="0.8561" stop-color="#aacb00"/><stop offset="0.8674" stop-color="#ffd500"/><stop offset="0.8794" stop-color="#ffd500"/><stop offset="0.9096" stop-color="#e3ee00"/><stop offset="0.9745" stop-color="#e3ee00"/></linearGradient>
<rect x="568.8" y="1354.4" width="61.1" height="9" fill="url(#g3_6)"/>
<path d="M634.3,1349.8 L634.3,1320.76 L634.3,1320.76 L635.37,1306.08 L636.84,1292.86 L639.78,1286.26 L644.19,1288.46 L648.59,1292.86 L650.06,1300.21 L653,1298.74 L656.67,1296.53 L661.81,1298.74 L666.21,1296.53 L672.09,1295.8 L675.76,1303.14 L680.9,1301.67 L685.3,1301.67 L686.77,1292.86 L689.71,1278.91 L694.85,1277.44 L695.29,1306.08 L696.31,1316.36 L696.9,1316.36 L696.9,1349.8 Q696.9,1352.8 693.9,1352.8 L637.3,1352.8 Q634.3,1352.8 634.3,1349.8 Z" fill="#FF7F01"/>
<circle cx="654.76" cy="1265.4" r="2.9" fill="#FF7F01"/>
<circle cx="642.72" cy="1281.41" r="2.9" fill="#FF7F01"/>
<circle cx="692.64" cy="1270.54" r="2.9" fill="#FF7F01"/>
<linearGradient id="g3_7" x1="0" x2="1" y1="0" y2="0"><stop offset="0.0074" stop-color="#ffa500"/><stop offset="0.0263" stop-color="#ffa500"/><stop offset="0.0412" stop-color="#e3ee00"/><stop offset="0.0601" stop-color="#e3ee00"/><stop offset="0.0907" stop-color="#ffd500"/><stop offset="0.1498" stop-color="#ffd500"/><stop offset="0.1795" stop-color="#ff7100"/><stop offset="0.1960" stop-color="#ff7100"/><stop offset="0.2183" stop-color="#e3ee00"/><stop offset="0.2585" stop-color="#e3ee00"/><stop offset="0.2965" stop-color="#ff1000"/><stop offset="0.3532" stop-color="#ff1000"/><stop offset="0.3830" stop-color="#ffa500"/><stop offset="0.4019" stop-color="#ffa500"/><stop offset="0.4176" stop-color="#ffff00"/><stop offset="0.4389" stop-color="#ffff00"/><stop offset="0.4630" stop-color="#aacb00"/><stop offset="0.5032" stop-color="#aacb00"/><stop offset="0.5255" stop-color="#ffd500"/><stop offset="0.5420" stop-color="#ffd500"/><stop offset="0.5569" stop-color="#ffff00"/><stop offset="0.5781" stop-color="#ffff00"/><stop offset="0.6014" stop-color="#ff4000"/><stop offset="0.6392" stop-color="#ff4000"/><stop offset="0.6605" stop-color="#ff7100"/><stop offset="0.6770" stop-color="#ff7100"/><stop offset="0.6919" stop-color="#ff4000"/><stop offset="0.7132" stop-color="#ff4000"/><stop offset="0.7299" stop-color="#ffa500"/><stop offset="0.7511" stop-color="#ffa500"/><stop offset="0.7660" stop-color="#aacb00"/><stop offset="0.7825" stop-color="#aacb00"/><stop offset="0.7965" stop-color="#7cb000"/><stop offset="0.8154" stop-color="#7cb000"/><stop offset="0.8302" stop-color="#aacb00"/><stop offset="0.8491" stop-color="#aacb00"/><stop offset="0.8723" stop-color="#ffff00"/><stop offset="0.9125" stop-color="#ffff00"/><stop offset="0.9357" stop-color="#ff7100"/><stop offset="0.9546" stop-color="#ff7100"/><stop offset="0.9704" stop-color="#e3ee00"/><stop offset="0.9916" stop-color="#e3ee00"/></linearGradient>
<rect x="636.8" y="1354.4" width="58" height="9" fill="url(#g3_7)"/>
<path d="M699.8,1349.8 L699.8,1328.6 L700.14,1328.6 L700.49,1312.87 L702.24,1309.37 L701.36,1302.38 L703.11,1293.64 L707.48,1291.89 L709.23,1298.88 L712.73,1297.13 L713.6,1286.64 L719.72,1277.03 L724.09,1274.41 L728.46,1274.41 L729.34,1295.38 L733.71,1298.88 L737.2,1302.38 L738.95,1294.51 L742.45,1294.51 L743.32,1305.87 L745.94,1302.38 L749.44,1305.87 L750.31,1316.36 L750.9,1328.6 L750.9,1328.6 L750.9,1349.8 Q750.9,1352.8 747.9,1352.8 L702.8,1352.8 Q699.8,1352.8 699.8,1349.8 Z" fill="#3A7EB8"/>
<circle cx="715.87" cy="1281.05" r="2.9" fill="#3A7EB8"/>
<circle cx="704.86" cy="1291.89" r="2.9" fill="#3A7EB8"/>
<linearGradient id="g3_8" x1="0" x2="1" y1="0" y2="0"><stop offset="0.0178" stop-color="#ffff00"/><stop offset="0.0630" stop-color="#ffff00"/><stop offset="0.0926" stop-color="#aacb00"/><stop offset="0.1227" stop-color="#aacb00"/><stop offset="0.1523" stop-color="#e3ee00"/><stop offset="0.1975" stop-color="#e3ee00"/><stop offset="0.2251" stop-color="#ff7100"/><stop offset="0.2502" stop-color="#ff7100"/><stop offset="0.2700" stop-color="#ff1000"/><stop offset="0.2951" stop-color="#ff1000"/><stop offset="0.3148" stop-color="#ff7100"/><stop offset="0.3399" stop-color="#ff7100"/><stop offset="0.3587" stop-color="#aacb00"/><stop offset="0.3813" stop-color="#aacb00"/><stop offset="0.4000" stop-color="#ff7100"/><stop offset="0.4251" stop-color="#ff7100"/><stop offset="0.4429" stop-color="#ffff00"/><stop offset="0.4630" stop-color="#ffff00"/><stop offset="0.4916" stop-color="#ffa500"/><stop offset="0.5443" stop-color="#ffa500"/><stop offset="0.5729" stop-color="#e3ee00"/><stop offset="0.5930" stop-color="#e3ee00"/><stop offset="0.6108" stop-color="#ffff00"/><stop offset="0.6359" stop-color="#ffff00"/><stop offset="0.6556" stop-color="#ffd500"/><stop offset="0.6807" stop-color="#ffd500"/><stop offset="0.7083" stop-color="#e3ee00"/><stop offset="0.7535" stop-color="#e3ee00"/><stop offset="0.7831" stop-color="#aacb00"/><stop offset="0.8133" stop-color="#aacb00"/><stop offset="0.8636" stop-color="#e3ee00"/><stop offset="0.9615" stop-color="#e3ee00"/></linearGradient>
<rect x="702.2" y="1354.4" width="46.8" height="9" fill="url(#g3_8)"/>
<path d="M753.8,1349.8 L753.8,1319.86 L754.34,1319.86 L754.69,1271.78 L759.06,1271.78 L759.93,1281.4 L762.55,1288.39 L763.43,1300.63 L768.67,1300.63 L773.92,1294.51 L779.16,1295.38 L784.41,1300.63 L787.9,1305.87 L790.52,1300.63 L791.4,1291.89 L794.02,1285.77 L796.64,1275.28 L799.27,1281.4 L803.64,1285.77 L805.03,1302.38 L805.38,1319.86 L805.9,1319.86 L805.9,1349.8 Q805.9,1352.8 802.9,1352.8 L756.8,1352.8 Q753.8,1352.8 753.8,1349.8 Z" fill="#4EAE4B"/>
<circle cx="773.57" cy="1281.05" r="2.9" fill="#4EAE4B"/>
<circle cx="780.03" cy="1278.78" r="2.9" fill="#4EAE4B"/>
<circle cx="784.41" cy="1300.63" r="2.9" fill="#4EAE4B"/>
<circle cx="761.68" cy="1281.4" r="2.9" fill="#4EAE4B"/>
<linearGradient id="g3_9" x1="0" x2="1" y1="0" y2="0"><stop offset="0.0088" stop-color="#ffa500"/><stop offset="0.0312" stop-color="#ffa500"/><stop offset="0.0498" stop-color="#ff7100"/><stop offset="0.0747" stop-color="#ff7100"/><stop offset="0.0942" stop-color="#ff4000"/><stop offset="0.1191" stop-color="#ff4000"/><stop offset="0.1524" stop-color="#ffa500"/><stop offset="0.2121" stop-color="#ffa500"/><stop offset="0.2639" stop-color="#ffff00"/><stop offset="0.3361" stop-color="#ffff00"/><stop offset="0.3830" stop-color="#ffa500"/><stop offset="0.4303" stop-color="#ffa500"/><stop offset="0.4684" stop-color="#ffd500"/><stop offset="0.5182" stop-color="#ffd500"/><stop offset="0.5632" stop-color="#e3ee00"/><stop offset="0.6279" stop-color="#e3ee00"/><stop offset="0.6729" stop-color="#ffa500"/><stop offset="0.7227" stop-color="#ffa500"/><stop offset="0.7696" stop-color="#ffff00"/><stop offset="0.8393" stop-color="#ffff00"/><stop offset="0.8764" stop-color="#e3ee00"/><stop offset="0.9013" stop-color="#e3ee00"/><stop offset="0.9228" stop-color="#7cb000"/><stop offset="0.9527" stop-color="#7cb000"/><stop offset="0.9723" stop-color="#aacb00"/><stop offset="0.9922" stop-color="#aacb00"/></linearGradient>
<rect x="756.4" y="1354.4" width="47.2" height="9" fill="url(#g3_9)"/>
<path d="M808.8,1349.8 L808.8,1328.6 L808.88,1328.6 L810.63,1307.62 L813.25,1305.87 L814.13,1289.27 L819.37,1287.52 L822.87,1287.52 L829.86,1289.27 L835.1,1291.01 L840.35,1291.89 L842.1,1279.65 L842.97,1197.48 L847.34,1197.48 L848.22,1281.4 L849.97,1291.89 L850.84,1256.92 L855.21,1256.92 L856.08,1302.38 L861.33,1298.88 L866.57,1294.51 L870.94,1294.51 L871.82,1305.87 L871.9,1328.6 L871.9,1328.6 L871.9,1349.8 Q871.9,1352.8 868.9,1352.8 L811.8,1352.8 Q808.8,1352.8 808.8,1349.8 Z" fill="#974FA2"/>
<circle cx="844.72" cy="1197.48" r="2.9" fill="#974FA2"/>
<circle cx="818.5" cy="1283.5" r="2.9" fill="#974FA2"/>
<circle cx="838.95" cy="1265.14" r="2.9" fill="#974FA2"/>
<circle cx="842.1" cy="1278.78" r="2.9" fill="#974FA2"/>
<linearGradient id="g3_10" x1="0" x2="1" y1="0" y2="0"><stop offset="0.0136" stop-color="#aacb00"/><stop offset="0.0481" stop-color="#aacb00"/><stop offset="0.0780" stop-color="#ffff00"/><stop offset="0.1195" stop-color="#ffff00"/><stop offset="0.1575" stop-color="#ffa500"/><stop offset="0.2128" stop-color="#ffa500"/><stop offset="0.2491" stop-color="#ffd500"/><stop offset="0.2859" stop-color="#ffd500"/><stop offset="0.3077" stop-color="#ff7100"/><stop offset="0.3261" stop-color="#ff7100"/><stop offset="0.3478" stop-color="#ffa500"/><stop offset="0.3847" stop-color="#ffa500"/><stop offset="0.4046" stop-color="#3a8a00"/><stop offset="0.4184" stop-color="#3a8a00"/><stop offset="0.4420" stop-color="#e3ee00"/><stop offset="0.4881" stop-color="#e3ee00"/><stop offset="0.5125" stop-color="#ffa500"/><stop offset="0.5286" stop-color="#ffa500"/><stop offset="0.5422" stop-color="#ff4000"/><stop offset="0.5607" stop-color="#ff4000"/><stop offset="0.5742" stop-color="#ff7100"/><stop offset="0.5904" stop-color="#ff7100"/><stop offset="0.6121" stop-color="#ff4000"/><stop offset="0.6513" stop-color="#ff4000"/><stop offset="0.6739" stop-color="#ffd500"/><stop offset="0.6923" stop-color="#ffd500"/><stop offset="0.7150" stop-color="#ff4000"/><stop offset="0.7542" stop-color="#ff4000"/><stop offset="0.7759" stop-color="#ff1000"/><stop offset="0.7920" stop-color="#ff1000"/><stop offset="0.8038" stop-color="#ffd500"/><stop offset="0.8176" stop-color="#ffd500"/><stop offset="0.8312" stop-color="#ff4000"/><stop offset="0.8519" stop-color="#ff4000"/><stop offset="0.8818" stop-color="#e3ee00"/><stop offset="0.9371" stop-color="#e3ee00"/><stop offset="0.9679" stop-color="#aacb00"/><stop offset="0.9909" stop-color="#aacb00"/></linearGradient>
<rect x="810.8" y="1354.4" width="59.4" height="9" fill="url(#g3_10)"/>
<path d="M874.8,1349.8 L874.8,1328.6 L874.97,1328.6 L875.31,1293.64 L877.94,1284.02 L882.31,1282.27 L886.68,1284.9 L888.43,1302.38 L891.05,1302.38 L894.55,1300.63 L899.79,1302.38 L906.78,1305.87 L910.28,1302.38 L914.65,1293.64 L915.52,1252.55 L921.64,1252.55 L922.52,1291.89 L926.01,1298.88 L931.26,1302.38 L933.88,1305.87 L934.76,1328.6 L935.9,1328.6 L935.9,1349.8 Q935.9,1352.8 932.9,1352.8 L877.8,1352.8 Q874.8,1352.8 874.8,1349.8 Z" fill="#FF7F01"/>
<circle cx="880.21" cy="1243.81" r="2.9" fill="#FF7F01"/>
<circle cx="918.15" cy="1236.82" r="2.9" fill="#FF7F01"/>
<circle cx="884.41" cy="1270.38" r="2.9" fill="#FF7F01"/>
<circle cx="877.94" cy="1283.67" r="2.9" fill="#FF7F01"/>
<circle cx="893.15" cy="1288.92" r="2.9" fill="#FF7F01"/>
<circle cx="900.66" cy="1290.14" r="2.9" fill="#FF7F01"/>
<circle cx="905.38" cy="1291.01" r="2.9" fill="#FF7F01"/>
<circle cx="912.38" cy="1286.99" r="2.9" fill="#FF7F01"/>
<circle cx="926.36" cy="1293.64" r="2.9" fill="#FF7F01"/>
<circle cx="927.76" cy="1300.63" r="2.9" fill="#FF7F01"/>
<circle cx="933.01" cy="1304.13" r="2.9" fill="#FF7F01"/>
<circle cx="890.7" cy="1299.76" r="2.9" fill="#FF7F01"/>
<circle cx="902.41" cy="1297.13" r="2.9" fill="#FF7F01"/>
<linearGradient id="g3_11" x1="0" x2="1" y1="0" y2="0"><stop offset="0.0086" stop-color="#e3ee00"/><stop offset="0.0305" stop-color="#e3ee00"/><stop offset="0.0487" stop-color="#aacb00"/><stop offset="0.0730" stop-color="#aacb00"/><stop offset="0.0903" stop-color="#e3ee00"/><stop offset="0.1097" stop-color="#e3ee00"/><stop offset="0.1289" stop-color="#ffd500"/><stop offset="0.1581" stop-color="#ffd500"/><stop offset="0.1801" stop-color="#ffff00"/><stop offset="0.2069" stop-color="#ffff00"/><stop offset="0.2260" stop-color="#7cb000"/><stop offset="0.2479" stop-color="#7cb000"/><stop offset="0.2642" stop-color="#ff7100"/><stop offset="0.2837" stop-color="#ff7100"/><stop offset="0.2970" stop-color="#aacb00"/><stop offset="0.3117" stop-color="#aacb00"/><stop offset="0.3346" stop-color="#ffa500"/><stop offset="0.3784" stop-color="#ffa500"/><stop offset="0.4196" stop-color="#e3ee00"/><stop offset="0.4804" stop-color="#e3ee00"/><stop offset="0.5120" stop-color="#ff7100"/><stop offset="0.5315" stop-color="#ff7100"/><stop offset="0.5554" stop-color="#ffa500"/><stop offset="0.5968" stop-color="#ffa500"/><stop offset="0.6245" stop-color="#ffa500"/><stop offset="0.6537" stop-color="#ffa500"/><stop offset="0.6757" stop-color="#ff7100"/><stop offset="0.7025" stop-color="#ff7100"/><stop offset="0.7217" stop-color="#aacb00"/><stop offset="0.7436" stop-color="#aacb00"/><stop offset="0.7598" stop-color="#ffff00"/><stop offset="0.7793" stop-color="#ffff00"/><stop offset="0.8013" stop-color="#ff4000"/><stop offset="0.8378" stop-color="#ff4000"/><stop offset="0.8608" stop-color="#e3ee00"/><stop offset="0.8827" stop-color="#e3ee00"/><stop offset="0.8990" stop-color="#aacb00"/><stop offset="0.9184" stop-color="#aacb00"/><stop offset="0.9357" stop-color="#ffff00"/><stop offset="0.9600" stop-color="#ffff00"/><stop offset="0.9763" stop-color="#aacb00"/><stop offset="0.9933" stop-color="#aacb00"/></linearGradient>
<rect x="877.3" y="1354.4" width="56.2" height="9" fill="url(#g3_11)"/>
<path d="M84.3,1369.3 H905.6" stroke="#111" stroke-width="1.7" fill="none"/>
<path d="M84.3,1369.3 V1379.3" stroke="#111" stroke-width="1.7"/>
<text x="84.3" y="1401.5" text-anchor="middle" font-size="20" font-family="'Liberation Sans', sans-serif" fill="#111">Chr</text>
<path d="M136.2,1369.3 V1379.3" stroke="#111" stroke-width="1.7"/>
<text x="136.2" y="1401.5" text-anchor="middle" font-size="20" font-family="'Liberation Sans', sans-serif" fill="#111">1</text>
<path d="M223.75,1369.3 V1379.3" stroke="#111" stroke-width="1.7"/>
<text x="223.75" y="1401.5" text-anchor="middle" font-size="20" font-family="'Liberation Sans', sans-serif" fill="#111">2</text>
<path d="M305,1369.3 V1379.3" stroke="#111" stroke-width="1.7"/>
<text x="305" y="1401.5" text-anchor="middle" font-size="20" font-family="'Liberation Sans', sans-serif" fill="#111">3</text>
<path d="M385.5,1369.3 V1379.3" stroke="#111" stroke-width="1.7"/>
<text x="385.5" y="1401.5" text-anchor="middle" font-size="20" font-family="'Liberation Sans', sans-serif" fill="#111">4</text>
<path d="M459.5,1369.3 V1379.3" stroke="#111" stroke-width="1.7"/>
<text x="459.5" y="1401.5" text-anchor="middle" font-size="20" font-family="'Liberation Sans', sans-serif" fill="#111">5</text>
<path d="M529.5,1369.3 V1379.3" stroke="#111" stroke-width="1.7"/>
<text x="529.5" y="1401.5" text-anchor="middle" font-size="20" font-family="'Liberation Sans', sans-serif" fill="#111">6</text>
<path d="M598.75,1369.3 V1379.3" stroke="#111" stroke-width="1.7"/>
<text x="598.75" y="1401.5" text-anchor="middle" font-size="20" font-family="'Liberation Sans', sans-serif" fill="#111">7</text>
<path d="M665.25,1369.3 V1379.3" stroke="#111" stroke-width="1.7"/>
<text x="665.25" y="1401.5" text-anchor="middle" font-size="20" font-family="'Liberation Sans', sans-serif" fill="#111">8</text>
<path d="M725,1369.3 V1379.3" stroke="#111" stroke-width="1.7"/>
<text x="725" y="1401.5" text-anchor="middle" font-size="20" font-family="'Liberation Sans', sans-serif" fill="#111">9</text>
<path d="M779.5,1369.3 V1379.3" stroke="#111" stroke-width="1.7"/>
<text x="779.5" y="1401.5" text-anchor="middle" font-size="20" font-family="'Liberation Sans', sans-serif" fill="#111">10</text>
<path d="M840,1369.3 V1379.3" stroke="#111" stroke-width="1.7"/>
<text x="840" y="1401.5" text-anchor="middle" font-size="20" font-family="'Liberation Sans', sans-serif" fill="#111">11</text>
<path d="M905,1369.3 V1379.3" stroke="#111" stroke-width="1.7"/>
<text x="905" y="1401.5" text-anchor="middle" font-size="20" font-family="'Liberation Sans', sans-serif" fill="#111">12</text>
<text x="505" y="1427" text-anchor="middle" font-size="20" font-family="'Liberation Sans', sans-serif" fill="#111">Chromosome</text>
<path d="M78.25,1206.1 H930.4" stroke="#1a1a1a" stroke-width="1.7" stroke-dasharray="8.65,8.65" fill="none"/>
<rect x="935" y="1186" width="13" height="11.57" fill="#bebebe"/>
<text x="950" y="1195.3" font-size="9" font-family="'Liberation Sans', sans-serif" fill="#222">0</text>
<rect x="935" y="1197.37" width="13" height="11.57" fill="#398600"/>
<text x="950" y="1206.67" font-size="9" font-family="'Liberation Sans', sans-serif" fill="#222">2413</text>
<rect x="935" y="1208.74" width="13" height="11.57" fill="#71a900"/>
<text x="950" y="1218.04" font-size="9" font-family="'Liberation Sans', sans-serif" fill="#222">4826</text>
<rect x="935" y="1220.11" width="13" height="11.57" fill="#aacb00"/>
<text x="950" y="1229.41" font-size="9" font-family="'Liberation Sans', sans-serif" fill="#222">7239</text>
<rect x="935" y="1231.48" width="13" height="11.57" fill="#e3ee00"/>
<text x="950" y="1240.78" font-size="9" font-family="'Liberation Sans', sans-serif" fill="#222">9652</text>
<rect x="935" y="1242.85" width="13" height="11.57" fill="#ffe300"/>
<text x="950" y="1252.15" font-size="9" font-family="'Liberation Sans', sans-serif" fill="#222">12065</text>
<rect x="935" y="1254.22" width="13" height="11.57" fill="#ffaa00"/>
<text x="950" y="1263.52" font-size="9" font-family="'Liberation Sans', sans-serif" fill="#222">14478</text>
<rect x="935" y="1265.59" width="13" height="11.57" fill="#ff7100"/>
<text x="950" y="1274.89" font-size="9" font-family="'Liberation Sans', sans-serif" fill="#222">16891</text>
<rect x="935" y="1276.96" width="13" height="11.57" fill="#ff3900"/>
<text x="950" y="1286.26" font-size="9" font-family="'Liberation Sans', sans-serif" fill="#222">19304</text>
<rect x="935" y="1288.33" width="13" height="11.57" fill="#ff0000"/>
<text x="950" y="1297.63" font-size="9" font-family="'Liberation Sans', sans-serif" fill="#222">21717</text>
<rect x="935" y="1299.7" width="13" height="11.57" fill="#ff0000"/>
<text x="950" y="1309" font-size="9" font-family="'Liberation Sans', sans-serif" fill="#222">&gt;21717</text>
<path d="M1114.9,267.6 V34.32" stroke="#111" stroke-width="1.7" fill="none"/>
<path d="M1106.9,267.6 H1114.9" stroke="#111" stroke-width="1.7"/>
<text x="1099.7" y="272.6" text-anchor="end" font-size="20" font-family="'Liberation Sans', sans-serif" fill="#111">0</text>
<path d="M1106.9,228.72 H1114.9" stroke="#111" stroke-width="1.7"/>
<text x="1099.7" y="233.72" text-anchor="end" font-size="20" font-family="'Liberation Sans', sans-serif" fill="#111">2</text>
<path d="M1106.9,189.84 H1114.9" stroke="#111" stroke-width="1.7"/>
<text x="1099.7" y="194.84" text-anchor="end" font-size="20" font-family="'Liberation Sans', sans-serif" fill="#111">4</text>
<path d="M1106.9,150.96 H1114.9" stroke="#111" stroke-width="1.7"/>
<text x="1099.7" y="155.96" text-anchor="end" font-size="20" font-family="'Liberation Sans', sans-serif" fill="#111">6</text>
<path d="M1106.9,112.08 H1114.9" stroke="#111" stroke-width="1.7"/>
<text x="1099.7" y="117.08" text-anchor="end" font-size="20" font-family="'Liberation Sans', sans-serif" fill="#111">8</text>
<path d="M1106.9,73.2 H1114.9" stroke="#111" stroke-width="1.7"/>
<text x="1099.7" y="78.2" text-anchor="end" font-size="20" font-family="'Liberation Sans', sans-serif" fill="#111">10</text>
<path d="M1106.9,34.32 H1114.9" stroke="#111" stroke-width="1.7"/>
<text x="1099.7" y="39.32" text-anchor="end" font-size="20" font-family="'Liberation Sans', sans-serif" fill="#111">12</text>
<path d="M1126.4,279 H1410.6" stroke="#111" stroke-width="1.7" fill="none"/>
<path d="M1126.4,279 V287" stroke="#111" stroke-width="1.7"/>
<text x="1126.4" y="308" text-anchor="middle" font-size="20" font-family="'Liberation Sans', sans-serif" fill="#111">0</text>
<path d="M1167,279 V287" stroke="#111" stroke-width="1.7"/>
<text x="1167" y="308" text-anchor="middle" font-size="20" font-family="'Liberation Sans', sans-serif" fill="#111">1</text>
<path d="M1207.6,279 V287" stroke="#111" stroke-width="1.7"/>
<text x="1207.6" y="308" text-anchor="middle" font-size="20" font-family="'Liberation Sans', sans-serif" fill="#111">2</text>
<path d="M1248.2,279 V287" stroke="#111" stroke-width="1.7"/>
<text x="1248.2" y="308" text-anchor="middle" font-size="20" font-family="'Liberation Sans', sans-serif" fill="#111">3</text>
<path d="M1288.8,279 V287" stroke="#111" stroke-width="1.7"/>
<text x="1288.8" y="308" text-anchor="middle" font-size="20" font-family="'Liberation Sans', sans-serif" fill="#111">4</text>
<path d="M1329.4,279 V287" stroke="#111" stroke-width="1.7"/>
<text x="1329.4" y="308" text-anchor="middle" font-size="20" font-family="'Liberation Sans', sans-serif" fill="#111">5</text>
<path d="M1370,279 V287" stroke="#111" stroke-width="1.7"/>
<text x="1370" y="308" text-anchor="middle" font-size="20" font-family="'Liberation Sans', sans-serif" fill="#111">6</text>
<path d="M1410.6,279 V287" stroke="#111" stroke-width="1.7"/>
<text x="1410.6" y="308" text-anchor="middle" font-size="20" font-family="'Liberation Sans', sans-serif" fill="#111">7</text>
<text x="1266.2" y="329.5" text-anchor="middle" font-size="20" font-family="'Liberation Sans', sans-serif" fill="#111">Expected -log<tspan font-size="12" dy="6.5">10</tspan><tspan dy="-6.5">(</tspan><tspan font-style="italic">p</tspan>)</text>
<text transform="translate(1066.5,154.5) rotate(-90)" text-anchor="middle" font-size="20" font-family="'Liberation Sans', sans-serif" fill="#111">Observed -log<tspan font-size="12" dy="6.5">10</tspan><tspan dy="-6.5">(</tspan><tspan font-style="italic">p</tspan>)</text>
<path d="M1126.4,267.6 L1128.66,266.51 L1130.92,265.43 L1133.19,264.35 L1135.45,263.26 L1137.71,262.18 L1139.97,261.09 L1142.23,260.01 L1144.5,258.93 L1146.76,257.84 L1149.02,256.76 L1151.28,255.67 L1153.54,254.59 L1155.81,253.51 L1158.07,252.42 L1160.33,251.34 L1162.59,250.25 L1164.85,249.17 L1167.12,248.08 L1169.38,247 L1171.64,245.91 L1173.9,244.83 L1176.16,243.74 L1178.43,242.66 L1180.69,241.57 L1182.95,240.49 L1185.21,239.4 L1187.47,238.32 L1189.74,237.23 L1192,236.15 L1194.26,235.06 L1196.52,233.97 L1198.78,232.89 L1201.05,231.8 L1203.31,230.71 L1205.57,229.63 L1207.83,228.54 L1210.09,227.45 L1212.36,226.36 L1214.62,225.28 L1216.88,224.19 L1219.14,223.1 L1221.4,222.01 L1223.67,220.92 L1225.93,219.83 L1228.19,218.74 L1230.45,217.65 L1232.71,216.55 L1234.98,215.46 L1237.24,214.37 L1239.5,213.27 L1241.76,212.18 L1244.02,211.08 L1246.29,209.99 L1248.55,208.89 L1250.81,207.79 L1253.07,206.69 L1255.33,205.59 L1257.6,204.49 L1259.86,203.39 L1262.12,202.29 L1264.38,201.18 L1266.64,200.07 L1268.91,198.97 L1271.17,197.86 L1273.43,196.74 L1275.69,195.63 L1277.95,194.51 L1280.22,193.4 L1282.48,192.28 L1284.74,191.15 L1287,190.03 L1289.26,188.9 L1291.53,187.77 L1293.79,186.63 L1296.05,185.49 L1298.31,184.35 L1300.57,183.2 L1302.84,182.05 L1305.1,180.89 L1307.36,179.73 L1309.62,178.56 L1311.88,177.39 L1314.15,176.21 L1316.41,175.02 L1318.67,173.83 L1320.93,172.63 L1323.19,171.41 L1325.46,170.19 L1327.72,168.96 L1329.98,167.72 L1332.24,166.46 L1334.5,165.19 L1336.77,163.91 L1339.03,162.6 L1341.29,161.29 L1343.55,159.95 L1345.81,158.59 L1348.08,157.21 L1350.34,155.8 L1352.6,154.37 L1354.86,152.9 L1357.12,151.4 L1359.39,149.86 L1361.65,148.28 L1363.91,146.65 L1366.17,144.97 L1368.43,143.22 L1370.7,141.41 L1372.96,139.52 L1375.22,137.54 L1377.48,135.46 L1379.74,133.27 L1382.01,130.94 L1384.27,128.46 L1386.53,125.8 L1388.79,122.93 L1391.05,119.82 L1393.32,116.44 L1395.58,112.72 L1395.58,147.98 L1393.32,148.68 L1391.05,149.39 L1388.79,150.1 L1386.53,150.83 L1384.27,151.56 L1382.01,152.3 L1379.74,153.05 L1377.48,153.81 L1375.22,154.58 L1372.96,155.37 L1370.7,156.16 L1368.43,156.96 L1366.17,157.78 L1363.91,158.6 L1361.65,159.44 L1359.39,160.29 L1357.12,161.14 L1354.86,162.01 L1352.6,162.89 L1350.34,163.77 L1348.08,164.67 L1345.81,165.57 L1343.55,166.49 L1341.29,167.41 L1339.03,168.34 L1336.77,169.28 L1334.5,170.22 L1332.24,171.17 L1329.98,172.13 L1327.72,173.1 L1325.46,174.07 L1323.19,175.05 L1320.93,176.04 L1318.67,177.03 L1316.41,178.02 L1314.15,179.02 L1311.88,180.03 L1309.62,181.03 L1307.36,182.05 L1305.1,183.07 L1302.84,184.09 L1300.57,185.11 L1298.31,186.14 L1296.05,187.17 L1293.79,188.21 L1291.53,189.24 L1289.26,190.28 L1287,191.33 L1284.74,192.37 L1282.48,193.42 L1280.22,194.47 L1277.95,195.52 L1275.69,196.57 L1273.43,197.63 L1271.17,198.68 L1268.91,199.74 L1266.64,200.8 L1264.38,201.86 L1262.12,202.93 L1259.86,203.99 L1257.6,205.06 L1255.33,206.12 L1253.07,207.19 L1250.81,208.26 L1248.55,209.33 L1246.29,210.4 L1244.02,211.47 L1241.76,212.54 L1239.5,213.61 L1237.24,214.68 L1234.98,215.76 L1232.71,216.83 L1230.45,217.91 L1228.19,218.98 L1225.93,220.06 L1223.67,221.13 L1221.4,222.21 L1219.14,223.29 L1216.88,224.36 L1214.62,225.44 L1212.36,226.52 L1210.09,227.6 L1207.83,228.68 L1205.57,229.75 L1203.31,230.83 L1201.05,231.91 L1198.78,232.99 L1196.52,234.07 L1194.26,235.15 L1192,236.23 L1189.74,237.31 L1187.47,238.39 L1185.21,239.47 L1182.95,240.56 L1180.69,241.64 L1178.43,242.72 L1176.16,243.8 L1173.9,244.88 L1171.64,245.96 L1169.38,247.04 L1167.12,248.12 L1164.85,249.21 L1162.59,250.29 L1160.33,251.37 L1158.07,252.45 L1155.81,253.53 L1153.54,254.62 L1151.28,255.7 L1149.02,256.78 L1146.76,257.86 L1144.5,258.94 L1142.23,260.03 L1139.97,261.11 L1137.71,262.19 L1135.45,263.27 L1133.19,264.36 L1130.92,265.44 L1128.66,266.52 L1126.4,267.6 Z" fill="#000"/>
<path d="M1117.8,273.7 L1420,126.5" stroke="#F00" stroke-width="1.6"/>
<path d="M1126.6,268.3 L1149.9,256.3 L1176.4,244.3 L1203,231.7 L1229.6,217.8 L1249.5,206.5 L1256.4,201.5 L1262.8,196.5 L1273.4,187.2 L1280.1,176.6 L1285.4,163.3 L1289.4,150 L1292.7,131.5 L1294.7,120.9 L1298,113 L1302,102.4 L1304.6,91.9 L1307.9,82.6 L1310.6,80.7 L1314.5,78.7 L1316.5,74.7 L1321.1,70.8 L1322.4,62.8 L1324.4,56.2 L1326.4,50.9 L1331.7,48.3 L1337,48.3 L1340.9,45.7 L1343.6,40.4 L1347.5,38.4 L1351.5,38.4 L1356.8,35.8 L1363.4,34.4 L1367.3,32.5 L1371.3,29.8 L1375.3,30.5" stroke="#3A7EB8" stroke-width="7" fill="none" stroke-linecap="round" stroke-linejoin="round"/>
<circle cx="1382.5" cy="29.8" r="3.2" fill="#3A7EB8"/>
<circle cx="1395.1" cy="19" r="3.2" fill="#3A7EB8"/>
<path d="M1106.4,644.3 V410.78" stroke="#111" stroke-width="1.7" fill="none"/>
<path d="M1098.4,644.3 H1106.4" stroke="#111" stroke-width="1.7"/>
<text x="1091.2" y="649.3" text-anchor="end" font-size="20" font-family="'Liberation Sans', sans-serif" fill="#111">0</text>
<path d="M1098.4,605.38 H1106.4" stroke="#111" stroke-width="1.7"/>
<text x="1091.2" y="610.38" text-anchor="end" font-size="20" font-family="'Liberation Sans', sans-serif" fill="#111">2</text>
<path d="M1098.4,566.46 H1106.4" stroke="#111" stroke-width="1.7"/>
<text x="1091.2" y="571.46" text-anchor="end" font-size="20" font-family="'Liberation Sans', sans-serif" fill="#111">4</text>
<path d="M1098.4,527.54 H1106.4" stroke="#111" stroke-width="1.7"/>
<text x="1091.2" y="532.54" text-anchor="end" font-size="20" font-family="'Liberation Sans', sans-serif" fill="#111">6</text>
<path d="M1098.4,488.62 H1106.4" stroke="#111" stroke-width="1.7"/>
<text x="1091.2" y="493.62" text-anchor="end" font-size="20" font-family="'Liberation Sans', sans-serif" fill="#111">8</text>
<path d="M1098.4,449.7 H1106.4" stroke="#111" stroke-width="1.7"/>
<text x="1091.2" y="454.7" text-anchor="end" font-size="20" font-family="'Liberation Sans', sans-serif" fill="#111">10</text>
<path d="M1098.4,410.78 H1106.4" stroke="#111" stroke-width="1.7"/>
<text x="1091.2" y="415.78" text-anchor="end" font-size="20" font-family="'Liberation Sans', sans-serif" fill="#111">12</text>
<path d="M1118.1,655.6 H1402.02" stroke="#111" stroke-width="1.7" fill="none"/>
<path d="M1118.1,655.6 V663.6" stroke="#111" stroke-width="1.7"/>
<text x="1118.1" y="684.6" text-anchor="middle" font-size="20" font-family="'Liberation Sans', sans-serif" fill="#111">0</text>
<path d="M1158.66,655.6 V663.6" stroke="#111" stroke-width="1.7"/>
<text x="1158.66" y="684.6" text-anchor="middle" font-size="20" font-family="'Liberation Sans', sans-serif" fill="#111">1</text>
<path d="M1199.22,655.6 V663.6" stroke="#111" stroke-width="1.7"/>
<text x="1199.22" y="684.6" text-anchor="middle" font-size="20" font-family="'Liberation Sans', sans-serif" fill="#111">2</text>
<path d="M1239.78,655.6 V663.6" stroke="#111" stroke-width="1.7"/>
<text x="1239.78" y="684.6" text-anchor="middle" font-size="20" font-family="'Liberation Sans', sans-serif" fill="#111">3</text>
<path d="M1280.34,655.6 V663.6" stroke="#111" stroke-width="1.7"/>
<text x="1280.34" y="684.6" text-anchor="middle" font-size="20" font-family="'Liberation Sans', sans-serif" fill="#111">4</text>
<path d="M1320.9,655.6 V663.6" stroke="#111" stroke-width="1.7"/>
<text x="1320.9" y="684.6" text-anchor="middle" font-size="20" font-family="'Liberation Sans', sans-serif" fill="#111">5</text>
<path d="M1361.46,655.6 V663.6" stroke="#111" stroke-width="1.7"/>
<text x="1361.46" y="684.6" text-anchor="middle" font-size="20" font-family="'Liberation Sans', sans-serif" fill="#111">6</text>
<path d="M1402.02,655.6 V663.6" stroke="#111" stroke-width="1.7"/>
<text x="1402.02" y="684.6" text-anchor="middle" font-size="20" font-family="'Liberation Sans', sans-serif" fill="#111">7</text>
<text x="1257.76" y="706.1" text-anchor="middle" font-size="20" font-family="'Liberation Sans', sans-serif" fill="#111">Expected -log<tspan font-size="12" dy="6.5">10</tspan><tspan dy="-6.5">(</tspan><tspan font-style="italic">p</tspan>)</text>
<text transform="translate(1058,531.3) rotate(-90)" text-anchor="middle" font-size="20" font-family="'Liberation Sans', sans-serif" fill="#111">Observed -log<tspan font-size="12" dy="6.5">10</tspan><tspan dy="-6.5">(</tspan><tspan font-style="italic">p</tspan>)</text>
<path d="M1118.1,644.3 L1120.36,643.21 L1122.62,642.13 L1124.88,641.04 L1127.14,639.96 L1129.4,638.87 L1131.66,637.79 L1133.92,636.7 L1136.18,635.62 L1138.44,634.53 L1140.7,633.45 L1142.96,632.36 L1145.22,631.28 L1147.48,630.19 L1149.74,629.11 L1152,628.02 L1154.26,626.93 L1156.52,625.85 L1158.78,624.76 L1161.04,623.68 L1163.3,622.59 L1165.56,621.51 L1167.81,620.42 L1170.07,619.33 L1172.33,618.25 L1174.59,617.16 L1176.85,616.07 L1179.11,614.99 L1181.37,613.9 L1183.63,612.81 L1185.89,611.73 L1188.15,610.64 L1190.41,609.55 L1192.67,608.46 L1194.93,607.38 L1197.19,606.29 L1199.45,605.2 L1201.71,604.11 L1203.97,603.02 L1206.23,601.93 L1208.49,600.84 L1210.75,599.75 L1213.01,598.66 L1215.27,597.57 L1217.53,596.48 L1219.79,595.39 L1222.05,594.29 L1224.31,593.2 L1226.57,592.11 L1228.83,591.01 L1231.09,589.92 L1233.35,588.82 L1235.61,587.73 L1237.87,586.63 L1240.13,585.53 L1242.39,584.43 L1244.65,583.33 L1246.91,582.23 L1249.17,581.13 L1251.43,580.02 L1253.69,578.92 L1255.95,577.81 L1258.21,576.7 L1260.47,575.6 L1262.73,574.48 L1264.99,573.37 L1267.24,572.26 L1269.5,571.14 L1271.76,570.02 L1274.02,568.9 L1276.28,567.77 L1278.54,566.65 L1280.8,565.52 L1283.06,564.38 L1285.32,563.25 L1287.58,562.11 L1289.84,560.96 L1292.1,559.82 L1294.36,558.66 L1296.62,557.5 L1298.88,556.34 L1301.14,555.17 L1303.4,554 L1305.66,552.82 L1307.92,551.63 L1310.18,550.43 L1312.44,549.23 L1314.7,548.01 L1316.96,546.79 L1319.22,545.56 L1321.48,544.31 L1323.74,543.06 L1326,541.78 L1328.26,540.5 L1330.52,539.2 L1332.78,537.88 L1335.04,536.54 L1337.3,535.18 L1339.56,533.8 L1341.82,532.39 L1344.08,530.95 L1346.34,529.48 L1348.6,527.98 L1350.86,526.44 L1353.12,524.86 L1355.38,523.23 L1357.64,521.54 L1359.9,519.79 L1362.16,517.98 L1364.42,516.09 L1366.67,514.11 L1368.93,512.03 L1371.19,509.83 L1373.45,507.5 L1375.71,505.01 L1377.97,502.35 L1380.23,499.48 L1382.49,496.37 L1384.75,492.98 L1387.01,489.27 L1387.01,524.55 L1384.75,525.26 L1382.49,525.97 L1380.23,526.68 L1377.97,527.41 L1375.71,528.14 L1373.45,528.88 L1371.19,529.63 L1368.93,530.4 L1366.67,531.17 L1364.42,531.95 L1362.16,532.74 L1359.9,533.55 L1357.64,534.36 L1355.38,535.19 L1353.12,536.03 L1350.86,536.87 L1348.6,537.73 L1346.34,538.6 L1344.08,539.48 L1341.82,540.36 L1339.56,541.26 L1337.3,542.17 L1335.04,543.08 L1332.78,544 L1330.52,544.94 L1328.26,545.87 L1326,546.82 L1323.74,547.77 L1321.48,548.74 L1319.22,549.7 L1316.96,550.68 L1314.7,551.66 L1312.44,552.64 L1310.18,553.63 L1307.92,554.63 L1305.66,555.63 L1303.4,556.64 L1301.14,557.65 L1298.88,558.66 L1296.62,559.68 L1294.36,560.7 L1292.1,561.73 L1289.84,562.76 L1287.58,563.79 L1285.32,564.82 L1283.06,565.86 L1280.8,566.9 L1278.54,567.95 L1276.28,568.99 L1274.02,570.04 L1271.76,571.09 L1269.5,572.15 L1267.24,573.2 L1264.99,574.26 L1262.73,575.31 L1260.47,576.37 L1258.21,577.43 L1255.95,578.5 L1253.69,579.56 L1251.43,580.63 L1249.17,581.69 L1246.91,582.76 L1244.65,583.83 L1242.39,584.9 L1240.13,585.97 L1237.87,587.04 L1235.61,588.11 L1233.35,589.18 L1231.09,590.26 L1228.83,591.33 L1226.57,592.4 L1224.31,593.48 L1222.05,594.55 L1219.79,595.63 L1217.53,596.71 L1215.27,597.78 L1213.01,598.86 L1210.75,599.94 L1208.49,601.02 L1206.23,602.1 L1203.97,603.18 L1201.71,604.26 L1199.45,605.34 L1197.19,606.42 L1194.93,607.5 L1192.67,608.58 L1190.41,609.66 L1188.15,610.74 L1185.89,611.82 L1183.63,612.9 L1181.37,613.98 L1179.11,615.06 L1176.85,616.15 L1174.59,617.23 L1172.33,618.31 L1170.07,619.39 L1167.81,620.47 L1165.56,621.56 L1163.3,622.64 L1161.04,623.72 L1158.78,624.8 L1156.52,625.89 L1154.26,626.97 L1152,628.05 L1149.74,629.14 L1147.48,630.22 L1145.22,631.3 L1142.96,632.39 L1140.7,633.47 L1138.44,634.55 L1136.18,635.64 L1133.92,636.72 L1131.66,637.8 L1129.4,638.89 L1127.14,639.97 L1124.88,641.05 L1122.62,642.14 L1120.36,643.22 L1118.1,644.3 Z" fill="#000"/>
<path d="M1109.3,650.3 L1411.8,503" stroke="#F00" stroke-width="1.6"/>
<path d="M1118.6,645.6 L1139.9,635 L1159.8,626.3 L1182.4,615 L1199.7,608.4 L1219.6,597.8 L1232.9,588.5 L1243.5,579.2 L1252.8,572.5 L1259.4,569.9 L1267.4,563.2 L1272.7,553.9 L1276.8,537.9 L1280.1,522.1 L1283.4,506.2 L1286,495.7 L1290,485.1 L1296.6,473.2 L1300.6,464 L1304.5,460 L1309.8,460 L1312.4,452.1 L1315.1,444.1 L1317.1,436.2 L1319,429.6 L1323,426.3 L1329.6,427 L1336.2,425 L1341.5,423 L1346.8,420.4 L1350.7,419.1 L1353.4,415.8 L1356,413.8" stroke="#3A7EB8" stroke-width="7" fill="none" stroke-linecap="round" stroke-linejoin="round"/>
<circle cx="1358.4" cy="405.6" r="3.2" fill="#3A7EB8"/>
<circle cx="1362.6" cy="405.2" r="3.2" fill="#3A7EB8"/>
<circle cx="1367.6" cy="405.6" r="3.2" fill="#3A7EB8"/>
<circle cx="1374.8" cy="405.6" r="3.2" fill="#3A7EB8"/>
<circle cx="1387.1" cy="404.3" r="3.2" fill="#3A7EB8"/>
<path d="M1105.4,1011.1 V757.1" stroke="#111" stroke-width="1.7" fill="none"/>
<path d="M1097.4,1011.1 H1105.4" stroke="#111" stroke-width="1.7"/>
<text x="1090.2" y="1016.1" text-anchor="end" font-size="20" font-family="'Liberation Sans', sans-serif" fill="#111">0</text>
<path d="M1097.4,979.35 H1105.4" stroke="#111" stroke-width="1.7"/>
<text x="1090.2" y="984.35" text-anchor="end" font-size="20" font-family="'Liberation Sans', sans-serif" fill="#111">1</text>
<path d="M1097.4,947.6 H1105.4" stroke="#111" stroke-width="1.7"/>
<text x="1090.2" y="952.6" text-anchor="end" font-size="20" font-family="'Liberation Sans', sans-serif" fill="#111">2</text>
<path d="M1097.4,915.85 H1105.4" stroke="#111" stroke-width="1.7"/>
<text x="1090.2" y="920.85" text-anchor="end" font-size="20" font-family="'Liberation Sans', sans-serif" fill="#111">3</text>
<path d="M1097.4,884.1 H1105.4" stroke="#111" stroke-width="1.7"/>
<text x="1090.2" y="889.1" text-anchor="end" font-size="20" font-family="'Liberation Sans', sans-serif" fill="#111">4</text>
<path d="M1097.4,852.35 H1105.4" stroke="#111" stroke-width="1.7"/>
<text x="1090.2" y="857.35" text-anchor="end" font-size="20" font-family="'Liberation Sans', sans-serif" fill="#111">5</text>
<path d="M1097.4,820.6 H1105.4" stroke="#111" stroke-width="1.7"/>
<text x="1090.2" y="825.6" text-anchor="end" font-size="20" font-family="'Liberation Sans', sans-serif" fill="#111">6</text>
<path d="M1097.4,788.85 H1105.4" stroke="#111" stroke-width="1.7"/>
<text x="1090.2" y="793.85" text-anchor="end" font-size="20" font-family="'Liberation Sans', sans-serif" fill="#111">7</text>
<path d="M1097.4,757.1 H1105.4" stroke="#111" stroke-width="1.7"/>
<text x="1090.2" y="762.1" text-anchor="end" font-size="20" font-family="'Liberation Sans', sans-serif" fill="#111">8</text>
<path d="M1116.7,1022.5 H1401.18" stroke="#111" stroke-width="1.7" fill="none"/>
<path d="M1116.7,1022.5 V1030.5" stroke="#111" stroke-width="1.7"/>
<text x="1116.7" y="1051.5" text-anchor="middle" font-size="20" font-family="'Liberation Sans', sans-serif" fill="#111">0</text>
<path d="M1157.34,1022.5 V1030.5" stroke="#111" stroke-width="1.7"/>
<text x="1157.34" y="1051.5" text-anchor="middle" font-size="20" font-family="'Liberation Sans', sans-serif" fill="#111">1</text>
<path d="M1197.98,1022.5 V1030.5" stroke="#111" stroke-width="1.7"/>
<text x="1197.98" y="1051.5" text-anchor="middle" font-size="20" font-family="'Liberation Sans', sans-serif" fill="#111">2</text>
<path d="M1238.62,1022.5 V1030.5" stroke="#111" stroke-width="1.7"/>
<text x="1238.62" y="1051.5" text-anchor="middle" font-size="20" font-family="'Liberation Sans', sans-serif" fill="#111">3</text>
<path d="M1279.26,1022.5 V1030.5" stroke="#111" stroke-width="1.7"/>
<text x="1279.26" y="1051.5" text-anchor="middle" font-size="20" font-family="'Liberation Sans', sans-serif" fill="#111">4</text>
<path d="M1319.9,1022.5 V1030.5" stroke="#111" stroke-width="1.7"/>
<text x="1319.9" y="1051.5" text-anchor="middle" font-size="20" font-family="'Liberation Sans', sans-serif" fill="#111">5</text>
<path d="M1360.54,1022.5 V1030.5" stroke="#111" stroke-width="1.7"/>
<text x="1360.54" y="1051.5" text-anchor="middle" font-size="20" font-family="'Liberation Sans', sans-serif" fill="#111">6</text>
<path d="M1401.18,1022.5 V1030.5" stroke="#111" stroke-width="1.7"/>
<text x="1401.18" y="1051.5" text-anchor="middle" font-size="20" font-family="'Liberation Sans', sans-serif" fill="#111">7</text>
<text x="1256.64" y="1073" text-anchor="middle" font-size="20" font-family="'Liberation Sans', sans-serif" fill="#111">Expected -log<tspan font-size="12" dy="6.5">10</tspan><tspan dy="-6.5">(</tspan><tspan font-style="italic">p</tspan>)</text>
<text transform="translate(1057.7,897.7) rotate(-90)" text-anchor="middle" font-size="20" font-family="'Liberation Sans', sans-serif" fill="#111">Observed -log<tspan font-size="12" dy="6.5">10</tspan><tspan dy="-6.5">(</tspan><tspan font-style="italic">p</tspan>)</text>
<path d="M1116.7,1011.1 L1118.96,1009.33 L1121.23,1007.56 L1123.49,1005.79 L1125.76,1004.02 L1128.02,1002.24 L1130.29,1000.47 L1132.55,998.7 L1134.81,996.93 L1137.08,995.16 L1139.34,993.39 L1141.61,991.62 L1143.87,989.85 L1146.13,988.08 L1148.4,986.31 L1150.66,984.54 L1152.93,982.77 L1155.19,981 L1157.46,979.23 L1159.72,977.45 L1161.98,975.68 L1164.25,973.91 L1166.51,972.14 L1168.78,970.37 L1171.04,968.59 L1173.31,966.82 L1175.57,965.05 L1177.83,963.28 L1180.1,961.5 L1182.36,959.73 L1184.63,957.96 L1186.89,956.18 L1189.16,954.41 L1191.42,952.63 L1193.68,950.86 L1195.95,949.08 L1198.21,947.3 L1200.48,945.53 L1202.74,943.75 L1205,941.97 L1207.27,940.2 L1209.53,938.42 L1211.8,936.64 L1214.06,934.86 L1216.33,933.08 L1218.59,931.29 L1220.85,929.51 L1223.12,927.73 L1225.38,925.94 L1227.65,924.16 L1229.91,922.37 L1232.18,920.58 L1234.44,918.8 L1236.7,917.01 L1238.97,915.21 L1241.23,913.42 L1243.5,911.63 L1245.76,909.83 L1248.03,908.03 L1250.29,906.23 L1252.55,904.43 L1254.82,902.62 L1257.08,900.82 L1259.35,899.01 L1261.61,897.19 L1263.87,895.38 L1266.14,893.56 L1268.4,891.74 L1270.67,889.91 L1272.93,888.08 L1275.2,886.24 L1277.46,884.41 L1279.72,882.56 L1281.99,880.71 L1284.25,878.86 L1286.52,877 L1288.78,875.13 L1291.05,873.26 L1293.31,871.38 L1295.57,869.49 L1297.84,867.59 L1300.1,865.68 L1302.37,863.77 L1304.63,861.84 L1306.9,859.9 L1309.16,857.95 L1311.42,855.99 L1313.69,854.01 L1315.95,852.01 L1318.22,850 L1320.48,847.97 L1322.74,845.91 L1325.01,843.84 L1327.27,841.74 L1329.54,839.62 L1331.8,837.47 L1334.07,835.28 L1336.33,833.06 L1338.59,830.81 L1340.86,828.51 L1343.12,826.17 L1345.39,823.77 L1347.65,821.32 L1349.92,818.81 L1352.18,816.22 L1354.44,813.56 L1356.71,810.81 L1358.97,807.96 L1361.24,805 L1363.5,801.91 L1365.77,798.68 L1368.03,795.29 L1370.29,791.7 L1372.56,787.9 L1374.82,783.85 L1377.09,779.5 L1379.35,774.82 L1381.61,769.75 L1383.88,764.22 L1386.14,758.15 L1386.14,815.73 L1383.88,816.87 L1381.61,818.03 L1379.35,819.2 L1377.09,820.38 L1374.82,821.58 L1372.56,822.79 L1370.29,824.02 L1368.03,825.26 L1365.77,826.52 L1363.5,827.8 L1361.24,829.09 L1358.97,830.4 L1356.71,831.73 L1354.44,833.08 L1352.18,834.45 L1349.92,835.83 L1347.65,837.23 L1345.39,838.64 L1343.12,840.08 L1340.86,841.52 L1338.59,842.99 L1336.33,844.46 L1334.07,845.96 L1331.8,847.46 L1329.54,848.98 L1327.27,850.51 L1325.01,852.06 L1322.74,853.61 L1320.48,855.18 L1318.22,856.76 L1315.95,858.35 L1313.69,859.95 L1311.42,861.55 L1309.16,863.17 L1306.9,864.8 L1304.63,866.43 L1302.37,868.07 L1300.1,869.72 L1297.84,871.37 L1295.57,873.04 L1293.31,874.7 L1291.05,876.38 L1288.78,878.06 L1286.52,879.74 L1284.25,881.43 L1281.99,883.13 L1279.72,884.82 L1277.46,886.53 L1275.2,888.23 L1272.93,889.94 L1270.67,891.66 L1268.4,893.38 L1266.14,895.1 L1263.87,896.82 L1261.61,898.55 L1259.35,900.27 L1257.08,902.01 L1254.82,903.74 L1252.55,905.47 L1250.29,907.21 L1248.03,908.95 L1245.76,910.69 L1243.5,912.44 L1241.23,914.18 L1238.97,915.93 L1236.7,917.67 L1234.44,919.42 L1232.18,921.17 L1229.91,922.92 L1227.65,924.68 L1225.38,926.43 L1223.12,928.18 L1220.85,929.94 L1218.59,931.69 L1216.33,933.45 L1214.06,935.21 L1211.8,936.97 L1209.53,938.73 L1207.27,940.48 L1205,942.24 L1202.74,944.01 L1200.48,945.77 L1198.21,947.53 L1195.95,949.29 L1193.68,951.05 L1191.42,952.82 L1189.16,954.58 L1186.89,956.34 L1184.63,958.11 L1182.36,959.87 L1180.1,961.64 L1177.83,963.4 L1175.57,965.16 L1173.31,966.93 L1171.04,968.7 L1168.78,970.46 L1166.51,972.23 L1164.25,973.99 L1161.98,975.76 L1159.72,977.53 L1157.46,979.29 L1155.19,981.06 L1152.93,982.83 L1150.66,984.59 L1148.4,986.36 L1146.13,988.13 L1143.87,989.89 L1141.61,991.66 L1139.34,993.43 L1137.08,995.2 L1134.81,996.96 L1132.55,998.73 L1130.29,1000.5 L1128.02,1002.27 L1125.76,1004.03 L1123.49,1005.8 L1121.23,1007.57 L1118.96,1009.34 L1116.7,1011.1 Z" fill="#000"/>
<path d="M1109.3,1016.8 L1411.4,778.2" stroke="#F00" stroke-width="1.6"/>
<path d="M1116.6,1010.8 L1125.2,1010.8 L1131.9,1004.1 L1139.9,996.2 L1145.2,992.2 L1150.5,992.2 L1159.8,984.2 L1169.1,977.6 L1178.4,970.2 L1183.7,968.9 L1197,960.3 L1209,949.7 L1214.3,947.7 L1227.6,939.7 L1239.5,931.1 L1252.8,923.1 L1263.4,917.1 L1270,912.6 L1276.3,905.1 L1282.5,900.1 L1288.8,897 L1300,892 L1307.5,891.4 L1320,885.1 L1328.8,880.7 L1340.1,876.4 L1343.8,872.6 L1345.1,867.6 L1350.1,865.1 L1353.8,861.4 L1360.1,858.2 L1365.1,858.2" stroke="#3A7EB8" stroke-width="7" fill="none" stroke-linecap="round" stroke-linejoin="round"/>
<circle cx="1373.2" cy="858.6" r="3.2" fill="#3A7EB8"/>
<circle cx="1385.7" cy="844.1" r="3.2" fill="#3A7EB8"/>
<path d="M1106,1361.7 V1108.2" stroke="#111" stroke-width="1.7" fill="none"/>
<path d="M1098,1361.7 H1106" stroke="#111" stroke-width="1.7"/>
<text x="1090.8" y="1366.7" text-anchor="end" font-size="20" font-family="'Liberation Sans', sans-serif" fill="#111">0</text>
<path d="M1098,1311 H1106" stroke="#111" stroke-width="1.7"/>
<text x="1090.8" y="1316" text-anchor="end" font-size="20" font-family="'Liberation Sans', sans-serif" fill="#111">2</text>
<path d="M1098,1260.3 H1106" stroke="#111" stroke-width="1.7"/>
<text x="1090.8" y="1265.3" text-anchor="end" font-size="20" font-family="'Liberation Sans', sans-serif" fill="#111">4</text>
<path d="M1098,1209.6 H1106" stroke="#111" stroke-width="1.7"/>
<text x="1090.8" y="1214.6" text-anchor="end" font-size="20" font-family="'Liberation Sans', sans-serif" fill="#111">6</text>
<path d="M1098,1158.9 H1106" stroke="#111" stroke-width="1.7"/>
<text x="1090.8" y="1163.9" text-anchor="end" font-size="20" font-family="'Liberation Sans', sans-serif" fill="#111">8</text>
<path d="M1098,1108.2 H1106" stroke="#111" stroke-width="1.7"/>
<text x="1090.8" y="1113.2" text-anchor="end" font-size="20" font-family="'Liberation Sans', sans-serif" fill="#111">10</text>
<path d="M1117.9,1373.4 H1402.31" stroke="#111" stroke-width="1.7" fill="none"/>
<path d="M1117.9,1373.4 V1381.4" stroke="#111" stroke-width="1.7"/>
<text x="1117.9" y="1402.4" text-anchor="middle" font-size="20" font-family="'Liberation Sans', sans-serif" fill="#111">0</text>
<path d="M1158.53,1373.4 V1381.4" stroke="#111" stroke-width="1.7"/>
<text x="1158.53" y="1402.4" text-anchor="middle" font-size="20" font-family="'Liberation Sans', sans-serif" fill="#111">1</text>
<path d="M1199.16,1373.4 V1381.4" stroke="#111" stroke-width="1.7"/>
<text x="1199.16" y="1402.4" text-anchor="middle" font-size="20" font-family="'Liberation Sans', sans-serif" fill="#111">2</text>
<path d="M1239.79,1373.4 V1381.4" stroke="#111" stroke-width="1.7"/>
<text x="1239.79" y="1402.4" text-anchor="middle" font-size="20" font-family="'Liberation Sans', sans-serif" fill="#111">3</text>
<path d="M1280.42,1373.4 V1381.4" stroke="#111" stroke-width="1.7"/>
<text x="1280.42" y="1402.4" text-anchor="middle" font-size="20" font-family="'Liberation Sans', sans-serif" fill="#111">4</text>
<path d="M1321.05,1373.4 V1381.4" stroke="#111" stroke-width="1.7"/>
<text x="1321.05" y="1402.4" text-anchor="middle" font-size="20" font-family="'Liberation Sans', sans-serif" fill="#111">5</text>
<path d="M1361.68,1373.4 V1381.4" stroke="#111" stroke-width="1.7"/>
<text x="1361.68" y="1402.4" text-anchor="middle" font-size="20" font-family="'Liberation Sans', sans-serif" fill="#111">6</text>
<path d="M1402.31,1373.4 V1381.4" stroke="#111" stroke-width="1.7"/>
<text x="1402.31" y="1402.4" text-anchor="middle" font-size="20" font-family="'Liberation Sans', sans-serif" fill="#111">7</text>
<text x="1257.81" y="1423.9" text-anchor="middle" font-size="20" font-family="'Liberation Sans', sans-serif" fill="#111">Expected -log<tspan font-size="12" dy="6.5">10</tspan><tspan dy="-6.5">(</tspan><tspan font-style="italic">p</tspan>)</text>
<text transform="translate(1058,1249) rotate(-90)" text-anchor="middle" font-size="20" font-family="'Liberation Sans', sans-serif" fill="#111">Observed -log<tspan font-size="12" dy="6.5">10</tspan><tspan dy="-6.5">(</tspan><tspan font-style="italic">p</tspan>)</text>
<path d="M1117.9,1361.7 L1120.16,1360.28 L1122.43,1358.87 L1124.69,1357.46 L1126.95,1356.04 L1129.22,1354.63 L1131.48,1353.22 L1133.75,1351.8 L1136.01,1350.39 L1138.27,1348.98 L1140.54,1347.56 L1142.8,1346.15 L1145.06,1344.73 L1147.33,1343.32 L1149.59,1341.91 L1151.86,1340.49 L1154.12,1339.08 L1156.38,1337.66 L1158.65,1336.25 L1160.91,1334.84 L1163.17,1333.42 L1165.44,1332.01 L1167.7,1330.59 L1169.96,1329.18 L1172.23,1327.76 L1174.49,1326.35 L1176.76,1324.93 L1179.02,1323.52 L1181.28,1322.1 L1183.55,1320.68 L1185.81,1319.27 L1188.07,1317.85 L1190.34,1316.43 L1192.6,1315.02 L1194.86,1313.6 L1197.13,1312.18 L1199.39,1310.76 L1201.66,1309.35 L1203.92,1307.93 L1206.18,1306.51 L1208.45,1305.09 L1210.71,1303.67 L1212.97,1302.25 L1215.24,1300.83 L1217.5,1299.4 L1219.77,1297.98 L1222.03,1296.56 L1224.29,1295.13 L1226.56,1293.71 L1228.82,1292.28 L1231.08,1290.86 L1233.35,1289.43 L1235.61,1288 L1237.87,1286.57 L1240.14,1285.14 L1242.4,1283.71 L1244.67,1282.28 L1246.93,1280.84 L1249.19,1279.41 L1251.46,1277.97 L1253.72,1276.53 L1255.98,1275.09 L1258.25,1273.65 L1260.51,1272.2 L1262.77,1270.75 L1265.04,1269.3 L1267.3,1267.85 L1269.57,1266.4 L1271.83,1264.94 L1274.09,1263.48 L1276.36,1262.01 L1278.62,1260.54 L1280.88,1259.07 L1283.15,1257.6 L1285.41,1256.12 L1287.68,1254.63 L1289.94,1253.14 L1292.2,1251.64 L1294.47,1250.14 L1296.73,1248.63 L1298.99,1247.12 L1301.26,1245.6 L1303.52,1244.07 L1305.78,1242.53 L1308.05,1240.98 L1310.31,1239.42 L1312.58,1237.85 L1314.84,1236.27 L1317.1,1234.68 L1319.37,1233.07 L1321.63,1231.45 L1323.89,1229.81 L1326.16,1228.16 L1328.42,1226.48 L1330.69,1224.78 L1332.95,1223.07 L1335.21,1221.32 L1337.48,1219.55 L1339.74,1217.75 L1342,1215.92 L1344.27,1214.04 L1346.53,1212.13 L1348.79,1210.17 L1351.06,1208.17 L1353.32,1206.1 L1355.59,1203.98 L1357.85,1201.78 L1360.11,1199.51 L1362.38,1197.15 L1364.64,1194.68 L1366.9,1192.1 L1369.17,1189.39 L1371.43,1186.53 L1373.69,1183.49 L1375.96,1180.26 L1378.22,1176.79 L1380.49,1173.05 L1382.75,1169 L1385.01,1164.58 L1387.28,1159.74 L1387.28,1205.71 L1385.01,1206.63 L1382.75,1207.55 L1380.49,1208.48 L1378.22,1209.43 L1375.96,1210.38 L1373.69,1211.35 L1371.43,1212.33 L1369.17,1213.32 L1366.9,1214.33 L1364.64,1215.35 L1362.38,1216.38 L1360.11,1217.43 L1357.85,1218.49 L1355.59,1219.57 L1353.32,1220.66 L1351.06,1221.76 L1348.79,1222.88 L1346.53,1224.01 L1344.27,1225.15 L1342,1226.31 L1339.74,1227.47 L1337.48,1228.65 L1335.21,1229.85 L1332.95,1231.05 L1330.69,1232.26 L1328.42,1233.48 L1326.16,1234.72 L1323.89,1235.96 L1321.63,1237.21 L1319.37,1238.47 L1317.1,1239.74 L1314.84,1241.02 L1312.58,1242.3 L1310.31,1243.59 L1308.05,1244.89 L1305.78,1246.19 L1303.52,1247.5 L1301.26,1248.82 L1298.99,1250.14 L1296.73,1251.47 L1294.47,1252.8 L1292.2,1254.13 L1289.94,1255.48 L1287.68,1256.82 L1285.41,1258.17 L1283.15,1259.52 L1280.88,1260.88 L1278.62,1262.24 L1276.36,1263.6 L1274.09,1264.97 L1271.83,1266.33 L1269.57,1267.71 L1267.3,1269.08 L1265.04,1270.46 L1262.77,1271.83 L1260.51,1273.21 L1258.25,1274.6 L1255.98,1275.98 L1253.72,1277.37 L1251.46,1278.75 L1249.19,1280.14 L1246.93,1281.53 L1244.67,1282.92 L1242.4,1284.32 L1240.14,1285.71 L1237.87,1287.11 L1235.61,1288.5 L1233.35,1289.9 L1231.08,1291.3 L1228.82,1292.7 L1226.56,1294.1 L1224.29,1295.5 L1222.03,1296.9 L1219.77,1298.3 L1217.5,1299.7 L1215.24,1301.11 L1212.97,1302.51 L1210.71,1303.91 L1208.45,1305.32 L1206.18,1306.72 L1203.92,1308.13 L1201.66,1309.54 L1199.39,1310.94 L1197.13,1312.35 L1194.86,1313.76 L1192.6,1315.16 L1190.34,1316.57 L1188.07,1317.98 L1185.81,1319.39 L1183.55,1320.8 L1181.28,1322.21 L1179.02,1323.62 L1176.76,1325.02 L1174.49,1326.43 L1172.23,1327.84 L1169.96,1329.25 L1167.7,1330.66 L1165.44,1332.07 L1163.17,1333.48 L1160.91,1334.89 L1158.65,1336.3 L1156.38,1337.71 L1154.12,1339.13 L1151.86,1340.54 L1149.59,1341.95 L1147.33,1343.36 L1145.06,1344.77 L1142.8,1346.18 L1140.54,1347.59 L1138.27,1349 L1136.01,1350.41 L1133.75,1351.82 L1131.48,1353.24 L1129.22,1354.65 L1126.95,1356.06 L1124.69,1357.47 L1122.43,1358.88 L1120.16,1360.29 L1117.9,1361.7 Z" fill="#000"/>
<path d="M1109.3,1369.5 L1412.9,1177.5" stroke="#F00" stroke-width="1.6"/>
<path d="M1118.6,1362.9 L1124.6,1362.9 L1133.2,1357.6 L1155.8,1344.3 L1179.7,1329.7 L1199.7,1315 L1215.6,1304.4 L1226.2,1295.1 L1236.9,1283.1 L1244.8,1269.9 L1248.5,1258 L1253.2,1244.3 L1259.5,1236.8 L1266.5,1229.2 L1273.8,1220.1 L1282.1,1212.9 L1286.9,1205.8 L1295.2,1198.7 L1307.1,1190.3 L1311.8,1190.3 L1321.3,1184.4 L1328.5,1178.5 L1340.3,1172.5 L1345.1,1169 L1349.9,1164.2 L1351,1158.3 L1354.6,1154.7 L1359.4,1151.1 L1364.1,1151.1 L1368.9,1151.4" stroke="#3A7EB8" stroke-width="7" fill="none" stroke-linecap="round" stroke-linejoin="round"/>
<circle cx="1375.8" cy="1144" r="3.2" fill="#3A7EB8"/>
<circle cx="1387.9" cy="1128.9" r="3.2" fill="#3A7EB8"/>
</svg></body></html>
